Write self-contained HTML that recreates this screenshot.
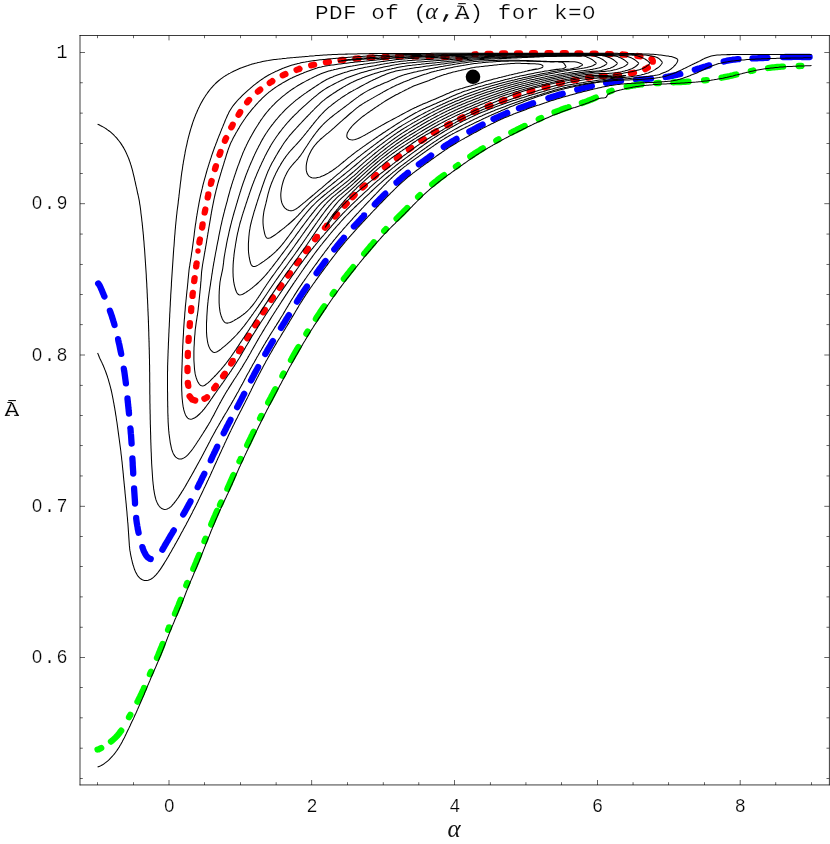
<!DOCTYPE html>
<html><head><meta charset="utf-8"><title>PDF of (alpha, A) for k=0</title>
<style>html,body{margin:0;padding:0;background:#fff;font-family:"Liberation Mono",monospace}svg{display:block}</style>
</head><body>
<svg width="830" height="844" viewBox="0 0 830 844">
<rect width="830" height="844" fill="#fff"/>
<g fill="none" stroke="#0000ff" stroke-width="6.3" stroke-linecap="round" stroke-linejoin="round">
<path d="M98.2,283.5L99.1,284.7L99.9,286.0L100.5,287.3L101.1,288.7L101.7,290.1L102.3,291.5L102.9,292.9L103.5,294.3L104.0,295.7L104.4,296.4"/>
<path d="M109.9,310.7L110.0,311.0L110.5,312.4L111.0,313.8L111.5,315.2L112.0,316.6L112.4,318.1L112.9,319.5L113.3,320.9L113.8,322.4L114.2,323.8L114.5,325.0"/>
<path d="M118.1,339.2L118.2,339.8L118.5,341.3L118.8,342.7L119.2,344.2L119.5,345.7L119.8,347.1L120.1,348.6L120.4,350.1L120.7,351.5L121.0,353.0L121.2,353.9"/>
<path d="M123.8,368.6L123.9,369.2L124.1,370.7L124.4,372.2L124.6,373.7L124.8,375.2L125.0,376.6L125.2,378.1L125.4,379.6L125.6,381.1L125.8,382.6L125.9,383.4"/>
<path d="M127.5,398.5L127.5,399.0L127.7,400.5L127.8,402.0L128.0,403.5L128.1,405.0L128.3,406.5L128.4,407.9L128.6,409.4L128.7,410.9L128.9,412.4L129.0,413.5"/>
<path d="M130.4,428.5L130.5,428.8L130.6,430.3L130.7,431.8L130.8,433.3L131.0,434.8L131.1,436.3L131.2,437.8L131.3,439.3L131.4,440.8L131.5,442.3L131.6,443.5"/>
<path d="M132.4,458.5L132.4,458.8L132.5,460.3L132.6,461.8L132.7,463.3L132.7,464.8L132.8,466.3L132.9,467.8L133.0,469.2L133.1,470.7L133.2,472.2L133.2,473.5"/>
<path d="M134.1,488.5L134.1,488.7L134.2,490.2L134.3,491.7L134.4,493.2L134.5,494.7L134.6,496.2L134.7,497.7L134.8,499.2L134.9,500.7L135.0,502.2L135.0,503.5"/>
<path d="M136.2,518.0L136.2,518.6L136.4,520.1L136.6,521.6L136.8,523.1L137.1,524.6L137.3,526.0L137.6,527.5L137.8,529.0L138.1,530.4L138.4,531.9L138.6,532.8"/>
<path d="M142.4,547.1L142.6,547.8L143.1,549.2L143.6,550.6L144.2,551.9L144.8,553.1L145.5,554.4L146.2,555.5L147.0,556.5L147.9,557.4L148.8,558.1L149.8,558.7L150.7,559.0"/>
<path d="M162.4,549.7L162.6,549.4L163.3,548.1L164.1,546.8L164.8,545.5L165.6,544.2L166.3,542.9L167.1,541.6L167.9,540.3L168.6,539.0L169.4,537.8L170.1,536.5L170.9,535.2L171.7,533.9L172.5,532.6L173.2,531.3L173.8,530.4"/>
<path d="M183.2,514.5L183.9,513.3L184.7,512.0L185.4,510.7L186.2,509.3L186.9,508.0L187.6,506.7L188.3,505.4L189.0,504.1L189.8,502.8L190.5,501.4L190.5,501.4"/>
<path d="M197.7,487.2L197.9,486.7L198.6,485.4L199.2,484.0L199.9,482.7L200.6,481.4L201.2,480.0L201.9,478.7L202.5,477.3L203.2,476.0L203.9,474.6L204.3,473.8"/>
<path d="M210.8,460.3L211.0,459.8L211.7,458.4L212.3,457.0L212.9,455.7L213.6,454.3L214.2,453.0L214.9,451.6L215.5,450.3L216.2,448.9L216.8,447.6L217.2,446.7"/>
<path d="M223.7,433.2L224.0,432.7L224.6,431.4L225.3,430.0L226.0,428.7L226.6,427.3L227.3,426.0L228.0,424.7L228.7,423.3L229.4,422.0L230.1,420.7L230.5,419.9"/>
<path d="M237.2,407.1L237.8,406.1L238.5,404.8L239.2,403.4L239.9,402.1L240.6,400.8L241.3,399.4L242.0,398.1L242.6,396.8L243.3,395.4L244.0,394.1L244.2,393.8"/>
<path d="M251.0,380.4L251.6,379.4L252.2,378.1L252.9,376.8L253.6,375.5L254.3,374.1L255.0,372.8L255.7,371.5L256.4,370.2L257.2,368.8L257.9,367.5L258.1,367.1"/>
<path d="M265.3,354.0L265.8,353.1L266.6,351.8L267.3,350.5L268.1,349.2L268.8,347.9L269.6,346.6L270.4,345.3L271.1,344.0L271.9,342.7L272.7,341.4L272.9,341.1"/>
<path d="M281.0,327.9L281.3,327.4L282.1,326.1L282.9,324.8L283.7,323.6L284.5,322.3L285.3,321.0L286.0,319.7L286.8,318.4L287.6,317.2L288.4,315.9L288.9,315.1"/>
<path d="M297.0,301.6L297.7,300.5L298.5,299.2L299.3,298.0L300.1,296.7L300.9,295.5L301.8,294.2L302.6,292.9L303.4,291.7L304.3,290.5L305.1,289.2L305.9,288.0L306.8,286.7L306.9,286.6"/>
<path d="M316.6,273.1L317.3,272.1L318.2,270.9L319.0,269.7L319.9,268.5L320.8,267.3L321.7,266.1L322.6,264.9L323.5,263.7L324.4,262.4L325.3,261.2L325.5,261.0"/>
<path d="M334.3,249.4L334.4,249.3L335.3,248.2L336.3,247.0L337.2,245.8L338.1,244.7L339.1,243.5L340.1,242.3L341.0,241.2L342.0,240.1L343.0,238.9L343.9,237.8"/>
<path d="M353.9,226.5L354.9,225.5L355.9,224.4L356.9,223.3L358.0,222.2L359.0,221.1L360.0,220.0L361.0,218.9L362.0,217.8L363.1,216.7L364.1,215.6L364.1,215.5"/>
<path d="M374.8,204.4L375.5,203.6L376.5,202.6L377.6,201.5L378.6,200.4L379.7,199.3L380.7,198.3L381.8,197.2L382.8,196.1L383.9,195.1L384.9,194.0L385.3,193.7"/>
<path d="M396.5,182.6L396.7,182.5L397.8,181.4L398.9,180.4L400.0,179.4L401.2,178.4L402.3,177.4L403.4,176.5L404.6,175.5L405.7,174.6L406.9,173.6L407.9,172.8"/>
<path d="M418.9,164.4L420.0,163.6L421.2,162.7L422.4,161.9L423.6,161.0L424.9,160.1L426.1,159.2L427.3,158.4L428.5,157.5L429.7,156.6L431.0,155.7L431.1,155.6"/>
<path d="M443.8,146.9L444.5,146.3L445.8,145.5L447.0,144.7L448.3,143.9L449.6,143.1L450.8,142.3L452.1,141.5L453.4,140.7L454.7,140.0L455.9,139.2L456.5,138.9"/>
<path d="M469.4,131.6L470.3,131.1L471.6,130.4L473.0,129.7L474.3,128.9L475.6,128.2L476.9,127.5L478.2,126.8L479.6,126.1L480.9,125.4L482.2,124.7L482.6,124.5"/>
<path d="M493.5,119.0L494.3,118.7L495.6,118.0L497.0,117.4L498.4,116.8L499.7,116.2L501.1,115.6L502.5,115.0L503.8,114.4L505.2,113.8L506.6,113.2L507.2,112.9"/>
<path d="M519.0,108.3L519.2,108.2L520.6,107.7L522.0,107.2L523.4,106.7L524.8,106.2L526.2,105.7L527.6,105.2L529.0,104.7L530.4,104.1L531.8,103.6L533.1,103.2"/>
<path d="M548.4,98.1L548.9,97.9L550.3,97.5L551.8,97.0L553.2,96.6L554.6,96.1L556.1,95.7L557.5,95.2L558.9,94.8L560.4,94.4L561.8,94.0L562.7,93.7"/>
<path d="M577.2,89.7L577.7,89.6L579.2,89.2L580.6,88.8L582.1,88.4L583.5,88.1L585.0,87.7L586.4,87.3L587.9,87.0L589.3,86.6L590.8,86.3L591.8,86.0"/>
<path d="M606.1,82.9L606.9,82.8L608.4,82.5L609.9,82.2L611.3,82.0L612.8,81.8L614.3,81.6L615.8,81.4L617.3,81.2L618.8,81.0L620.3,80.9L621.0,80.8"/>
<path d="M636.0,79.8L636.7,79.7L638.2,79.6L639.7,79.5L641.2,79.4L642.7,79.3L644.2,79.2L645.7,79.1L647.2,79.0L648.7,78.8L650.2,78.7L651.0,78.6"/>
<path d="M665.6,77.0L666.5,76.8L668.0,76.6L669.5,76.3L671.0,76.1L672.4,75.8L673.9,75.5L675.4,75.2L676.8,74.8L678.3,74.5L679.7,74.1L680.3,74.0"/>
<path d="M694.8,69.7L695.5,69.5L697.0,69.0L698.4,68.6L699.9,68.2L701.3,67.7L702.7,67.3L704.2,66.9L705.6,66.5L707.0,66.0L708.5,65.6L709.2,65.4"/>
<path d="M723.7,61.5L724.4,61.3L725.9,61.0L727.3,60.7L728.8,60.4L730.3,60.2L731.8,60.0L733.2,59.7L734.7,59.6L736.2,59.4L737.7,59.2L738.5,59.2"/>
<path d="M752.5,58.4L752.7,58.4L754.1,58.4L755.6,58.3L757.1,58.3L758.6,58.2L760.1,58.1L761.6,58.1L763.1,58.0L764.6,57.9L766.1,57.8L767.5,57.8"/>
<path d="M783.0,57.1L784.1,57.1L785.6,57.0L787.1,57.0L788.6,57.0L790.1,57.0L791.5,57.0L793.0,56.9L794.5,56.9L796.1,56.9L797.6,56.9L799.1,56.9L800.6,56.9L802.1,57.0L803.6,57.0L805.1,57.0L806.6,57.0L808.1,57.0L809.6,57.0"/>
</g>
<g fill="none" stroke="#ff0000" stroke-width="6.3" stroke-linecap="round">
<path d="M189.6,396.3 L192.2,399.6 L195.2,400.6"/>
<path d="M188.3,385.9L188.2,385.2L188.0,384.2L187.8,383.2L187.8,383.0"/>
<path d="M187.5,371.0L187.5,370.3L187.5,369.3L187.5,368.3L187.5,368.0"/>
<path d="M187.8,356.0L187.8,355.3L187.8,354.3L187.9,353.3L187.9,353.0"/>
<path d="M188.5,340.9L188.6,340.3L188.6,339.3L188.7,338.3L188.7,337.9"/>
<path d="M189.7,326.1L189.7,325.4L189.8,324.4L189.9,323.4L189.9,323.1"/>
<path d="M191.1,311.1L191.1,310.4L191.2,309.4L191.3,308.4L191.3,308.1"/>
<path d="M192.5,295.9L192.5,295.5L192.6,294.5L192.7,293.5L192.8,292.9"/>
<path d="M194.2,281.1L194.3,280.6L194.4,279.6L194.5,278.6L194.6,278.1"/>
<path d="M196.2,266.5L196.3,265.8L196.4,264.8L196.5,263.8L196.6,263.5"/>
<path d="M198.0,251.1L198.0,251.0" stroke-width="5.4"/>
<path d="M199.4,242.5L199.4,242.0L199.6,241.0L199.8,240.0L199.9,239.5"/>
<path d="M202.1,227.5L202.2,227.2L202.3,226.3L202.5,225.3L202.6,224.5"/>
<path d="M204.7,212.5L204.9,211.5L205.1,210.5L205.3,209.5L205.3,209.5"/>
<path d="M207.7,197.5L207.8,196.8L208.1,195.8L208.3,194.8L208.3,194.5"/>
<path d="M210.9,183.9L211.0,183.2L211.3,182.2L211.5,181.2L211.6,181.0"/>
<path d="M215.0,169.0L215.1,168.7L215.4,167.8L215.7,166.8L215.9,166.2"/>
<path d="M219.5,154.8L219.7,154.5L220.0,153.5L220.3,152.6L220.5,152.0"/>
<path d="M224.9,140.8L225.0,140.5L225.4,139.5L225.8,138.6L226.1,138.1"/>
<path d="M231.3,127.3L231.5,127.0L232.0,126.1L232.5,125.2L232.7,124.7"/>
<path d="M238.6,114.7L239.0,114.0L239.6,113.2L240.1,112.3L240.2,112.1"/>
<path d="M247.2,102.2L247.6,101.7L248.2,100.9L248.9,100.2L249.1,100.0"/>
<path d="M257.9,91.6L258.3,91.3L259.1,90.6L259.8,90.0L260.2,89.7"/>
<path d="M269.8,82.9L270.4,82.4L271.2,81.9L272.1,81.4L272.3,81.2"/>
<path d="M282.7,75.3L283.4,75.0L284.3,74.6L285.2,74.2L285.4,74.1"/>
<path d="M296.6,69.9L297.4,69.6L298.3,69.3L299.3,69.0L299.4,68.9"/>
<path d="M311.2,65.4L311.7,65.3L312.7,65.0L313.6,64.8L314.1,64.7"/>
<path d="M325.9,62.3L326.4,62.2L327.4,62.0L328.3,61.9L328.9,61.8"/>
<path d="M340.5,60.2L341.2,60.1L342.2,60.0L343.2,59.9L343.5,59.9"/>
<path d="M355.5,58.7L356.1,58.7L357.1,58.6L358.1,58.5L358.5,58.5"/>
<path d="M369.5,57.7L370.1,57.7L371.1,57.6L372.1,57.6L372.5,57.5"/>
<path d="M383.9,57.1L384.1,57.0L385.1,57.0L386.1,57.0L386.9,56.9"/>
<path d="M398.1,56.5L399.1,56.4L400.1,56.4L401.1,56.4L401.1,56.4"/>
<path d="M413.5,56.4L414.0,56.4L415.0,56.4L416.0,56.4L416.5,56.4"/>
<path d="M428.5,56.5L429.0,56.5L430.0,56.5L431.0,56.5L431.5,56.5"/>
<path d="M443.5,56.8L444.0,56.8L445.0,56.8L446.0,56.9L446.5,56.9"/>
<path d="M458.5,57.5L459.0,57.5L460.0,57.6"/>
<path d="M474.4,54.4L475.4,54.4L475.9,54.3"/>
<path d="M487.5,53.9L488.4,53.8L489.4,53.8L490.4,53.8L490.5,53.8"/>
<path d="M502.1,53.5L502.4,53.5L503.4,53.5L504.4,53.5L505.1,53.5"/>
<path d="M517.0,53.3L517.4,53.3L518.4,53.3L519.4,53.3L520.0,53.3"/>
<path d="M532.0,53.2L532.4,53.2L533.4,53.2L534.4,53.2L535.0,53.2"/>
<path d="M547.5,53.2L548.4,53.2L549.4,53.2L550.4,53.2L550.5,53.2"/>
<path d="M562.8,53.2L563.4,53.2L564.4,53.2L565.4,53.2L565.8,53.2"/>
<path d="M577.4,53.3L578.4,53.3L579.4,53.3L580.4,53.3L580.4,53.3"/>
<path d="M592.6,53.6L593.4,53.6L594.4,53.6L595.4,53.6L595.6,53.6"/>
<path d="M607.8,54.0L608.4,54.1L609.4,54.1L610.4,54.1L610.8,54.1"/>
<path d="M622.5,54.5L623.4,54.6L624.4,54.6L625.3,54.7L625.5,54.7"/>
<path d="M637.4,55.9L638.3,56.0L639.3,56.2L640.3,56.3L640.4,56.3"/>
<path d="M651.6,59.1L652.1,59.6L652.5,60.1L652.8,60.8L652.8,61.5L652.8,61.7"/>
<path d="M647.8,67.6L647.6,67.7L646.8,68.2L645.9,68.7L645.2,69.1"/>
<path d="M633.9,72.7L633.7,72.8L632.7,73.0L631.7,73.2L630.9,73.4"/>
<path d="M619.0,75.1L618.9,75.1L617.9,75.2L616.9,75.3L616.0,75.4"/>
<path d="M604.7,75.8L603.9,75.8L602.9,75.9L601.9,75.9L601.7,75.9"/>
<path d="M591.0,77.1L591.0,77.1L590.0,77.3L589.0,77.4L588.0,77.6"/>
<path d="M576.5,79.8L576.2,79.8L575.2,80.0L574.3,80.2L573.5,80.4"/>
<path d="M561.8,82.7L561.5,82.8L560.5,83.0L559.6,83.2L558.9,83.4"/>
<path d="M547.4,86.5L547.0,86.6L546.0,86.9L545.1,87.1L544.6,87.3"/>
<path d="M532.4,90.6L531.6,90.8L530.6,91.1L529.7,91.4L529.6,91.4"/>
<path d="M518.4,94.6L518.1,94.7L517.2,95.0L516.2,95.3L515.6,95.5"/>
<path d="M504.4,99.9L504.1,100.0L503.2,100.4L502.3,100.8L501.6,101.0"/>
<path d="M490.4,105.4L490.2,105.5L489.2,105.9L488.3,106.3L487.6,106.5"/>
<path d="M476.4,110.9L476.2,111.0L475.3,111.4L474.4,111.8L473.6,112.1"/>
<path d="M462.8,117.3L462.6,117.4L461.8,117.9L460.9,118.3L460.2,118.7"/>
<path d="M449.8,123.8L449.2,124.1L448.3,124.6L447.5,125.1L447.2,125.2"/>
<path d="M436.3,131.3L436.1,131.4L435.2,131.9L434.4,132.4L433.7,132.8"/>
<path d="M423.9,139.2L423.5,139.4L422.6,140.0L421.8,140.5L421.3,140.8"/>
<path d="M411.2,147.7L411.0,147.8L410.2,148.4L409.4,149.0L408.8,149.4"/>
<path d="M399.2,156.4L398.9,156.6L398.1,157.2L397.3,157.8L396.8,158.2"/>
<path d="M387.2,165.4L386.9,165.6L386.1,166.3L385.3,166.9L384.9,167.3"/>
<path d="M376.1,175.2L375.7,175.6L374.9,176.3L374.2,176.9L373.9,177.2"/>
<path d="M364.8,185.5L364.6,185.7L363.8,186.4L363.1,187.0L362.6,187.5"/>
<path d="M354.6,195.1L354.4,195.3L353.7,196.0L353.0,196.7L352.5,197.2"/>
<path d="M346.7,203.5L346.2,204.0L345.5,204.8L344.9,205.5L344.7,205.7"/>
<path d="M337.0,214.3L336.8,214.5L336.2,215.2L335.5,215.9L335.0,216.5"/>
<path d="M327.0,225.5L326.8,225.6L326.2,226.4L325.5,227.1L325.0,227.7"/>
<path d="M317.0,236.9L316.9,236.9L316.3,237.7L315.7,238.5L315.1,239.2"/>
<path d="M307.9,248.8L307.9,248.8L307.3,249.6L306.7,250.4L306.1,251.2"/>
<path d="M298.9,260.8L298.9,260.8L298.3,261.6L297.7,262.4L297.1,263.2"/>
<path d="M289.9,273.2L289.5,273.8L288.9,274.6L288.3,275.4L288.1,275.6"/>
<path d="M281.3,285.4L280.8,286.0L280.2,286.8L279.6,287.7L279.5,287.8"/>
<path d="M272.9,297.4L272.8,297.5L272.2,298.3L271.7,299.1L271.2,299.9"/>
<path d="M264.8,309.7L264.6,310.1L264.1,310.9L263.5,311.8L263.2,312.3"/>
<path d="M256.8,322.7L256.7,322.8L256.2,323.7L255.7,324.5L255.2,325.3"/>
<path d="M248.8,335.7L248.3,336.5L247.8,337.3L247.3,338.2L247.2,338.3"/>
<path d="M240.8,348.7L240.5,349.2L239.9,350.1L239.4,350.9L239.2,351.3"/>
<path d="M232.8,360.9L232.8,361.0L232.3,361.8L231.7,362.6L231.2,363.5"/>
<path d="M224.8,373.7L224.3,374.5L223.7,375.3L223.2,376.1L223.1,376.2"/>
<path d="M215.9,385.8L215.4,386.6L214.8,387.4L214.2,388.2L214.2,388.3"/>
<path d="M207.0,397.3L206.9,397.4L206.0,397.9L205.2,398.4L204.4,398.7"/>
</g>
<g fill="none" stroke="#00ff00" stroke-width="6.3" stroke-linecap="round" stroke-linejoin="round">
<path d="M97.5,749.5L98.6,749.3L99.9,748.7L101.2,748.0L101.2,748.0"/>
<path d="M111.0,741.6L111.2,741.4L112.3,740.5L113.4,739.5L114.5,738.5L115.6,737.5L116.6,736.4L117.6,735.3L118.5,734.2L119.5,733.0L120.3,731.8L121.2,730.7"/>
<path d="M129.0,717.2L129.4,716.4L130.2,715.1L130.3,714.9"/>
<path d="M137.5,701.6L138.1,700.6L138.7,699.3L139.4,697.9L140.1,696.6L140.7,695.2L141.4,693.9L142.0,692.5L142.6,691.2L143.3,689.8L143.9,688.4L144.0,688.1"/>
<path d="M149.9,674.2L150.3,673.3L150.9,671.9L151.0,671.8"/>
<path d="M157.0,657.9L157.5,656.8L158.1,655.4L158.7,654.0L159.2,652.6L159.8,651.2L160.4,649.8L160.9,648.4L161.5,647.1L162.0,645.7L162.6,644.3L162.7,644.0"/>
<path d="M168.1,629.8L168.5,628.9L169.1,627.5L169.1,627.4"/>
<path d="M175.0,613.7L175.6,612.3L176.2,611.0L176.7,609.6L177.3,608.2L177.9,606.8L178.5,605.4L179.0,604.0L179.6,602.6L180.1,601.2L180.7,599.8L180.7,599.8"/>
<path d="M186.3,585.4L186.7,584.5L187.2,583.1L187.3,583.0"/>
<path d="M193.3,568.9L193.7,567.9L194.3,566.6L194.9,565.2L195.5,563.8L196.1,562.4L196.6,561.0L197.2,559.6L197.8,558.3L198.3,556.9L198.9,555.5L199.1,555.0"/>
<path d="M204.5,541.2L205.0,540.1L205.5,538.8"/>
<path d="M211.2,524.5L211.6,523.4L212.2,522.0L212.8,520.7L213.4,519.3L214.0,517.9L214.6,516.5L215.2,515.2L215.8,513.8L216.4,512.4L217.0,511.1L217.2,510.7"/>
<path d="M220.0,504.8L220.2,504.3L220.9,502.9L221.1,502.4"/>
<path d="M227.4,488.8L227.8,488.0L228.4,486.6L229.0,485.2L229.6,483.9L230.2,482.5L230.8,481.1L231.4,479.7L232.0,478.4L232.6,477.0L233.2,475.6L233.5,475.1"/>
<path d="M239.5,461.2L239.9,460.5L240.5,459.2L240.6,458.9"/>
<path d="M247.2,445.2L247.6,444.3L248.3,443.0L248.9,441.6L249.6,440.3L250.2,438.9L250.9,437.6L251.5,436.2L252.2,434.8L252.8,433.5L253.5,432.1L253.7,431.7"/>
<path d="M260.1,418.2L260.6,417.3L261.2,415.9L261.3,415.9"/>
<path d="M268.2,402.6L268.9,401.3L269.6,400.0L270.3,398.7L271.0,397.4L271.7,396.0L272.4,394.7L273.1,393.4L273.8,392.1L274.5,390.7L275.2,389.4L275.3,389.3"/>
<path d="M282.4,375.8L282.9,374.8L283.6,373.5L283.6,373.5"/>
<path d="M291.0,360.0L291.6,359.0L292.3,357.7L293.1,356.4L293.8,355.1L294.5,353.8L295.3,352.5L296.0,351.2L296.8,349.9L297.5,348.6L298.3,347.3L298.5,347.0"/>
<path d="M306.4,333.7L306.7,333.2L307.5,331.9L307.7,331.5"/>
<path d="M315.9,318.8L316.4,318.0L317.2,316.7L318.0,315.5L318.9,314.2L319.7,313.0L320.5,311.7L321.4,310.5L322.2,309.2L323.0,308.0L323.9,306.8L324.2,306.3"/>
<path d="M332.7,294.1L333.3,293.2L334.2,292.0L334.2,292.0"/>
<path d="M343.9,278.9L344.0,278.8L344.9,277.6L345.9,276.4L346.8,275.2L347.7,274.1L348.6,272.9L349.6,271.7L350.5,270.5L351.4,269.4L352.4,268.2L353.2,267.2"/>
<path d="M364.2,253.8L364.7,253.1L365.7,252.0L366.7,250.8L367.6,249.7L368.6,248.5L369.6,247.4L370.5,246.2L371.5,245.1L372.5,244.0L373.5,242.8L373.9,242.3"/>
<path d="M384.2,231.0L384.5,230.6L385.6,229.6L386.0,229.1"/>
<path d="M396.6,218.7L397.3,218.0L398.4,216.9L399.5,215.9L400.5,214.8L401.6,213.8L402.7,212.7L403.7,211.6L404.8,210.6L405.8,209.5L406.9,208.4L407.2,208.1"/>
<path d="M418.1,197.0L418.4,196.7L419.5,195.7L420.0,195.2"/>
<path d="M432.2,184.3L433.0,183.7L434.1,182.8L435.3,181.8L436.5,180.9L437.6,180.0L438.8,179.0L440.0,178.1L441.2,177.2L442.4,176.3L443.6,175.4L444.1,175.1"/>
<path d="M455.9,166.7L457.1,165.9L458.0,165.2"/>
<path d="M470.3,156.5L470.5,156.4L471.7,155.5L473.0,154.7L474.2,153.8L475.5,153.0L476.7,152.2L478.0,151.4L479.3,150.6L480.5,149.8L481.8,149.0L482.9,148.3"/>
<path d="M496.3,140.7L497.4,140.0L498.6,139.4"/>
<path d="M511.3,132.6L512.0,132.3L513.3,131.6L514.6,130.9L516.0,130.3L517.3,129.6L518.7,128.9L520.0,128.2L521.3,127.6L522.7,126.9L524.0,126.2L524.7,125.9"/>
<path d="M538.8,119.2L538.9,119.1L540.3,118.5L541.2,118.1"/>
<path d="M554.5,112.3L555.4,112.0L556.8,111.4L558.2,110.9L559.6,110.4L561.0,109.8L562.4,109.3L563.8,108.8L565.2,108.3L566.7,107.9L568.1,107.4L568.6,107.2"/>
<path d="M581.9,103.0L582.4,102.8L583.8,102.4L585.2,101.9L586.6,101.4L588.0,100.8L589.4,100.3L590.8,99.7L592.2,99.2L593.5,98.6L594.9,98.0L595.8,97.6"/>
<path d="M609.3,91.7L610.0,91.4L611.4,90.9L611.7,90.8"/>
<path d="M626.7,86.7L627.3,86.6L628.8,86.3L630.3,86.0L631.7,85.8L633.2,85.5L634.7,85.3L636.2,85.0L637.6,84.8L639.1,84.6L640.6,84.4L641.5,84.4"/>
<path d="M656.3,83.1L657.0,83.1L658.5,83.0L658.9,83.0"/>
<path d="M673.5,82.3L673.5,82.3L675.0,82.2L676.5,82.2L678.0,82.1L679.5,82.0L681.0,82.0L682.5,81.9L684.0,81.8L685.5,81.8L687.0,81.7L688.5,81.6L688.5,81.6"/>
<path d="M704.1,80.4L704.9,80.3L706.4,80.1L706.7,80.1"/>
<path d="M721.6,77.7L722.7,77.5L724.1,77.2L725.6,76.9L727.1,76.6L728.5,76.3L730.0,76.0L731.5,75.6L732.9,75.3L734.4,74.9L735.8,74.6L736.3,74.5"/>
<path d="M750.8,71.0L751.9,70.8L753.3,70.5"/>
<path d="M768.1,68.0L768.1,68.0L769.6,67.8L771.1,67.6L772.6,67.4L774.1,67.3L775.6,67.1L777.1,67.0L778.6,66.9L780.0,66.8L781.5,66.7L783.0,66.6"/>
<path d="M798.7,66.0L799.5,66.0L801.0,65.9L801.3,65.9"/>
</g>
<g fill="none" stroke="#000" stroke-width="1.05" stroke-linejoin="round" stroke-linecap="butt">
<path d="M97.6,767.0L99.0,766.4L100.4,765.9L101.7,765.2L103.0,764.5L104.3,763.6L105.5,762.7L106.6,761.8L107.8,760.8L108.9,759.8L109.9,758.8L111.0,757.7L112.0,756.6L113.0,755.5L114.0,754.4L114.9,753.2L115.8,752.0L116.7,750.8L117.5,749.6L118.4,748.3L119.2,747.1L119.9,745.8L120.7,744.5L121.4,743.2L122.1,741.9L122.8,740.5L123.5,739.2L124.2,737.9L124.9,736.5L125.5,735.2L126.2,733.8L126.8,732.5L127.5,731.1L128.1,729.8L128.8,728.4L129.4,727.1L130.1,725.7L130.7,724.3L131.3,723.0L132.0,721.6L132.6,720.3L133.3,718.9L133.9,717.6L134.5,716.2L135.1,714.8L135.8,713.5L136.4,712.1L137.0,710.7L137.6,709.4L138.2,708.0L138.8,706.6L139.4,705.2L140.0,703.9L140.6,702.5L141.2,701.1L141.8,699.7L142.4,698.4L143.0,697.0L143.6,695.6L144.2,694.2L144.7,692.8L145.3,691.4L145.9,690.1L146.5,688.7L147.1,687.3L147.6,685.9L148.2,684.5L148.8,683.1L149.4,681.7L150.0,680.4L150.5,679.0L151.1,677.6L151.7,676.2L152.3,674.8L152.9,673.5L153.5,672.1L154.1,670.7L154.7,669.3L155.3,668.0L155.9,666.6L156.5,665.2L157.1,663.8L157.7,662.4L158.3,661.1L158.8,659.7L159.4,658.3L160.0,656.9L160.6,655.5L161.2,654.1L161.7,652.8L162.3,651.4L162.8,650.0L163.4,648.6L163.9,647.2L164.5,645.8L165.0,644.4L165.6,643.0L166.1,641.6L166.6,640.2L167.2,638.8L167.7,637.4L168.3,636.0L168.8,634.6L169.4,633.2L169.9,631.8L170.5,630.4L171.1,629.0L171.6,627.6L172.2,626.2L172.8,624.9L173.4,623.5L174.0,622.1L174.5,620.7L175.1,619.3L175.7,618.0L176.3,616.6L176.9,615.2L177.5,613.8L178.1,612.4L178.6,611.0L179.2,609.7L179.8,608.3L180.4,606.9L181.0,605.5L181.5,604.1L182.1,602.7L182.6,601.3L183.2,599.9L183.7,598.5L184.3,597.1L184.8,595.7L185.4,594.3L185.9,592.9L186.4,591.5L187.0,590.1L187.6,588.8L188.1,587.4L188.7,586.0L189.3,584.6L189.9,583.2L190.4,581.8L191.0,580.4L191.6,579.1L192.2,577.7L192.8,576.3L193.4,574.9L193.9,573.5L194.5,572.1L195.1,570.8L195.7,569.4L196.3,568.0L196.9,566.6L197.4,565.2L198.0,563.8L198.6,562.5L199.2,561.1L199.7,559.7L200.3,558.3L200.9,556.9L201.4,555.5L202.0,554.1L202.5,552.7L203.1,551.3L203.6,549.9L204.2,548.5L204.7,547.1L205.3,545.7L205.8,544.3L206.4,543.0L206.9,541.6L207.5,540.2L208.0,538.8L208.6,537.4L209.2,536.0L209.7,534.6L210.3,533.2L210.8,531.8L211.4,530.4L212.0,529.0L212.5,527.6L213.1,526.3L213.7,524.9L214.3,523.5L214.9,522.1L215.4,520.7L216.0,519.3L216.6,518.0L217.2,516.6L217.8,515.2L218.4,513.8L219.0,512.5L219.6,511.1L220.3,509.7L220.9,508.4L221.5,507.0L222.1,505.6L222.8,504.3L223.4,502.9L224.1,501.6L224.7,500.2L225.3,498.8L226.0,497.5L226.6,496.1L227.2,494.8L227.9,493.4L228.5,492.0L229.1,490.7L229.7,489.3L230.3,487.9L230.9,486.6L231.6,485.2L232.2,483.8L232.8,482.4L233.4,481.1L234.0,479.7L234.6,478.3L235.2,476.9L235.8,475.6L236.4,474.2L237.0,472.8L237.6,471.5L238.2,470.1L238.8,468.7L239.4,467.3L240.1,466.0L240.7,464.6L241.3,463.3L241.9,461.9L242.6,460.5L243.2,459.2L243.8,457.8L244.5,456.4L245.1,455.1L245.7,453.7L246.4,452.4L247.0,451.0L247.7,449.7L248.3,448.3L248.9,446.9L249.6,445.6L250.2,444.2L250.9,442.9L251.5,441.5L252.1,440.2L252.8,438.8L253.4,437.4L254.1,436.1L254.7,434.7L255.4,433.4L256.0,432.0L256.7,430.7L257.4,429.3L258.0,428.0L258.7,426.6L259.3,425.3L260.0,423.9L260.7,422.6L261.3,421.3L262.0,419.9L262.7,418.6L263.3,417.2L264.0,415.9L264.7,414.5L265.3,413.2L266.0,411.9L266.7,410.5L267.4,409.2L268.1,407.9L268.8,406.5L269.5,405.2L270.2,403.9L270.9,402.5L271.6,401.2L272.3,399.9L273.0,398.6L273.7,397.2L274.4,395.9L275.1,394.6L275.8,393.3L276.5,391.9L277.2,390.6L277.9,389.3L278.6,388.0L279.3,386.6L280.0,385.3L280.7,384.0L281.4,382.7L282.1,381.3L282.8,380.0L283.5,378.7L284.2,377.4L285.0,376.0L285.7,374.7L286.4,373.4L287.1,372.1L287.8,370.7L288.5,369.4L289.2,368.1L289.9,366.8L290.7,365.5L291.4,364.2L292.1,362.9L292.9,361.6L293.6,360.3L294.3,358.9L295.1,357.6L295.8,356.3L296.6,355.0L297.3,353.7L298.1,352.4L298.8,351.1L299.6,349.8L300.3,348.5L301.1,347.2L301.8,345.9L302.6,344.6L303.3,343.3L304.1,342.0L304.9,340.8L305.6,339.5L306.4,338.2L307.2,336.9L308.0,335.6L308.8,334.3L309.5,333.1L310.3,331.8L311.1,330.5L311.9,329.2L312.7,328.0L313.5,326.7L314.3,325.4L315.1,324.2L316.0,322.9L316.8,321.7L317.6,320.4L318.4,319.1L319.2,317.9L320.1,316.6L320.9,315.4L321.7,314.1L322.6,312.9L323.4,311.6L324.2,310.4L325.1,309.2L325.9,307.9L326.8,306.7L327.6,305.4L328.5,304.2L329.3,303.0L330.2,301.7L331.0,300.5L331.9,299.3L332.7,298.0L333.6,296.8L334.5,295.6L335.3,294.4L336.2,293.2L337.1,291.9L338.0,290.7L338.9,289.5L339.8,288.3L340.7,287.1L341.6,285.9L342.5,284.7L343.4,283.5L344.3,282.3L345.2,281.1L346.1,279.9L347.0,278.7L347.9,277.6L348.9,276.4L349.8,275.2L350.7,274.0L351.6,272.8L352.6,271.7L353.5,270.5L354.4,269.3L355.4,268.1L356.3,267.0L357.3,265.8L358.2,264.6L359.2,263.5L360.1,262.3L361.1,261.2L362.0,260.0L363.0,258.8L363.9,257.7L364.9,256.5L365.8,255.4L366.8,254.2L367.8,253.1L368.7,251.9L369.7,250.8L370.7,249.6L371.7,248.5L372.6,247.4L373.6,246.2L374.6,245.1L375.6,243.9L376.6,242.8L377.6,241.7L378.6,240.6L379.6,239.5L380.6,238.3L381.6,237.2L382.6,236.1L383.6,235.0L384.6,233.9L385.7,232.8L386.7,231.8L387.7,230.7L388.8,229.6L389.9,228.5L390.9,227.5L392.0,226.4L393.0,225.4L394.1,224.3L395.2,223.3L396.2,222.2L397.3,221.2L398.4,220.1L399.5,219.0L400.5,218.0L401.6,216.9L402.6,215.9L403.7,214.8L404.8,213.8L405.8,212.7L406.9,211.6L407.9,210.6L409.0,209.5L410.1,208.4L411.1,207.4L412.2,206.3L413.2,205.2L414.3,204.2L415.3,203.1L416.4,202.0L417.4,201.0L418.5,199.9L419.6,198.8L420.7,197.8L421.7,196.8L422.8,195.7L423.9,194.7L425.0,193.7L426.1,192.7L427.2,191.7L428.4,190.7L429.5,189.7L430.6,188.7L431.8,187.7L432.9,186.8L434.1,185.8L435.2,184.9L436.4,183.9L437.6,183.0L438.7,182.0L439.9,181.1L441.1,180.2L442.3,179.3L443.5,178.4L444.7,177.5L445.9,176.6L447.1,175.7L448.3,174.8L449.6,174.0L450.8,173.1L452.0,172.2L453.2,171.3L454.4,170.5L455.7,169.6L456.9,168.7L458.1,167.9L459.3,167.0L460.6,166.1L461.8,165.3L463.0,164.4L464.2,163.5L465.5,162.7L466.7,161.8L467.9,160.9L469.1,160.1L470.4,159.2L471.6,158.4L472.9,157.5L474.1,156.7L475.3,155.9L476.6,155.0L477.9,154.2L479.1,153.4L480.4,152.6L481.7,151.8L482.9,151.0L484.2,150.2L485.5,149.5L486.8,148.7L488.1,147.9L489.4,147.2L490.7,146.4L492.0,145.7L493.3,144.9L494.6,144.2L495.9,143.5L497.2,142.7L498.5,142.0L499.8,141.3L501.2,140.6L502.5,139.8L503.8,139.1L505.1,138.4L506.4,137.7L507.8,137.0L509.1,136.3L510.4,135.6L511.8,134.9L513.1,134.2L514.4,133.6L515.8,132.9L517.1,132.2L518.4,131.5L519.8,130.8L521.1,130.2L522.5,129.5L523.8,128.8L525.2,128.2L526.5,127.5L527.8,126.8L529.2,126.2L530.6,125.5L531.9,124.9L533.3,124.2L534.6,123.6L536.0,123.0L537.3,122.3L538.7,121.7L540.1,121.1L541.4,120.4L542.8,119.8L544.2,119.2L545.5,118.6L546.9,118.0L548.3,117.4L549.7,116.8L551.0,116.2L552.4,115.6L553.8,115.1L555.2,114.5L556.6,113.9L558.0,113.4L559.4,112.9L560.8,112.3L562.2,111.8L563.6,111.3L565.0,110.8L566.4,110.3L567.8,109.8L569.3,109.3L570.7,108.8L572.1,108.3L573.5,107.8L574.9,107.4L576.4,106.9L577.8,106.4L579.2,105.9L580.6,105.5L582.1,105.0L583.5,104.5L584.9,104.0L586.3,103.4L587.7,102.9L589.1,102.4L590.5,101.8L591.9,101.3L593.3,100.7L594.7,100.2L596.1,99.6L597.5,99.1L598.9,98.6L600.3,98.2L601.8,97.9L603.3,97.9L604.8,97.8L606.1,97.3L606.9,96.1L607.5,94.8L608.6,93.9L610.0,93.3L611.4,92.8L612.8,92.3L614.2,91.8L615.6,91.3L617.1,90.8L618.5,90.4L620.0,90.0L621.4,89.7L622.9,89.3L624.3,89.0L625.8,88.6L627.3,88.3L628.7,88.0L630.2,87.7L631.7,87.4L633.2,87.1L634.6,86.9L636.1,86.6L637.6,86.4L639.1,86.2L640.6,86.0L642.1,85.8L643.5,85.6L645.0,85.5L646.5,85.3L648.0,85.2L649.5,85.0L651.0,84.9L652.5,84.8L654.0,84.6L655.5,84.5L657.0,84.4L658.5,84.3L660.0,84.2L661.5,84.1L663.0,84.0L664.5,84.0L666.0,83.9L667.5,83.8L669.0,83.7L670.5,83.6L672.0,83.6L673.5,83.5L675.0,83.4L676.5,83.3L678.0,83.2L679.5,83.2L681.0,83.1L682.5,83.0L684.0,82.9L685.5,82.8L687.0,82.7L688.5,82.6L690.0,82.5L691.5,82.4L692.9,82.3L694.4,82.2L695.9,82.1L697.4,81.9L698.9,81.8L700.4,81.7L701.9,81.5L703.4,81.3L704.9,81.1L706.4,80.9L707.9,80.7L709.3,80.5L710.8,80.3L712.3,80.0L713.8,79.8L715.3,79.5L716.7,79.3L718.2,79.0L719.7,78.7L721.2,78.4L722.7,78.2L724.1,77.9L725.6,77.6L727.1,77.3L728.5,76.9L730.0,76.6L731.4,76.2L732.9,75.9L734.4,75.5L735.8,75.1L737.3,74.8L738.7,74.4L740.2,74.0L741.6,73.7L743.1,73.3L744.5,72.9L746.0,72.6L747.5,72.2L748.9,71.9L750.4,71.5L751.8,71.2L753.3,70.9L754.8,70.6L756.2,70.3L757.7,70.0L759.2,69.7L760.7,69.4L762.1,69.2L763.6,69.0L765.1,68.8L766.6,68.6L768.1,68.4L769.6,68.2L771.1,68.0L772.6,67.9L774.1,67.7L775.5,67.5L777.0,67.4L778.5,67.3L780.0,67.1L781.5,67.0L783.0,66.9L784.5,66.8L786.0,66.7L787.5,66.6L789.0,66.5L790.5,66.4L792.0,66.4L793.5,66.3L795.0,66.2L796.5,66.2L798.0,66.1L799.5,66.0L801.0,66.0L802.5,65.9L804.0,65.9L805.5,65.8L807.0,65.8L808.5,65.7L810.0,65.7L811.5,65.6"/>
<path d="M97.6,353.0L98.2,354.4L98.8,355.8L99.3,357.2L99.9,358.5L100.6,359.9L101.2,361.3L101.9,362.6L102.5,364.0L103.1,365.3L103.7,366.7L104.3,368.1L104.8,369.5L105.4,370.9L105.9,372.3L106.4,373.7L106.9,375.1L107.4,376.5L107.8,377.9L108.3,379.4L108.7,380.8L109.1,382.3L109.5,383.7L109.9,385.1L110.3,386.6L110.7,388.1L111.0,389.5L111.4,391.0L111.7,392.4L112.0,393.9L112.3,395.4L112.6,396.8L112.9,398.3L113.2,399.8L113.4,401.3L113.7,402.7L114.0,404.2L114.2,405.7L114.5,407.2L114.8,408.7L115.0,410.1L115.3,411.6L115.5,413.1L115.7,414.6L116.0,416.1L116.2,417.5L116.4,419.0L116.6,420.5L116.9,422.0L117.1,423.5L117.3,425.0L117.5,426.5L117.7,427.9L117.9,429.4L118.1,430.9L118.3,432.4L118.5,433.9L118.7,435.4L118.9,436.9L119.1,438.3L119.3,439.8L119.5,441.3L119.7,442.8L119.9,444.3L120.1,445.8L120.3,447.3L120.5,448.8L120.7,450.3L120.9,451.7L121.0,453.2L121.2,454.7L121.4,456.2L121.6,457.7L121.7,459.2L121.9,460.7L122.1,462.2L122.2,463.7L122.4,465.2L122.5,466.7L122.7,468.2L122.8,469.6L123.0,471.1L123.1,472.6L123.3,474.1L123.4,475.6L123.5,477.1L123.7,478.6L123.8,480.1L124.0,481.6L124.1,483.1L124.3,484.6L124.4,486.1L124.6,487.6L124.7,489.1L124.9,490.6L125.0,492.1L125.1,493.5L125.3,495.0L125.4,496.5L125.6,498.0L125.7,499.5L125.9,501.0L126.0,502.5L126.2,504.0L126.3,505.5L126.4,507.0L126.6,508.5L126.7,510.0L126.9,511.5L127.0,513.0L127.1,514.5L127.2,516.0L127.4,517.5L127.5,519.0L127.6,520.4L127.7,521.9L127.9,523.4L128.0,524.9L128.1,526.4L128.2,527.9L128.3,529.4L128.4,530.9L128.5,532.4L128.6,533.9L128.7,535.4L128.8,536.9L128.9,538.4L129.0,539.9L129.1,541.4L129.2,542.9L129.3,544.4L129.4,545.9L129.6,547.4L129.7,548.9L129.9,550.4L130.2,551.8L130.4,553.3L130.7,554.8L131.0,556.3L131.3,557.7L131.6,559.2L132.0,560.6L132.3,562.1L132.7,563.5L133.1,565.0L133.6,566.4L134.0,567.8L134.5,569.3L135.0,570.6L135.6,572.0L136.3,573.3L137.0,574.6L137.8,575.8L138.7,576.9L139.6,577.9L140.7,578.8L141.8,579.5L143.1,580.1L144.3,580.4L145.6,580.6L146.9,580.5L148.2,580.3L149.5,579.8L150.7,579.2L151.9,578.5L153.1,577.6L154.2,576.7L155.2,575.6L156.2,574.6L157.2,573.4L158.1,572.3L159.0,571.1L159.9,569.9L160.8,568.6L161.6,567.4L162.4,566.1L163.2,564.9L164.0,563.6L164.8,562.3L165.6,561.0L166.4,559.7L167.1,558.4L167.9,557.2L168.6,555.9L169.4,554.6L170.1,553.3L170.9,552.0L171.6,550.7L172.4,549.3L173.1,548.0L173.9,546.7L174.6,545.4L175.3,544.1L176.1,542.8L176.8,541.5L177.5,540.2L178.2,538.9L179.0,537.6L179.7,536.2L180.4,534.9L181.1,533.6L181.8,532.3L182.6,531.0L183.3,529.6L184.0,528.3L184.7,527.0L185.4,525.7L186.1,524.4L186.8,523.0L187.5,521.7L188.2,520.4L188.9,519.0L189.6,517.7L190.3,516.4L191.0,515.1L191.7,513.7L192.4,512.4L193.0,511.1L193.7,509.7L194.4,508.4L195.1,507.0L195.8,505.7L196.4,504.4L197.1,503.0L197.8,501.7L198.4,500.3L199.1,499.0L199.7,497.6L200.4,496.3L201.0,494.9L201.7,493.6L202.3,492.2L203.0,490.8L203.6,489.5L204.2,488.1L204.9,486.8L205.5,485.4L206.2,484.1L206.8,482.7L207.4,481.3L208.1,480.0L208.7,478.6L209.3,477.3L210.0,475.9L210.6,474.5L211.2,473.2L211.8,471.8L212.5,470.4L213.1,469.1L213.7,467.7L214.3,466.3L214.9,465.0L215.6,463.6L216.2,462.2L216.8,460.9L217.4,459.5L218.0,458.1L218.7,456.8L219.3,455.4L219.9,454.0L220.5,452.7L221.2,451.3L221.8,449.9L222.4,448.6L223.0,447.2L223.7,445.9L224.3,444.5L224.9,443.1L225.6,441.8L226.2,440.4L226.8,439.0L227.5,437.7L228.1,436.3L228.7,435.0L229.4,433.6L230.0,432.3L230.7,430.9L231.3,429.6L232.0,428.2L232.6,426.9L233.3,425.5L234.0,424.2L234.6,422.8L235.3,421.5L236.0,420.1L236.7,418.8L237.4,417.5L238.0,416.1L238.7,414.8L239.4,413.5L240.1,412.1L240.8,410.8L241.5,409.5L242.2,408.1L242.8,406.8L243.5,405.4L244.2,404.1L244.9,402.8L245.5,401.4L246.2,400.1L246.9,398.7L247.6,397.4L248.2,396.1L248.9,394.7L249.5,393.4L250.2,392.0L250.9,390.7L251.5,389.3L252.2,388.0L252.9,386.6L253.5,385.3L254.2,383.9L254.9,382.6L255.6,381.3L256.2,379.9L256.9,378.6L257.6,377.3L258.3,375.9L259.0,374.6L259.7,373.3L260.4,371.9L261.1,370.6L261.8,369.3L262.5,368.0L263.2,366.6L263.9,365.3L264.6,364.0L265.3,362.7L266.0,361.3L266.8,360.0L267.5,358.7L268.2,357.4L269.0,356.1L269.7,354.8L270.4,353.5L271.2,352.2L271.9,350.9L272.7,349.6L273.4,348.3L274.2,347.0L274.9,345.7L275.7,344.4L276.5,343.1L277.2,341.8L278.0,340.5L278.8,339.2L279.6,338.0L280.4,336.7L281.1,335.4L281.9,334.1L282.7,332.8L283.5,331.6L284.3,330.3L285.1,329.0L285.8,327.7L286.6,326.5L287.4,325.2L288.2,323.9L289.0,322.6L289.7,321.3L290.5,320.0L291.3,318.7L292.0,317.4L292.8,316.1L293.6,314.9L294.3,313.6L295.1,312.3L295.8,311.0L296.6,309.7L297.4,308.4L298.2,307.1L298.9,305.8L299.7,304.5L300.5,303.3L301.3,302.0L302.1,300.7L302.9,299.4L303.7,298.2L304.5,296.9L305.3,295.7L306.1,294.4L307.0,293.2L307.8,291.9L308.6,290.7L309.5,289.4L310.3,288.2L311.2,287.0L312.1,285.7L312.9,284.5L313.8,283.3L314.7,282.1L315.5,280.8L316.4,279.6L317.3,278.4L318.2,277.2L319.1,276.0L319.9,274.8L320.8,273.6L321.7,272.3L322.6,271.1L323.5,269.9L324.4,268.7L325.3,267.5L326.2,266.3L327.1,265.1L327.9,263.9L328.8,262.7L329.7,261.5L330.6,260.3L331.5,259.1L332.4,257.9L333.3,256.7L334.3,255.5L335.2,254.3L336.1,253.1L337.0,251.9L337.9,250.7L338.9,249.6L339.8,248.4L340.8,247.2L341.7,246.1L342.7,244.9L343.6,243.8L344.6,242.6L345.6,241.5L346.5,240.3L347.5,239.2L348.5,238.1L349.5,236.9L350.5,235.8L351.5,234.7L352.5,233.6L353.5,232.4L354.5,231.3L355.5,230.2L356.5,229.1L357.5,228.0L358.5,226.9L359.5,225.8L360.6,224.7L361.6,223.6L362.6,222.5L363.6,221.4L364.6,220.3L365.6,219.2L366.7,218.1L367.7,217.0L368.7,215.9L369.8,214.8L370.8,213.7L371.8,212.6L372.8,211.5L373.9,210.4L374.9,209.4L376.0,208.3L377.0,207.2L378.1,206.1L379.1,205.0L380.1,204.0L381.2,202.9L382.2,201.8L383.3,200.7L384.3,199.7L385.4,198.6L386.4,197.5L387.5,196.4L388.5,195.4L389.6,194.3L390.6,193.2L391.7,192.2L392.8,191.1L393.8,190.1L394.9,189.0L396.0,187.9L397.0,186.9L398.1,185.9L399.2,184.8L400.3,183.8L401.4,182.8L402.5,181.8L403.7,180.8L404.8,179.8L405.9,178.8L407.1,177.9L408.2,176.9L409.4,176.0L410.6,175.0L411.8,174.1L412.9,173.2L414.1,172.3L415.3,171.4L416.5,170.5L417.7,169.6L419.0,168.7L420.2,167.8L421.4,166.9L422.6,166.1L423.8,165.2L425.0,164.3L426.2,163.4L427.5,162.5L428.7,161.7L429.9,160.8L431.1,159.9L432.3,159.0L433.6,158.2L434.8,157.3L436.0,156.4L437.2,155.5L438.4,154.7L439.7,153.8L440.9,153.0L442.1,152.1L443.4,151.3L444.6,150.4L445.9,149.6L447.1,148.8L448.4,147.9L449.6,147.1L450.9,146.3L452.2,145.5L453.5,144.7L454.7,144.0L456.0,143.2L457.3,142.4L458.6,141.6L459.9,140.9L461.2,140.1L462.5,139.4L463.8,138.7L465.1,137.9L466.4,137.2L467.7,136.5L469.1,135.7L470.4,135.0L471.7,134.3L473.0,133.6L474.3,132.9L475.7,132.2L477.0,131.5L478.3,130.8L479.6,130.0L480.9,129.3L482.3,128.6L483.6,127.9L484.9,127.2L486.3,126.6L487.6,125.9L488.9,125.2L490.3,124.5L491.6,123.8L493.0,123.2L494.3,122.5L495.7,121.9L497.0,121.2L498.4,120.6L499.7,120.0L501.1,119.3L502.5,118.7L503.9,118.1L505.2,117.5L506.6,116.9L508.0,116.4L509.4,115.8L510.8,115.2L512.2,114.7L513.6,114.1L515.0,113.6L516.4,113.0L517.8,112.5L519.2,112.0L520.6,111.4L522.0,110.9L523.4,110.4L524.8,109.9L526.2,109.4L527.6,108.8L529.0,108.3L530.4,107.8L531.8,107.3L533.3,106.8L534.7,106.3L536.1,105.8L537.5,105.3L538.9,104.9L540.4,104.4L541.8,103.9L543.2,103.4L544.6,102.9L546.1,102.5L547.5,102.0L548.9,101.5L550.3,101.1L551.8,100.6L553.2,100.2L554.6,99.7L556.1,99.3L557.5,98.8L558.9,98.4L560.4,98.0L561.8,97.5L563.2,97.1L564.7,96.7L566.1,96.3L567.6,95.9L569.0,95.5L570.5,95.1L571.9,94.7L573.4,94.3L574.8,93.9L576.3,93.5L577.7,93.1L579.2,92.7L580.6,92.4L582.1,92.0L583.5,91.6L585.0,91.2L586.4,90.9L587.9,90.5L589.3,90.2L590.8,89.8L592.3,89.4L593.7,89.1L595.2,88.7L596.6,88.4L598.1,88.0L599.6,87.7L601.0,87.4L602.5,87.1L604.0,86.8L605.4,86.5L606.9,86.2L608.4,85.9L609.9,85.6L611.3,85.4L612.8,85.2L614.3,84.9L615.8,84.7L617.3,84.6L618.8,84.4L620.3,84.2L621.8,84.1L623.2,84.0L624.7,83.8L626.2,83.7L627.7,83.6L629.2,83.5L630.7,83.4L632.2,83.3L633.7,83.2L635.2,83.2L636.7,83.1L638.2,83.0L639.7,82.9L641.2,82.8L642.7,82.8L644.2,82.7L645.7,82.6L647.2,82.6L648.7,82.5L650.2,82.5L651.7,82.4L653.2,82.4L654.7,82.3L656.2,82.2L657.7,82.1L659.2,82.0L660.7,81.9L662.2,81.8L663.7,81.7L665.2,81.6L666.7,81.5L668.2,81.3L669.7,81.2L671.2,81.0L672.6,80.8L674.1,80.5L675.6,80.2L677.0,79.9L678.5,79.5L679.9,79.2L681.4,78.7L682.8,78.3L684.2,77.8L685.6,77.3L687.0,76.8L688.4,76.2L689.8,75.7L691.2,75.1L692.6,74.6L694.0,74.0L695.4,73.5L696.8,72.9L698.2,72.3L699.5,71.6L700.9,71.0L702.2,70.3L703.6,69.7L704.9,69.0L706.2,68.3L707.6,67.7L709.0,67.1L710.3,66.5L711.7,65.9L713.1,65.4L714.5,64.9L715.9,64.5L717.4,64.0L718.8,63.6L720.3,63.3L721.7,62.9L723.2,62.6L724.7,62.3L726.1,62.0L727.6,61.8L729.1,61.5L730.6,61.3L732.1,61.1L733.6,60.9L735.0,60.7L736.5,60.5L738.0,60.4L739.5,60.2L741.0,60.1L742.5,60.0L744.0,59.9L745.5,59.7L747.0,59.6L748.5,59.5L750.0,59.4L751.5,59.3L753.0,59.3L754.5,59.2L756.0,59.1L757.5,59.0L759.0,59.0L760.5,58.9L762.0,58.8L763.5,58.8L765.0,58.7L766.5,58.7L768.0,58.6L769.5,58.6L771.0,58.5L772.5,58.5L774.0,58.4L775.5,58.4L777.0,58.3L778.5,58.3L780.0,58.3L781.5,58.2L783.0,58.2L784.5,58.2L786.0,58.1L787.5,58.1L789.0,58.1L790.5,58.1L792.0,58.0L793.5,58.0L795.0,58.0L796.5,58.0L798.0,57.9L799.4,57.9L801.0,57.9L802.5,57.9L804.0,57.8L805.5,57.8L807.0,57.8L808.5,57.8L810.0,57.7L811.5,57.7"/>
<path d="M97.6,124.2L99.0,124.8L100.3,125.5L101.7,126.2L103.0,126.9L104.3,127.6L105.5,128.4L106.8,129.3L108.0,130.2L109.2,131.0L110.4,131.9L111.5,132.9L112.6,133.9L113.7,134.9L114.7,136.0L115.8,137.1L116.8,138.2L117.7,139.3L118.7,140.5L119.6,141.7L120.5,142.9L121.3,144.1L122.1,145.4L122.9,146.6L123.7,147.9L124.4,149.2L125.1,150.5L125.8,151.9L126.4,153.2L127.0,154.6L127.6,156.0L128.2,157.4L128.8,158.8L129.3,160.2L129.8,161.6L130.3,163.0L130.7,164.4L131.2,165.8L131.6,167.3L132.0,168.7L132.4,170.2L132.8,171.6L133.1,173.1L133.5,174.5L133.8,176.0L134.2,177.4L134.5,178.9L134.8,180.4L135.2,181.8L135.5,183.3L135.8,184.8L136.1,186.2L136.5,187.7L136.8,189.2L137.1,190.6L137.4,192.1L137.7,193.5L138.1,195.0L138.4,196.5L138.7,197.9L139.0,199.4L139.3,200.9L139.5,202.3L139.7,203.8L140.0,205.3L140.2,206.8L140.4,208.3L140.6,209.7L140.8,211.2L140.9,212.7L141.1,214.2L141.3,215.7L141.5,217.2L141.7,218.7L141.8,220.2L142.0,221.7L142.2,223.1L142.3,224.6L142.5,226.1L142.6,227.6L142.8,229.1L142.9,230.6L143.1,232.1L143.2,233.6L143.4,235.1L143.5,236.6L143.6,238.1L143.7,239.6L143.9,241.1L144.0,242.5L144.1,244.0L144.2,245.5L144.3,247.0L144.5,248.5L144.6,250.0L144.7,251.5L144.8,253.0L144.9,254.5L145.0,256.0L145.1,257.5L145.2,259.0L145.3,260.5L145.4,262.0L145.5,263.5L145.6,265.0L145.7,266.5L145.8,268.0L145.9,269.5L146.0,271.0L146.1,272.5L146.2,274.0L146.3,275.5L146.3,277.0L146.4,278.4L146.5,279.9L146.6,281.4L146.7,282.9L146.8,284.4L146.8,285.9L146.9,287.4L147.0,288.9L147.1,290.4L147.1,291.9L147.2,293.4L147.3,294.9L147.3,296.4L147.4,297.9L147.5,299.4L147.6,300.9L147.6,302.4L147.7,303.9L147.8,305.4L147.8,306.9L147.9,308.4L147.9,309.9L148.0,311.4L148.1,312.9L148.1,314.4L148.2,315.9L148.3,317.4L148.3,318.9L148.4,320.4L148.4,321.9L148.5,323.4L148.5,324.9L148.6,326.4L148.6,327.9L148.7,329.4L148.7,330.9L148.8,332.4L148.8,333.9L148.8,335.4L148.9,336.9L148.9,338.4L149.0,339.9L149.0,341.4L149.1,342.9L149.1,344.4L149.1,345.9L149.2,347.4L149.2,348.9L149.3,350.4L149.3,351.9L149.3,353.4L149.4,354.9L149.4,356.4L149.4,357.8L149.5,359.3L149.5,360.8L149.5,362.3L149.5,363.8L149.6,365.3L149.6,366.8L149.6,368.3L149.6,369.8L149.6,371.3L149.7,372.8L149.7,374.3L149.7,375.8L149.7,377.3L149.7,378.8L149.7,380.3L149.7,381.8L149.8,383.3L149.8,384.8L149.8,386.3L149.8,387.8L149.8,389.3L149.8,390.8L149.8,392.3L149.8,393.8L149.9,395.3L149.9,396.8L149.9,398.3L149.9,399.8L149.9,401.3L149.9,402.8L150.0,404.3L150.0,405.8L150.0,407.3L150.0,408.8L150.1,410.3L150.1,411.8L150.1,413.3L150.2,414.8L150.2,416.3L150.2,417.8L150.2,419.3L150.3,420.8L150.3,422.3L150.3,423.8L150.4,425.3L150.4,426.8L150.5,428.3L150.5,429.8L150.5,431.3L150.6,432.8L150.6,434.3L150.7,435.8L150.7,437.3L150.7,438.8L150.8,440.3L150.8,441.8L150.9,443.3L150.9,444.8L151.0,446.3L151.0,447.8L151.1,449.3L151.1,450.8L151.2,452.3L151.3,453.8L151.3,455.3L151.4,456.8L151.4,458.3L151.5,459.8L151.6,461.3L151.6,462.8L151.7,464.3L151.8,465.8L151.9,467.3L152.0,468.8L152.1,470.3L152.2,471.8L152.3,473.2L152.4,474.7L152.5,476.2L152.6,477.7L152.7,479.2L152.8,480.7L153.0,482.2L153.1,483.7L153.3,485.2L153.5,486.7L153.6,488.2L153.8,489.7L154.1,491.1L154.3,492.6L154.6,494.1L154.9,495.6L155.2,497.0L155.6,498.4L156.0,499.9L156.5,501.3L157.1,502.6L157.7,503.9L158.5,505.2L159.3,506.3L160.3,507.3L161.3,508.2L162.4,508.8L163.6,509.3L164.8,509.4L166.0,509.3L167.2,509.0L168.4,508.4L169.6,507.7L170.7,506.8L171.7,505.8L172.7,504.7L173.7,503.6L174.6,502.4L175.5,501.3L176.4,500.1L177.3,498.8L178.2,497.6L179.0,496.4L179.8,495.1L180.6,493.9L181.4,492.6L182.2,491.3L183.0,490.1L183.8,488.8L184.6,487.5L185.3,486.2L186.1,484.9L186.8,483.6L187.6,482.3L188.3,481.0L189.0,479.7L189.8,478.4L190.5,477.1L191.3,475.8L192.0,474.5L192.7,473.2L193.5,471.9L194.2,470.5L194.9,469.2L195.7,467.9L196.4,466.6L197.1,465.3L197.8,464.0L198.5,462.7L199.3,461.3L200.0,460.0L200.7,458.7L201.4,457.4L202.1,456.1L202.8,454.7L203.5,453.4L204.2,452.1L204.9,450.8L205.6,449.4L206.3,448.1L207.0,446.8L207.7,445.4L208.4,444.1L209.1,442.8L209.8,441.5L210.5,440.1L211.1,438.8L211.8,437.5L212.5,436.2L213.3,434.8L214.0,433.5L214.7,432.2L215.4,430.9L216.1,429.6L216.9,428.3L217.6,427.0L218.4,425.7L219.1,424.4L219.9,423.1L220.6,421.8L221.4,420.5L222.2,419.2L222.9,417.9L223.7,416.6L224.5,415.3L225.2,414.0L226.0,412.8L226.8,411.5L227.5,410.2L228.3,408.9L229.0,407.6L229.8,406.3L230.6,405.0L231.3,403.7L232.1,402.4L232.8,401.1L233.6,399.8L234.3,398.5L235.0,397.2L235.8,395.9L236.5,394.6L237.2,393.3L238.0,392.0L238.7,390.7L239.4,389.3L240.1,388.0L240.8,386.7L241.5,385.4L242.3,384.1L243.0,382.7L243.7,381.4L244.4,380.1L245.1,378.8L245.8,377.5L246.5,376.1L247.2,374.8L247.9,373.5L248.7,372.2L249.4,370.9L250.1,369.6L250.8,368.3L251.6,366.9L252.3,365.6L253.0,364.3L253.8,363.0L254.5,361.7L255.2,360.4L256.0,359.1L256.7,357.8L257.4,356.5L258.2,355.2L258.9,353.9L259.7,352.6L260.4,351.3L261.2,350.0L261.9,348.7L262.7,347.4L263.4,346.1L264.2,344.8L265.0,343.5L265.7,342.2L266.5,340.9L267.3,339.7L268.1,338.4L268.9,337.1L269.6,335.8L270.4,334.6L271.2,333.3L272.0,332.0L272.8,330.8L273.6,329.5L274.4,328.2L275.2,326.9L276.0,325.7L276.8,324.4L277.6,323.1L278.4,321.9L279.2,320.6L280.0,319.3L280.7,318.0L281.5,316.7L282.3,315.5L283.1,314.2L283.8,312.9L284.6,311.6L285.4,310.3L286.1,309.0L286.9,307.7L287.7,306.4L288.4,305.2L289.2,303.9L290.0,302.6L290.7,301.3L291.5,300.0L292.3,298.7L293.1,297.5L293.9,296.2L294.7,294.9L295.5,293.6L296.3,292.4L297.1,291.1L297.9,289.9L298.7,288.6L299.6,287.4L300.4,286.1L301.3,284.9L302.1,283.6L302.9,282.4L303.8,281.2L304.7,279.9L305.5,278.7L306.4,277.5L307.2,276.3L308.1,275.0L309.0,273.8L309.8,272.6L310.7,271.4L311.6,270.2L312.5,268.9L313.3,267.7L314.2,266.5L315.1,265.3L316.0,264.1L316.9,262.9L317.7,261.7L318.6,260.4L319.5,259.2L320.4,258.0L321.3,256.8L322.2,255.6L323.1,254.4L324.0,253.2L324.8,252.0L325.7,250.8L326.7,249.6L327.6,248.4L328.5,247.2L329.4,246.0L330.3,244.8L331.2,243.7L332.2,242.5L333.1,241.3L334.0,240.2L335.0,239.0L335.9,237.8L336.9,236.7L337.9,235.5L338.8,234.4L339.8,233.2L340.8,232.1L341.8,231.0L342.7,229.8L343.7,228.7L344.7,227.6L345.7,226.5L346.7,225.3L347.7,224.2L348.7,223.1L349.7,222.0L350.7,220.9L351.7,219.8L352.7,218.6L353.7,217.5L354.7,216.4L355.7,215.3L356.7,214.2L357.8,213.1L358.8,212.0L359.8,210.9L360.8,209.8L361.8,208.7L362.9,207.6L363.9,206.5L364.9,205.4L365.9,204.3L367.0,203.2L368.0,202.1L369.0,201.1L370.1,200.0L371.1,198.9L372.1,197.8L373.2,196.7L374.2,195.6L375.2,194.6L376.3,193.5L377.3,192.4L378.4,191.3L379.4,190.2L380.5,189.2L381.5,188.1L382.5,187.0L383.6,185.9L384.6,184.9L385.7,183.8L386.7,182.7L387.8,181.7L388.8,180.6L389.9,179.6L391.0,178.5L392.1,177.5L393.2,176.4L394.3,175.4L395.4,174.4L396.5,173.4L397.6,172.4L398.7,171.4L399.9,170.5L401.0,169.5L402.2,168.6L403.4,167.6L404.6,166.7L405.8,165.8L406.9,164.9L408.1,164.0L409.4,163.1L410.6,162.2L411.8,161.3L413.0,160.5L414.2,159.6L415.4,158.7L416.6,157.9L417.9,157.0L419.1,156.1L420.3,155.2L421.5,154.4L422.7,153.5L424.0,152.6L425.2,151.8L426.4,150.9L427.6,150.0L428.9,149.1L430.1,148.3L431.3,147.4L432.5,146.6L433.8,145.7L435.0,144.8L436.2,144.0L437.5,143.2L438.7,142.3L440.0,141.5L441.2,140.7L442.5,139.9L443.8,139.1L445.0,138.3L446.3,137.5L447.6,136.8L448.9,136.0L450.2,135.3L451.5,134.6L452.8,133.8L454.2,133.1L455.5,132.4L456.8,131.7L458.2,131.0L459.5,130.4L460.8,129.7L462.2,129.0L463.5,128.4L464.9,127.7L466.2,127.0L467.6,126.4L468.9,125.7L470.3,125.1L471.6,124.4L473.0,123.8L474.3,123.1L475.6,122.5L477.0,121.8L478.3,121.2L479.7,120.5L481.1,119.9L482.4,119.2L483.8,118.6L485.1,117.9L486.5,117.3L487.8,116.7L489.2,116.0L490.6,115.4L491.9,114.8L493.3,114.2L494.7,113.6L496.0,113.0L497.4,112.4L498.8,111.8L500.2,111.2L501.5,110.6L502.9,110.0L504.3,109.4L505.7,108.8L507.1,108.2L508.4,107.7L509.8,107.1L511.2,106.5L512.6,106.0L514.0,105.4L515.4,104.8L516.8,104.3L518.2,103.8L519.6,103.2L521.0,102.7L522.4,102.2L523.8,101.6L525.2,101.1L526.6,100.6L528.0,100.1L529.4,99.6L530.8,99.1L532.3,98.6L533.7,98.1L535.1,97.6L536.5,97.1L537.9,96.6L539.3,96.1L540.8,95.7L542.2,95.2L543.6,94.7L545.0,94.3L546.5,93.8L547.9,93.4L549.3,92.9L550.8,92.5L552.2,92.1L553.6,91.7L555.1,91.3L556.5,90.9L558.0,90.5L559.4,90.1L560.9,89.7L562.3,89.3L563.8,89.0L565.2,88.6L566.7,88.3L568.2,87.9L569.6,87.6L571.1,87.2L572.5,86.9L574.0,86.6L575.5,86.3L576.9,86.0L578.4,85.7L579.9,85.4L581.4,85.1L582.8,84.8L584.3,84.5L585.8,84.3L587.3,84.0L588.7,83.8L590.2,83.5L591.7,83.3L593.2,83.1L594.7,82.9L596.1,82.6L597.6,82.4L599.1,82.2L600.6,82.0L602.1,81.9L603.6,81.7L605.1,81.5L606.6,81.3L608.0,81.2L609.5,81.0L611.0,80.9L612.5,80.7L614.0,80.6L615.5,80.5L617.0,80.4L618.5,80.3L620.0,80.2L621.5,80.2L623.0,80.1L624.5,80.0L626.0,80.0L627.5,79.9L629.0,79.9L630.5,79.8L632.0,79.8L633.5,79.7L635.0,79.7L636.5,79.6L638.0,79.6L639.5,79.5L641.0,79.4L642.5,79.3L644.0,79.2L645.5,79.1L646.9,79.0L648.4,78.8L649.9,78.7L651.4,78.5L652.9,78.4L654.4,78.2L655.9,78.0L657.4,77.8L658.9,77.6L660.3,77.3L661.8,77.1L663.3,76.7L664.7,76.4L666.2,76.0L667.6,75.6L669.0,75.1L670.4,74.6L671.8,74.1L673.2,73.5L674.6,73.0L676.0,72.4L677.3,71.8L678.7,71.1L680.1,70.5L681.4,69.9L682.8,69.2L684.1,68.6L685.5,67.9L686.8,67.3L688.1,66.6L689.5,65.9L690.8,65.3L692.2,64.6L693.5,64.0L694.9,63.3L696.2,62.7L697.6,62.0L698.9,61.4L700.3,60.7L701.6,60.0L702.9,59.3L704.3,58.6L705.6,58.0L707.0,57.4L708.4,56.9L709.8,56.5L711.2,56.1L712.6,55.8L714.1,55.5L715.6,55.3L717.1,55.1L718.6,55.0L720.1,54.9L721.6,54.8L723.0,54.8L724.5,54.7L726.0,54.7L727.5,54.6L729.0,54.6L730.5,54.6L732.0,54.5L733.5,54.5L735.0,54.5L736.5,54.5L738.0,54.5L739.5,54.5L741.0,54.4L742.5,54.4L744.0,54.4L745.5,54.4L747.0,54.4L748.5,54.4L750.0,54.4L751.5,54.4L753.0,54.4L754.5,54.4L756.0,54.4L757.5,54.4L759.0,54.4L760.5,54.4L762.0,54.4L763.5,54.4L765.0,54.4L766.5,54.4L768.0,54.4L769.5,54.4L771.0,54.4L772.5,54.4L774.0,54.4L775.5,54.4L777.0,54.4L778.5,54.4L780.0,54.4L781.5,54.4L783.0,54.4L784.5,54.4L786.0,54.4L787.5,54.4L789.0,54.4L790.5,54.4L792.0,54.4L793.5,54.4L795.0,54.4L796.5,54.4L798.0,54.4L799.5,54.4L801.0,54.4L802.5,54.4L804.0,54.4L805.5,54.4L807.0,54.4L808.5,54.4L810.0,54.4L811.5,54.4"/>
<path d="M677.9,59.7L676.8,58.7L675.5,58.0L674.1,57.4L672.7,57.0L671.2,56.6L669.7,56.4L668.3,56.1L666.8,55.9L665.3,55.7L663.8,55.5L662.3,55.3L660.8,55.1L659.3,54.9L657.9,54.7L656.4,54.6L654.9,54.4L653.4,54.3L651.9,54.3L650.4,54.2L648.9,54.1L647.4,54.0L645.9,54.0L644.4,53.9L642.9,53.9L641.4,53.8L639.9,53.8L638.4,53.8L636.9,53.7L635.4,53.7L633.9,53.6L632.4,53.6L630.9,53.6L629.4,53.5L627.9,53.5L626.4,53.5L624.9,53.5L623.4,53.4L621.9,53.4L620.4,53.4L618.9,53.4L617.4,53.3L615.9,53.3L614.4,53.3L612.9,53.3L611.4,53.3L609.9,53.3L608.4,53.2L606.9,53.2L605.4,53.2L603.9,53.2L602.4,53.2L600.9,53.2L599.4,53.2L597.9,53.2L596.4,53.2L594.9,53.2L593.4,53.2L591.9,53.2L590.4,53.2L588.9,53.2L587.4,53.2L585.9,53.2L584.4,53.2L582.9,53.2L581.4,53.2L579.9,53.2L578.4,53.2L576.9,53.2L575.4,53.2L573.9,53.2L572.4,53.2L570.9,53.2L569.4,53.2L567.9,53.2L566.4,53.2L564.9,53.2L563.4,53.2L561.9,53.2L560.4,53.2L558.9,53.2L557.4,53.2L555.9,53.2L554.4,53.2L552.9,53.2L551.4,53.2L549.9,53.2L548.4,53.2L546.9,53.2L545.4,53.2L543.9,53.2L542.4,53.2L540.9,53.2L539.4,53.2L537.9,53.2L536.4,53.2L534.9,53.2L533.4,53.2L531.9,53.2L530.4,53.2L528.9,53.2L527.4,53.2L525.9,53.2L524.4,53.2L522.9,53.2L521.4,53.2L519.9,53.2L518.4,53.2L516.9,53.2L515.4,53.2L513.9,53.2L512.4,53.2L510.9,53.2L509.4,53.2L507.9,53.2L506.4,53.2L504.9,53.2L503.4,53.2L501.9,53.2L500.4,53.2L498.9,53.2L497.4,53.2L495.9,53.2L494.4,53.2L492.9,53.2L491.4,53.2L489.9,53.2L488.4,53.2L486.9,53.2L485.4,53.2L483.9,53.2L482.4,53.2L480.9,53.2L479.4,53.2L477.9,53.2L476.4,53.2L474.9,53.2L473.4,53.2L471.9,53.2L470.4,53.2L468.9,53.2L467.4,53.2L465.9,53.2L464.4,53.2L462.9,53.2L461.4,53.2L459.9,53.2L458.4,53.2L456.9,53.2L455.4,53.2L453.9,53.2L452.4,53.3L450.9,53.3L449.4,53.3L447.9,53.3L446.4,53.3L444.9,53.3L443.4,53.3L441.9,53.3L440.4,53.3L438.9,53.3L437.4,53.3L435.9,53.3L434.4,53.3L433.0,53.3L431.5,53.3L430.0,53.4L428.5,53.4L427.0,53.4L425.5,53.4L424.0,53.4L422.5,53.4L421.0,53.4L419.5,53.4L418.0,53.4L416.5,53.4L415.0,53.4L413.5,53.5L412.0,53.5L410.5,53.5L409.0,53.5L407.5,53.5L406.0,53.5L404.5,53.5L403.0,53.5L401.5,53.5L400.0,53.5L398.5,53.5L397.0,53.5L395.5,53.5L394.0,53.5L392.5,53.5L391.0,53.5L389.5,53.5L388.0,53.5L386.5,53.5L385.0,53.5L383.5,53.5L382.0,53.5L380.5,53.5L379.0,53.5L377.5,53.6L376.0,53.6L374.5,53.6L373.0,53.6L371.5,53.6L370.0,53.6L368.5,53.7L367.0,53.7L365.5,53.7L364.0,53.7L362.5,53.8L361.0,53.8L359.5,53.8L358.0,53.8L356.5,53.9L355.0,53.9L353.5,53.9L352.0,54.0L350.5,54.0L349.0,54.0L347.5,54.1L346.0,54.1L344.5,54.2L343.0,54.2L341.5,54.2L340.0,54.3L338.5,54.3L337.0,54.4L335.5,54.5L334.0,54.5L332.5,54.6L331.0,54.7L329.5,54.7L328.0,54.8L326.5,54.9L325.0,55.0L323.5,55.1L322.0,55.2L320.5,55.3L319.0,55.4L317.5,55.5L316.0,55.6L314.5,55.8L313.0,55.9L311.6,56.0L310.1,56.1L308.6,56.3L307.1,56.4L305.6,56.5L304.1,56.7L302.6,56.8L301.1,56.9L299.6,57.0L298.1,57.2L296.6,57.3L295.1,57.4L293.6,57.6L292.1,57.7L290.6,57.8L289.1,58.0L287.7,58.1L286.2,58.3L284.7,58.4L283.2,58.6L281.7,58.8L280.2,58.9L278.7,59.1L277.2,59.2L275.7,59.4L274.2,59.6L272.8,59.8L271.3,60.0L269.8,60.2L268.3,60.5L266.8,60.7L265.4,61.0L263.9,61.3L262.4,61.6L261.0,61.9L259.5,62.3L258.0,62.6L256.6,63.0L255.1,63.3L253.7,63.7L252.2,64.1L250.8,64.6L249.4,65.0L247.9,65.5L246.5,65.9L245.1,66.4L243.7,66.9L242.3,67.5L240.9,68.0L239.5,68.6L238.1,69.2L236.8,69.8L235.4,70.4L234.1,71.0L232.7,71.7L231.4,72.4L230.1,73.1L228.7,73.8L227.4,74.6L226.2,75.3L224.9,76.1L223.6,76.9L222.4,77.8L221.2,78.7L220.0,79.6L218.9,80.5L217.7,81.5L216.6,82.5L215.5,83.5L214.5,84.6L213.4,85.7L212.4,86.8L211.4,87.9L210.5,89.0L209.5,90.2L208.6,91.4L207.7,92.6L206.9,93.8L206.0,95.0L205.2,96.3L204.4,97.5L203.6,98.8L202.8,100.1L202.1,101.4L201.3,102.7L200.6,104.0L199.9,105.4L199.3,106.7L198.6,108.1L198.0,109.4L197.4,110.8L196.8,112.2L196.2,113.5L195.6,114.9L195.1,116.3L194.5,117.7L194.0,119.1L193.5,120.5L193.0,121.9L192.5,123.4L192.1,124.8L191.6,126.2L191.2,127.6L190.7,129.1L190.3,130.5L189.9,132.0L189.5,133.4L189.1,134.9L188.7,136.3L188.3,137.8L188.0,139.2L187.6,140.7L187.3,142.1L187.0,143.6L186.7,145.1L186.3,146.5L186.0,148.0L185.7,149.5L185.4,150.9L185.1,152.4L184.9,153.9L184.6,155.4L184.3,156.8L184.1,158.3L183.8,159.8L183.5,161.3L183.3,162.7L183.1,164.2L182.8,165.7L182.6,167.2L182.4,168.7L182.2,170.1L181.9,171.6L181.7,173.1L181.5,174.6L181.3,176.1L181.1,177.6L181.0,179.1L180.8,180.6L180.6,182.0L180.4,183.5L180.2,185.0L180.1,186.5L179.9,188.0L179.7,189.5L179.5,191.0L179.4,192.5L179.2,194.0L179.0,195.4L178.9,196.9L178.7,198.4L178.5,199.9L178.3,201.4L178.2,202.9L178.0,204.4L177.8,205.9L177.6,207.4L177.4,208.8L177.2,210.3L177.0,211.8L176.9,213.3L176.7,214.8L176.5,216.3L176.4,217.8L176.2,219.3L176.1,220.8L175.9,222.3L175.8,223.7L175.6,225.2L175.5,226.7L175.4,228.2L175.2,229.7L175.1,231.2L175.0,232.7L174.9,234.2L174.7,235.7L174.6,237.2L174.5,238.7L174.4,240.2L174.3,241.7L174.2,243.2L174.1,244.7L174.0,246.2L173.8,247.7L173.7,249.2L173.6,250.7L173.5,252.1L173.4,253.6L173.3,255.1L173.2,256.6L173.1,258.1L173.0,259.6L172.9,261.1L172.8,262.6L172.7,264.1L172.6,265.6L172.5,267.1L172.4,268.6L172.3,270.1L172.2,271.6L172.1,273.1L172.0,274.6L171.9,276.1L171.8,277.6L171.7,279.1L171.6,280.6L171.5,282.1L171.4,283.6L171.4,285.1L171.3,286.6L171.2,288.1L171.1,289.6L171.0,291.1L170.9,292.6L170.8,294.1L170.7,295.5L170.7,297.0L170.6,298.5L170.5,300.0L170.4,301.5L170.3,303.0L170.3,304.5L170.2,306.0L170.1,307.5L170.0,309.0L170.0,310.5L169.9,312.0L169.8,313.5L169.7,315.0L169.7,316.5L169.6,318.0L169.5,319.5L169.5,321.0L169.4,322.5L169.3,324.0L169.3,325.5L169.2,327.0L169.1,328.5L169.0,330.0L169.0,331.5L168.9,333.0L168.8,334.5L168.8,336.0L168.7,337.5L168.6,339.0L168.6,340.5L168.5,342.0L168.4,343.5L168.4,345.0L168.3,346.5L168.3,348.0L168.2,349.5L168.1,351.0L168.1,352.5L168.0,354.0L168.0,355.5L167.9,357.0L167.9,358.5L167.8,360.0L167.8,361.5L167.7,363.0L167.7,364.5L167.6,366.0L167.6,367.5L167.6,369.0L167.6,370.5L167.5,372.0L167.5,373.5L167.5,375.0L167.5,376.5L167.5,378.0L167.5,379.5L167.5,381.0L167.5,382.5L167.5,384.0L167.5,385.4L167.5,386.9L167.5,388.4L167.5,389.9L167.5,391.4L167.6,392.9L167.6,394.4L167.6,395.9L167.6,397.4L167.6,398.9L167.6,400.4L167.7,401.9L167.7,403.4L167.7,404.9L167.7,406.4L167.8,407.9L167.8,409.4L167.8,410.9L167.8,412.4L167.9,413.9L167.9,415.4L168.0,416.9L168.0,418.4L168.1,419.9L168.1,421.4L168.2,422.9L168.3,424.4L168.4,425.9L168.5,427.4L168.6,428.9L168.7,430.4L168.9,431.9L169.0,433.4L169.2,434.9L169.4,436.4L169.6,437.9L169.8,439.3L170.0,440.8L170.2,442.3L170.5,443.8L170.8,445.2L171.1,446.7L171.4,448.2L171.8,449.6L172.3,451.0L172.8,452.4L173.4,453.7L174.1,454.9L174.9,456.1L175.8,457.1L176.8,457.9L177.9,458.5L179.0,458.9L180.3,459.0L181.5,458.9L182.7,458.5L183.9,457.9L185.1,457.2L186.2,456.3L187.3,455.3L188.3,454.3L189.3,453.2L190.3,452.0L191.2,450.9L192.1,449.7L193.0,448.5L193.9,447.2L194.7,446.0L195.6,444.8L196.4,443.5L197.2,442.3L198.0,441.0L198.9,439.8L199.7,438.5L200.5,437.3L201.3,436.0L202.1,434.7L202.9,433.5L203.7,432.2L204.5,430.9L205.3,429.7L206.1,428.4L206.9,427.1L207.7,425.8L208.5,424.6L209.2,423.3L210.0,422.0L210.7,420.7L211.4,419.3L212.1,418.0L212.8,416.7L213.6,415.4L214.3,414.1L214.9,412.7L215.6,411.4L216.3,410.1L217.0,408.7L217.7,407.4L218.4,406.1L219.1,404.8L219.8,403.4L220.6,402.1L221.3,400.8L222.0,399.5L222.7,398.2L223.5,396.9L224.2,395.6L225.0,394.3L225.7,393.0L226.5,391.7L227.3,390.4L228.1,389.2L228.9,387.9L229.7,386.6L230.5,385.4L231.3,384.1L232.1,382.8L232.9,381.6L233.7,380.3L234.5,379.0L235.4,377.8L236.2,376.5L237.0,375.3L237.8,374.0L238.6,372.7L239.4,371.5L240.2,370.2L241.0,368.9L241.8,367.7L242.6,366.4L243.3,365.1L244.1,363.8L244.9,362.5L245.7,361.2L246.4,359.9L247.2,358.7L247.9,357.4L248.7,356.1L249.4,354.8L250.2,353.5L250.9,352.2L251.6,350.8L252.4,349.5L253.1,348.2L253.9,346.9L254.6,345.6L255.4,344.3L256.1,343.0L256.8,341.7L257.6,340.4L258.3,339.1L259.1,337.8L259.8,336.5L260.6,335.2L261.4,334.0L262.1,332.7L262.9,331.4L263.7,330.1L264.5,328.8L265.2,327.5L266.0,326.2L266.8,325.0L267.6,323.7L268.4,322.4L269.1,321.1L269.9,319.9L270.7,318.6L271.5,317.3L272.3,316.0L273.1,314.8L273.9,313.5L274.7,312.2L275.5,311.0L276.3,309.7L277.1,308.4L278.0,307.2L278.8,305.9L279.6,304.7L280.4,303.4L281.2,302.2L282.0,300.9L282.9,299.6L283.7,298.4L284.5,297.1L285.3,295.9L286.1,294.6L287.0,293.4L287.8,292.1L288.6,290.9L289.5,289.6L290.3,288.4L291.1,287.1L292.0,285.9L292.8,284.6L293.6,283.4L294.5,282.2L295.3,280.9L296.2,279.7L297.0,278.4L297.9,277.2L298.7,276.0L299.6,274.7L300.4,273.5L301.3,272.3L302.1,271.0L303.0,269.8L303.8,268.6L304.7,267.3L305.5,266.1L306.4,264.9L307.3,263.7L308.1,262.4L309.0,261.2L309.9,260.0L310.8,258.8L311.7,257.6L312.5,256.4L313.4,255.2L314.3,254.0L315.2,252.8L316.1,251.6L317.0,250.4L318.0,249.2L318.9,248.0L319.8,246.8L320.7,245.6L321.7,244.5L322.6,243.3L323.5,242.1L324.5,240.9L325.4,239.8L326.4,238.6L327.3,237.5L328.3,236.3L329.2,235.1L330.2,234.0L331.1,232.8L332.1,231.7L333.1,230.5L334.0,229.4L335.0,228.3L336.0,227.1L337.0,226.0L338.0,224.9L339.0,223.8L340.0,222.6L341.0,221.5L342.0,220.4L343.0,219.3L344.0,218.2L345.0,217.1L346.1,216.0L347.1,215.0L348.2,213.9L349.2,212.8L350.3,211.7L351.3,210.7L352.4,209.6L353.5,208.6L354.5,207.5L355.6,206.5L356.7,205.5L357.8,204.4L358.9,203.4L360.0,202.4L361.0,201.3L362.1,200.3L363.2,199.3L364.3,198.2L365.4,197.2L366.5,196.2L367.6,195.1L368.7,194.1L369.7,193.1L370.8,192.0L371.9,191.0L373.0,190.0L374.1,188.9L375.2,187.9L376.3,186.9L377.4,185.9L378.5,184.9L379.6,183.9L380.8,182.9L381.9,181.9L383.0,180.9L384.1,179.9L385.3,178.9L386.4,178.0L387.6,177.0L388.7,176.0L389.9,175.1L391.0,174.1L392.2,173.2L393.3,172.2L394.5,171.3L395.7,170.3L396.8,169.4L398.0,168.5L399.2,167.5L400.4,166.6L401.6,165.7L402.8,164.8L404.0,163.9L405.2,163.0L406.4,162.1L407.6,161.2L408.8,160.3L410.0,159.4L411.2,158.5L412.4,157.6L413.6,156.7L414.8,155.8L416.0,154.9L417.2,154.0L418.4,153.1L419.6,152.3L420.8,151.4L422.0,150.5L423.2,149.6L424.5,148.7L425.7,147.9L426.9,147.0L428.1,146.1L429.4,145.3L430.6,144.4L431.8,143.6L433.1,142.7L434.3,141.9L435.6,141.1L436.8,140.3L438.1,139.4L439.3,138.6L440.6,137.8L441.9,137.0L443.1,136.2L444.4,135.5L445.7,134.7L447.0,133.9L448.3,133.1L449.6,132.4L450.9,131.6L452.2,130.9L453.5,130.1L454.8,129.4L456.1,128.7L457.4,128.0L458.7,127.2L460.0,126.5L461.4,125.8L462.7,125.1L464.0,124.4L465.4,123.7L466.7,123.0L468.0,122.4L469.4,121.7L470.7,121.0L472.0,120.4L473.4,119.7L474.7,119.1L476.1,118.4L477.5,117.8L478.8,117.1L480.2,116.5L481.6,115.9L482.9,115.3L484.3,114.7L485.7,114.1L487.1,113.5L488.4,112.9L489.8,112.4L491.2,111.8L492.6,111.2L494.0,110.7L495.4,110.1L496.8,109.6L498.2,109.0L499.6,108.5L501.0,107.9L502.4,107.4L503.8,106.9L505.2,106.4L506.6,105.8L508.0,105.3L509.4,104.8L510.8,104.3L512.2,103.8L513.6,103.3L515.0,102.8L516.5,102.3L517.9,101.8L519.3,101.3L520.7,100.8L522.1,100.3L523.6,99.9L525.0,99.4L526.4,98.9L527.8,98.5L529.3,98.0L530.7,97.6L532.1,97.1L533.6,96.7L535.0,96.2L536.4,95.8L537.9,95.3L539.3,94.9L540.7,94.4L542.2,94.0L543.6,93.6L545.0,93.1L546.5,92.7L547.9,92.2L549.3,91.8L550.8,91.4L552.2,91.0L553.6,90.5L555.1,90.1L556.5,89.7L558.0,89.3L559.4,88.9L560.9,88.5L562.3,88.2L563.8,87.8L565.2,87.5L566.7,87.2L568.2,86.8L569.6,86.5L571.1,86.2L572.6,86.0L574.0,85.7L575.5,85.4L577.0,85.1L578.5,84.9L579.9,84.6L581.4,84.3L582.9,84.1L584.4,83.8L585.9,83.6L587.3,83.4L588.8,83.1L590.3,82.9L591.8,82.6L593.3,82.4L594.7,82.2L596.2,82.0L597.7,81.7L599.2,81.5L600.7,81.3L602.2,81.1L603.6,80.8L605.1,80.6L606.6,80.4L608.1,80.2L609.6,80.0L611.1,79.9L612.6,79.7L614.1,79.6L615.5,79.5L617.0,79.4L618.5,79.3L620.0,79.2L621.5,79.1L623.0,79.0L624.5,78.9L626.0,78.8L627.5,78.7L629.0,78.5L630.5,78.4L632.0,78.2L633.5,78.1L635.0,78.0L636.4,77.8L637.9,77.7L639.4,77.5L640.9,77.4L642.4,77.2L643.9,77.0L645.4,76.8L646.9,76.6L648.4,76.4L649.8,76.2L651.3,76.0L652.8,75.8L654.3,75.6L655.8,75.3L657.2,75.1L658.7,74.7L660.1,74.2L661.5,73.6L662.8,73.0L664.2,72.4L665.6,71.9L667.0,71.3L668.4,70.7L669.6,69.9L670.9,69.0L672.0,68.1L673.2,67.1L674.2,66.0L675.3,65.0L676.2,63.8L677.0,62.5L677.6,61.2L677.9,59.7"/>
<path d="M662.5,62.5L661.6,61.3L660.6,60.2L659.6,59.1L658.4,58.2L657.1,57.5L655.7,57.0L654.2,56.5L652.8,56.2L651.3,55.9L649.8,55.7L648.3,55.5L646.8,55.3L645.3,55.1L643.9,55.0L642.4,54.9L640.9,54.8L639.4,54.7L637.9,54.6L636.4,54.5L634.9,54.5L633.4,54.4L631.9,54.4L630.4,54.3L628.9,54.2L627.4,54.2L625.9,54.2L624.4,54.1L622.9,54.1L621.4,54.0L619.9,54.0L618.4,54.0L616.9,53.9L615.4,53.9L613.9,53.9L612.4,53.9L610.9,53.9L609.4,53.8L607.9,53.8L606.4,53.8L604.9,53.8L603.4,53.8L601.9,53.8L600.4,53.8L598.9,53.8L597.4,53.8L595.9,53.7L594.4,53.7L592.9,53.7L591.4,53.7L589.9,53.7L588.4,53.7L586.9,53.7L585.4,53.7L583.9,53.7L582.4,53.7L580.9,53.7L579.4,53.7L577.9,53.7L576.4,53.7L574.9,53.7L573.4,53.7L571.9,53.7L570.4,53.7L568.9,53.7L567.4,53.7L565.9,53.7L564.4,53.7L562.9,53.7L561.4,53.7L559.9,53.7L558.4,53.7L556.9,53.7L555.4,53.7L553.9,53.7L552.4,53.7L550.9,53.7L549.4,53.7L547.9,53.7L546.4,53.7L544.9,53.7L543.4,53.7L541.9,53.7L540.4,53.7L538.9,53.7L537.4,53.7L535.9,53.7L534.4,53.7L532.9,53.7L531.4,53.7L529.9,53.7L528.4,53.7L526.9,53.7L525.4,53.7L523.9,53.7L522.4,53.7L520.9,53.7L519.4,53.7L517.9,53.7L516.4,53.7L514.9,53.7L513.4,53.7L511.9,53.7L510.4,53.7L508.9,53.7L507.4,53.7L505.9,53.7L504.4,53.7L502.9,53.7L501.4,53.7L499.9,53.7L498.4,53.7L496.9,53.7L495.4,53.7L493.9,53.7L492.4,53.7L490.9,53.7L489.4,53.7L487.9,53.7L486.4,53.8L484.9,53.8L483.4,53.8L481.9,53.8L480.4,53.8L478.9,53.8L477.4,53.8L475.9,53.8L474.4,53.8L472.9,53.8L471.4,53.8L469.9,53.8L468.4,53.8L466.9,53.9L465.4,53.9L463.9,53.9L462.4,53.9L460.9,53.9L459.4,53.9L457.9,53.9L456.4,53.9L454.9,53.9L453.4,54.0L451.9,54.0L450.4,54.0L448.9,54.0L447.4,54.0L445.9,54.0L444.4,54.1L442.9,54.1L441.4,54.1L439.9,54.1L438.4,54.1L436.9,54.1L435.4,54.2L433.9,54.2L432.4,54.2L430.9,54.2L429.4,54.2L427.9,54.3L426.4,54.3L424.9,54.3L423.4,54.3L421.9,54.3L420.4,54.4L418.9,54.4L417.4,54.4L415.9,54.4L414.4,54.4L412.9,54.5L411.4,54.5L409.9,54.5L408.4,54.5L406.9,54.6L405.4,54.6L403.9,54.6L402.4,54.7L400.9,54.7L399.4,54.7L397.9,54.8L396.4,54.8L394.9,54.9L393.4,54.9L391.9,55.0L390.4,55.0L388.9,55.1L387.4,55.1L385.9,55.2L384.4,55.2L382.9,55.3L381.4,55.4L379.9,55.4L378.4,55.5L376.9,55.6L375.4,55.6L373.9,55.7L372.4,55.8L370.9,55.9L369.4,55.9L367.9,56.0L366.4,56.1L365.0,56.2L363.5,56.3L362.0,56.4L360.5,56.5L359.0,56.6L357.5,56.7L356.0,56.8L354.5,56.9L353.0,57.0L351.5,57.1L350.0,57.2L348.5,57.3L347.0,57.4L345.5,57.6L344.0,57.7L342.5,57.8L341.0,57.9L339.5,58.1L338.0,58.2L336.5,58.3L335.0,58.5L333.5,58.6L332.1,58.7L330.6,58.8L329.1,59.0L327.6,59.1L326.1,59.2L324.6,59.4L323.1,59.5L321.6,59.7L320.1,59.8L318.6,60.0L317.1,60.2L315.6,60.4L314.2,60.6L312.7,60.8L311.2,61.0L309.7,61.2L308.2,61.5L306.7,61.7L305.3,62.0L303.8,62.2L302.3,62.5L300.9,62.8L299.4,63.2L297.9,63.5L296.5,63.9L295.0,64.3L293.6,64.7L292.2,65.1L290.7,65.5L289.3,66.0L287.9,66.5L286.5,67.0L285.1,67.5L283.7,68.1L282.3,68.6L280.9,69.2L279.5,69.8L278.1,70.4L276.8,71.0L275.4,71.6L274.1,72.3L272.7,72.9L271.4,73.6L270.1,74.3L268.7,75.0L267.4,75.8L266.2,76.5L264.9,77.3L263.6,78.1L262.4,79.0L261.1,79.8L259.9,80.7L258.7,81.6L257.5,82.5L256.3,83.4L255.1,84.3L254.0,85.2L252.8,86.2L251.7,87.1L250.5,88.1L249.4,89.1L248.2,90.1L247.1,91.1L246.0,92.1L244.9,93.1L243.8,94.1L242.7,95.2L241.7,96.2L240.6,97.3L239.6,98.4L238.5,99.4L237.5,100.5L236.5,101.7L235.5,102.8L234.6,103.9L233.6,105.1L232.7,106.3L231.9,107.5L231.1,108.7L230.3,110.0L229.5,111.3L228.8,112.6L228.2,114.0L227.5,115.3L226.9,116.7L226.3,118.1L225.7,119.4L225.1,120.8L224.6,122.2L224.0,123.6L223.4,125.0L222.9,126.4L222.3,127.8L221.7,129.1L221.2,130.5L220.6,131.9L220.1,133.3L219.5,134.7L218.9,136.1L218.4,137.5L217.8,138.9L217.3,140.3L216.8,141.7L216.2,143.1L215.7,144.5L215.2,145.9L214.6,147.3L214.1,148.7L213.6,150.1L213.1,151.5L212.6,153.0L212.1,154.4L211.6,155.8L211.2,157.2L210.7,158.6L210.2,160.1L209.8,161.5L209.3,162.9L208.9,164.3L208.4,165.8L208.0,167.2L207.5,168.6L207.1,170.1L206.7,171.5L206.3,173.0L205.9,174.4L205.5,175.9L205.1,177.3L204.7,178.7L204.3,180.2L203.9,181.6L203.5,183.1L203.1,184.5L202.8,186.0L202.4,187.5L202.1,188.9L201.7,190.4L201.4,191.8L201.0,193.3L200.7,194.8L200.4,196.2L200.1,197.7L199.8,199.2L199.5,200.6L199.2,202.1L198.9,203.6L198.7,205.1L198.4,206.5L198.1,208.0L197.9,209.5L197.6,211.0L197.4,212.4L197.1,213.9L196.9,215.4L196.6,216.9L196.4,218.4L196.2,219.8L196.0,221.3L195.8,222.8L195.5,224.3L195.3,225.8L195.1,227.3L194.9,228.8L194.7,230.2L194.5,231.7L194.3,233.2L194.2,234.7L194.0,236.2L193.8,237.7L193.6,239.2L193.4,240.7L193.2,242.1L193.0,243.6L192.8,245.1L192.6,246.6L192.4,248.1L192.2,249.6L192.0,251.1L191.7,252.5L191.5,254.0L191.3,255.5L191.1,257.0L190.8,258.5L190.6,259.9L190.4,261.4L190.1,262.9L189.9,264.4L189.7,265.9L189.4,267.4L189.2,268.8L189.0,270.3L188.9,271.8L188.7,273.3L188.6,274.8L188.4,276.3L188.3,277.8L188.1,279.3L188.0,280.8L187.9,282.3L187.7,283.8L187.6,285.2L187.4,286.7L187.3,288.2L187.1,289.7L186.9,291.2L186.8,292.7L186.6,294.2L186.5,295.7L186.3,297.2L186.2,298.7L186.0,300.2L185.9,301.7L185.7,303.2L185.6,304.6L185.4,306.1L185.3,307.6L185.2,309.1L185.1,310.6L184.9,312.1L184.8,313.6L184.7,315.1L184.6,316.6L184.5,318.1L184.3,319.6L184.2,321.1L184.1,322.6L184.0,324.1L183.9,325.6L183.8,327.1L183.7,328.6L183.6,330.1L183.5,331.6L183.5,333.1L183.4,334.6L183.3,336.1L183.2,337.6L183.1,339.1L183.0,340.6L183.0,342.0L182.9,343.5L182.8,345.0L182.7,346.5L182.7,348.0L182.6,349.5L182.5,351.0L182.5,352.5L182.4,354.0L182.4,355.5L182.3,357.0L182.3,358.5L182.2,360.0L182.2,361.5L182.1,363.0L182.1,364.5L182.0,366.0L182.0,367.5L181.9,369.0L181.9,370.5L181.8,372.0L181.8,373.5L181.7,375.0L181.7,376.5L181.7,378.0L181.6,379.5L181.6,381.0L181.6,382.5L181.6,384.0L181.6,385.5L181.7,387.0L181.7,388.5L181.7,390.0L181.8,391.5L181.9,393.0L181.9,394.5L182.0,396.0L182.1,397.5L182.2,399.0L182.4,400.5L182.5,402.0L182.7,403.5L182.9,405.0L183.1,406.4L183.4,407.9L183.7,409.4L184.1,410.8L184.5,412.2L185.0,413.6L185.5,414.9L186.2,416.1L186.9,417.2L187.8,418.1L188.7,418.7L189.7,419.1L190.9,419.2L192.0,419.0L193.2,418.6L194.4,418.1L195.6,417.3L196.8,416.5L197.9,415.5L199.0,414.5L200.1,413.5L201.1,412.4L202.2,411.3L203.1,410.2L204.1,409.1L205.0,407.9L205.9,406.7L206.8,405.5L207.7,404.3L208.6,403.1L209.4,401.8L210.3,400.6L211.1,399.3L212.0,398.1L212.8,396.9L213.7,395.6L214.5,394.4L215.4,393.2L216.3,392.0L217.1,390.7L218.0,389.5L218.9,388.3L219.7,387.1L220.6,385.8L221.5,384.6L222.3,383.4L223.2,382.2L224.1,380.9L224.9,379.7L225.8,378.5L226.6,377.3L227.5,376.0L228.3,374.8L229.2,373.6L230.0,372.3L230.9,371.1L231.7,369.8L232.5,368.6L233.4,367.3L234.2,366.1L235.0,364.8L235.8,363.6L236.6,362.3L237.4,361.0L238.2,359.7L239.0,358.5L239.8,357.2L240.5,355.9L241.3,354.6L242.1,353.3L242.8,352.0L243.6,350.7L244.3,349.4L245.1,348.1L245.8,346.8L246.6,345.5L247.4,344.3L248.1,343.0L248.9,341.7L249.6,340.4L250.4,339.1L251.2,337.8L251.9,336.5L252.7,335.2L253.5,333.9L254.3,332.7L255.1,331.4L255.9,330.1L256.7,328.9L257.5,327.6L258.3,326.3L259.1,325.1L259.9,323.8L260.7,322.5L261.5,321.3L262.4,320.0L263.2,318.8L264.0,317.5L264.8,316.3L265.6,315.0L266.5,313.8L267.3,312.5L268.1,311.3L268.9,310.0L269.8,308.8L270.6,307.5L271.4,306.3L272.3,305.0L273.1,303.8L273.9,302.5L274.8,301.3L275.6,300.0L276.4,298.8L277.3,297.5L278.1,296.3L279.0,295.0L279.8,293.8L280.6,292.6L281.5,291.3L282.3,290.1L283.2,288.8L284.0,287.6L284.9,286.4L285.7,285.1L286.6,283.9L287.4,282.7L288.3,281.4L289.2,280.2L290.0,279.0L290.9,277.8L291.7,276.5L292.6,275.3L293.5,274.1L294.3,272.9L295.2,271.6L296.1,270.4L296.9,269.2L297.8,268.0L298.7,266.7L299.6,265.5L300.4,264.3L301.3,263.1L302.2,261.9L303.1,260.7L304.0,259.5L304.9,258.3L305.8,257.1L306.7,255.9L307.6,254.7L308.5,253.5L309.4,252.3L310.4,251.1L311.3,250.0L312.2,248.8L313.2,247.6L314.1,246.4L315.1,245.3L316.0,244.1L317.0,243.0L317.9,241.8L318.9,240.7L319.9,239.5L320.8,238.4L321.8,237.2L322.8,236.1L323.8,235.0L324.7,233.8L325.7,232.7L326.7,231.6L327.7,230.4L328.7,229.3L329.7,228.2L330.7,227.1L331.6,225.9L332.6,224.8L333.6,223.7L334.6,222.6L335.6,221.4L336.6,220.3L337.6,219.2L338.6,218.1L339.7,217.0L340.7,215.9L341.7,214.8L342.7,213.7L343.8,212.6L344.8,211.6L345.9,210.5L346.9,209.4L348.0,208.4L349.1,207.3L350.1,206.3L351.2,205.2L352.3,204.2L353.4,203.1L354.4,202.1L355.5,201.1L356.6,200.0L357.7,199.0L358.8,197.9L359.9,196.9L361.0,195.9L362.1,194.9L363.1,193.8L364.2,192.8L365.3,191.8L366.5,190.8L367.6,189.8L368.7,188.8L369.8,187.7L370.9,186.7L372.0,185.7L373.1,184.7L374.2,183.7L375.3,182.7L376.5,181.7L377.6,180.7L378.7,179.8L379.8,178.8L381.0,177.8L382.1,176.8L383.3,175.8L384.4,174.9L385.6,173.9L386.7,173.0L387.9,172.0L389.0,171.0L390.2,170.1L391.4,169.2L392.5,168.2L393.7,167.3L394.9,166.3L396.0,165.4L397.2,164.5L398.4,163.6L399.6,162.7L400.8,161.8L402.0,160.9L403.2,160.0L404.4,159.1L405.6,158.2L406.8,157.3L408.0,156.4L409.2,155.5L410.4,154.6L411.6,153.7L412.8,152.8L414.1,151.9L415.3,151.0L416.5,150.2L417.7,149.3L418.9,148.4L420.1,147.5L421.3,146.7L422.6,145.8L423.8,144.9L425.0,144.0L426.2,143.2L427.5,142.3L428.7,141.5L429.9,140.6L431.2,139.8L432.4,138.9L433.7,138.1L434.9,137.3L436.2,136.5L437.4,135.7L438.7,134.9L440.0,134.1L441.3,133.3L442.5,132.5L443.8,131.7L445.1,130.9L446.4,130.2L447.7,129.4L449.0,128.7L450.3,127.9L451.6,127.2L452.9,126.5L454.2,125.8L455.6,125.0L456.9,124.3L458.2,123.6L459.5,122.9L460.9,122.2L462.2,121.6L463.5,120.9L464.9,120.2L466.2,119.5L467.6,118.9L468.9,118.2L470.3,117.6L471.6,116.9L473.0,116.3L474.3,115.7L475.7,115.0L477.1,114.4L478.4,113.8L479.8,113.2L481.2,112.6L482.6,112.1L484.0,111.5L485.3,110.9L486.7,110.4L488.1,109.8L489.5,109.3L490.9,108.7L492.3,108.2L493.7,107.7L495.1,107.1L496.5,106.6L498.0,106.1L499.4,105.6L500.8,105.1L502.2,104.6L503.6,104.1L505.0,103.6L506.4,103.1L507.8,102.6L509.3,102.1L510.7,101.6L512.1,101.1L513.5,100.6L514.9,100.2L516.4,99.7L517.8,99.2L519.2,98.8L520.6,98.3L522.1,97.8L523.5,97.4L524.9,96.9L526.4,96.5L527.8,96.1L529.2,95.6L530.7,95.2L532.1,94.7L533.5,94.3L535.0,93.9L536.4,93.5L537.9,93.0L539.3,92.6L540.7,92.2L542.2,91.8L543.6,91.4L545.1,90.9L546.5,90.5L547.9,90.1L549.4,89.7L550.8,89.3L552.3,88.9L553.7,88.5L555.2,88.1L556.6,87.7L558.1,87.3L559.5,86.9L561.0,86.6L562.4,86.2L563.9,85.9L565.4,85.6L566.8,85.3L568.3,85.0L569.8,84.7L571.2,84.4L572.7,84.2L574.2,83.9L575.7,83.7L577.1,83.4L578.6,83.2L580.1,82.9L581.6,82.7L583.1,82.5L584.6,82.2L586.0,82.0L587.5,81.8L589.0,81.6L590.5,81.4L592.0,81.2L593.5,80.9L594.9,80.7L596.4,80.5L597.9,80.3L599.4,80.1L600.9,79.9L602.4,79.7L603.9,79.5L605.3,79.3L606.8,79.1L608.3,78.9L609.8,78.8L611.3,78.6L612.8,78.4L614.3,78.2L615.8,78.1L617.3,78.0L618.8,77.8L620.3,77.7L621.8,77.6L623.2,77.5L624.7,77.4L626.2,77.2L627.7,77.1L629.2,76.9L630.7,76.7L632.2,76.4L633.7,76.2L635.1,75.9L636.6,75.7L638.1,75.4L639.6,75.2L641.0,74.9L642.5,74.5L644.0,74.2L645.4,73.8L646.8,73.3L648.3,72.9L649.7,72.3L651.0,71.8L652.4,71.1L653.7,70.4L655.0,69.6L656.2,68.8L657.5,68.0L658.7,67.1L659.8,66.1L660.8,65.0L661.7,63.8L662.5,62.5"/>
<path d="M650.0,63.2L649.0,62.1L647.9,61.1L646.7,60.2L645.4,59.3L644.1,58.6L642.8,57.9L641.4,57.3L640.0,56.8L638.6,56.3L637.2,55.8L635.7,55.5L634.2,55.3L632.7,55.2L631.3,55.1L629.8,55.0L628.3,54.9L626.8,54.9L625.3,54.9L623.8,54.8L622.3,54.8L620.8,54.8L619.3,54.8L617.7,54.7L616.2,54.7L614.7,54.7L613.2,54.7L611.7,54.6L610.2,54.6L608.7,54.6L607.2,54.6L605.7,54.6L604.2,54.5L602.7,54.5L601.2,54.5L599.7,54.5L598.2,54.5L596.7,54.5L595.2,54.4L593.7,54.4L592.2,54.4L590.7,54.4L589.2,54.4L587.7,54.4L586.2,54.3L584.7,54.3L583.2,54.3L581.7,54.3L580.2,54.3L578.7,54.3L577.2,54.3L575.7,54.3L574.2,54.3L572.7,54.3L571.2,54.3L569.7,54.3L568.2,54.3L566.7,54.3L565.2,54.3L563.7,54.3L562.2,54.3L560.7,54.3L559.2,54.3L557.7,54.3L556.2,54.3L554.7,54.3L553.2,54.3L551.7,54.3L550.2,54.3L548.7,54.3L547.2,54.3L545.7,54.3L544.2,54.3L542.7,54.3L541.2,54.3L539.7,54.3L538.2,54.3L536.7,54.3L535.2,54.3L533.7,54.3L532.2,54.3L530.7,54.4L529.2,54.4L527.7,54.4L526.2,54.4L524.7,54.4L523.2,54.4L521.7,54.4L520.2,54.4L518.7,54.4L517.2,54.4L515.7,54.5L514.2,54.5L512.7,54.5L511.2,54.5L509.7,54.5L508.2,54.5L506.7,54.5L505.2,54.6L503.7,54.6L502.2,54.6L500.7,54.6L499.2,54.6L497.7,54.6L496.2,54.7L494.7,54.7L493.2,54.7L491.7,54.7L490.2,54.7L488.7,54.8L487.2,54.8L485.7,54.8L484.2,54.8L482.7,54.9L481.2,54.9L479.7,54.9L478.2,54.9L476.7,55.0L475.2,55.0L473.7,55.0L472.2,55.1L470.7,55.1L469.2,55.1L467.7,55.1L466.2,55.2L464.7,55.2L463.2,55.2L461.7,55.3L460.2,55.3L458.7,55.3L457.2,55.4L455.7,55.4L454.2,55.4L452.7,55.5L451.2,55.5L449.7,55.5L448.2,55.6L446.7,55.6L445.2,55.7L443.7,55.7L442.2,55.7L440.7,55.8L439.2,55.8L437.7,55.9L436.2,55.9L434.7,56.0L433.2,56.0L431.7,56.0L430.2,56.1L428.7,56.1L427.2,56.2L425.7,56.2L424.2,56.3L422.7,56.3L421.2,56.4L419.7,56.4L418.2,56.5L416.7,56.5L415.2,56.6L413.7,56.6L412.2,56.7L410.7,56.7L409.2,56.8L407.7,56.9L406.2,57.0L404.7,57.1L403.2,57.2L401.7,57.3L400.2,57.4L398.7,57.5L397.2,57.7L395.7,57.8L394.2,58.0L392.8,58.1L391.3,58.3L389.8,58.5L388.3,58.7L386.8,58.8L385.3,59.0L383.8,59.2L382.3,59.3L380.8,59.5L379.3,59.7L377.8,59.8L376.4,60.0L374.9,60.2L373.4,60.3L371.9,60.5L370.4,60.6L368.9,60.8L367.4,60.9L365.9,61.1L364.4,61.2L362.9,61.4L361.4,61.5L359.9,61.7L358.4,61.8L356.9,62.0L355.5,62.1L354.0,62.3L352.5,62.5L351.0,62.6L349.5,62.8L348.0,63.0L346.5,63.2L345.0,63.3L343.5,63.5L342.0,63.7L340.6,63.9L339.1,64.1L337.6,64.3L336.1,64.5L334.6,64.7L333.1,64.9L331.6,65.1L330.1,65.3L328.7,65.6L327.2,65.8L325.7,66.0L324.2,66.3L322.8,66.5L321.3,66.9L319.9,67.2L318.4,67.6L317.0,68.1L315.5,68.5L314.1,69.0L312.7,69.5L311.3,70.0L309.9,70.5L308.5,71.0L307.1,71.5L305.7,72.1L304.3,72.6L302.9,73.2L301.5,73.7L300.1,74.3L298.7,74.9L297.3,75.5L296.0,76.1L294.6,76.7L293.2,77.3L291.9,78.0L290.5,78.6L289.2,79.3L287.9,80.0L286.6,80.7L285.2,81.5L283.9,82.2L282.6,82.9L281.4,83.7L280.1,84.5L278.8,85.3L277.5,86.1L276.3,86.9L275.0,87.8L273.8,88.6L272.6,89.5L271.4,90.4L270.2,91.3L269.0,92.2L267.9,93.2L266.7,94.1L265.6,95.1L264.5,96.1L263.4,97.2L262.3,98.2L261.2,99.3L260.2,100.3L259.1,101.4L258.1,102.5L257.1,103.6L256.1,104.7L255.1,105.8L254.1,107.0L253.1,108.1L252.2,109.2L251.2,110.4L250.3,111.6L249.3,112.7L248.4,113.9L247.5,115.1L246.6,116.3L245.7,117.5L244.9,118.8L244.0,120.0L243.2,121.2L242.3,122.5L241.5,123.7L240.7,125.0L239.9,126.3L239.2,127.6L238.4,128.9L237.6,130.2L236.9,131.5L236.1,132.8L235.4,134.1L234.7,135.4L233.9,136.7L233.2,138.0L232.6,139.3L231.9,140.7L231.2,142.0L230.6,143.4L230.0,144.8L229.5,146.2L228.9,147.6L228.4,149.0L227.9,150.4L227.5,151.8L227.0,153.2L226.5,154.7L226.1,156.1L225.7,157.5L225.2,159.0L224.8,160.4L224.3,161.8L223.9,163.3L223.5,164.7L223.0,166.1L222.6,167.6L222.1,169.0L221.7,170.4L221.3,171.9L220.8,173.3L220.4,174.8L220.0,176.2L219.6,177.6L219.1,179.1L218.7,180.5L218.3,182.0L217.9,183.4L217.5,184.9L217.1,186.3L216.8,187.8L216.4,189.2L216.0,190.7L215.7,192.1L215.3,193.6L215.0,195.0L214.6,196.5L214.3,198.0L214.0,199.4L213.7,200.9L213.4,202.4L213.1,203.8L212.8,205.3L212.5,206.8L212.2,208.3L212.0,209.7L211.7,211.2L211.4,212.7L211.2,214.2L210.9,215.7L210.7,217.1L210.4,218.6L210.2,220.1L209.9,221.6L209.7,223.1L209.4,224.5L209.2,226.0L208.9,227.5L208.7,229.0L208.4,230.5L208.2,231.9L207.9,233.4L207.7,234.9L207.4,236.4L207.2,237.9L206.9,239.3L206.7,240.8L206.5,242.3L206.2,243.8L206.0,245.3L205.7,246.7L205.5,248.2L205.2,249.7L205.0,251.2L204.7,252.7L204.4,254.1L204.2,255.6L203.9,257.1L203.7,258.6L203.4,260.0L203.1,261.5L202.9,263.0L202.6,264.5L202.4,266.0L202.2,267.4L202.0,268.9L201.8,270.4L201.6,271.9L201.5,273.4L201.4,274.9L201.3,276.4L201.2,277.9L201.1,279.4L201.0,280.9L200.8,282.4L200.7,283.9L200.6,285.4L200.5,286.9L200.3,288.3L200.2,289.8L200.0,291.3L199.9,292.8L199.7,294.3L199.6,295.8L199.4,297.3L199.3,298.8L199.1,300.3L199.0,301.8L198.8,303.3L198.7,304.8L198.5,306.3L198.3,307.8L198.2,309.2L198.0,310.7L197.8,312.2L197.6,313.7L197.4,315.2L197.1,316.7L196.9,318.2L196.7,319.6L196.4,321.1L196.2,322.6L196.0,324.1L195.8,325.6L195.6,327.1L195.4,328.5L195.2,330.0L195.1,331.5L195.0,333.0L194.9,334.5L194.7,336.0L194.6,337.5L194.5,339.0L194.4,340.5L194.3,342.0L194.3,343.5L194.2,345.0L194.1,346.5L194.0,348.0L194.0,349.5L193.9,351.0L193.9,352.5L193.9,354.0L193.9,355.5L193.9,357.0L193.9,358.5L193.9,360.0L194.0,361.5L194.1,363.0L194.2,364.5L194.3,366.0L194.4,367.5L194.5,369.0L194.7,370.5L194.9,371.9L195.1,373.4L195.4,374.9L195.8,376.3L196.2,377.7L196.7,379.1L197.2,380.5L197.8,381.7L198.5,382.9L199.2,384.0L200.0,384.8L200.9,385.5L201.8,385.8L202.7,385.9L203.7,385.7L204.8,385.2L205.8,384.5L206.9,383.7L208.0,382.8L209.1,381.8L210.2,380.8L211.3,379.7L212.3,378.7L213.4,377.6L214.4,376.5L215.5,375.5L216.5,374.4L217.5,373.3L218.5,372.2L219.5,371.1L220.5,370.0L221.5,368.8L222.5,367.7L223.5,366.5L224.4,365.4L225.4,364.2L226.3,363.0L227.2,361.8L228.1,360.7L229.0,359.4L229.9,358.2L230.8,357.0L231.6,355.8L232.5,354.6L233.3,353.3L234.2,352.1L235.0,350.8L235.9,349.6L236.7,348.4L237.5,347.1L238.4,345.9L239.2,344.6L240.0,343.3L240.8,342.1L241.7,340.8L242.5,339.6L243.3,338.3L244.2,337.1L245.0,335.8L245.8,334.6L246.6,333.3L247.5,332.1L248.3,330.8L249.1,329.6L249.9,328.3L250.7,327.0L251.6,325.8L252.4,324.5L253.2,323.3L254.0,322.0L254.8,320.7L255.6,319.5L256.4,318.2L257.2,317.0L258.1,315.7L258.9,314.4L259.7,313.2L260.5,311.9L261.3,310.7L262.1,309.4L263.0,308.1L263.8,306.9L264.6,305.6L265.4,304.4L266.3,303.1L267.1,301.9L267.9,300.6L268.7,299.4L269.6,298.1L270.4,296.9L271.2,295.6L272.1,294.4L272.9,293.1L273.7,291.9L274.6,290.6L275.4,289.4L276.2,288.1L277.1,286.9L277.9,285.6L278.8,284.4L279.6,283.2L280.4,281.9L281.3,280.7L282.2,279.5L283.0,278.2L283.9,277.0L284.7,275.8L285.6,274.5L286.5,273.3L287.3,272.1L288.2,270.9L289.1,269.7L290.0,268.4L290.8,267.2L291.7,266.0L292.6,264.8L293.5,263.6L294.3,262.4L295.2,261.1L296.1,259.9L297.0,258.7L297.9,257.5L298.7,256.3L299.6,255.0L300.5,253.8L301.3,252.6L302.2,251.4L303.1,250.1L303.9,248.9L304.8,247.7L305.7,246.5L306.5,245.2L307.4,244.0L308.2,242.8L309.1,241.5L309.9,240.3L310.8,239.0L311.6,237.8L312.4,236.6L313.3,235.3L314.1,234.1L315.0,232.8L315.8,231.6L316.7,230.4L317.5,229.1L318.4,227.9L319.2,226.7L320.1,225.4L320.9,224.2L321.8,223.0L322.7,221.7L323.5,220.5L324.4,219.3L325.3,218.1L326.2,216.9L327.1,215.7L327.9,214.4L328.8,213.2L329.7,212.0L330.6,210.8L331.5,209.6L332.5,208.5L333.4,207.3L334.3,206.1L335.3,204.9L336.2,203.8L337.2,202.7L338.2,201.5L339.2,200.4L340.3,199.4L341.3,198.3L342.4,197.3L343.5,196.3L344.7,195.3L345.8,194.3L346.9,193.3L348.1,192.3L349.2,191.3L350.3,190.3L351.4,189.3L352.5,188.3L353.6,187.3L354.7,186.3L355.8,185.3L356.9,184.2L358.0,183.2L359.1,182.2L360.2,181.1L361.3,180.1L362.4,179.1L363.5,178.1L364.6,177.1L365.7,176.1L366.8,175.0L367.9,174.0L369.0,173.0L370.1,172.0L371.3,171.0L372.4,170.0L373.5,169.0L374.6,168.0L375.8,167.0L376.9,166.1L378.0,165.1L379.2,164.1L380.3,163.2L381.5,162.2L382.6,161.2L383.8,160.3L385.0,159.4L386.2,158.4L387.4,157.5L388.5,156.6L389.7,155.7L390.9,154.8L392.1,153.9L393.4,153.0L394.6,152.2L395.8,151.3L397.0,150.4L398.3,149.6L399.5,148.7L400.7,147.9L402.0,147.0L403.2,146.2L404.5,145.4L405.7,144.6L407.0,143.8L408.3,142.9L409.5,142.1L410.8,141.3L412.1,140.5L413.3,139.7L414.6,138.9L415.9,138.1L417.1,137.3L418.4,136.5L419.7,135.7L421.0,134.9L422.2,134.2L423.5,133.4L424.8,132.6L426.1,131.8L427.4,131.0L428.7,130.3L430.0,129.5L431.3,128.8L432.5,128.0L433.8,127.3L435.2,126.5L436.5,125.8L437.8,125.0L439.1,124.3L440.4,123.6L441.7,122.9L443.0,122.2L444.4,121.5L445.7,120.8L447.0,120.1L448.4,119.4L449.7,118.8L451.1,118.1L452.4,117.4L453.8,116.8L455.1,116.1L456.5,115.5L457.8,114.8L459.2,114.2L460.5,113.6L461.9,112.9L463.3,112.3L464.6,111.7L466.0,111.1L467.4,110.5L468.7,109.8L470.1,109.2L471.5,108.6L472.9,108.0L474.2,107.4L475.6,106.8L477.0,106.3L478.4,105.7L479.8,105.1L481.1,104.5L482.5,103.9L483.9,103.4L485.3,102.8L486.7,102.2L488.1,101.7L489.5,101.1L490.9,100.5L492.3,100.0L493.7,99.5L495.1,98.9L496.5,98.4L497.9,97.9L499.3,97.3L500.7,96.8L502.1,96.3L503.5,95.8L504.9,95.3L506.4,94.8L507.8,94.3L509.2,93.9L510.6,93.4L512.1,92.9L513.5,92.5L514.9,92.0L516.4,91.6L517.8,91.2L519.2,90.7L520.7,90.3L522.1,89.9L523.6,89.5L525.0,89.1L526.4,88.7L527.9,88.3L529.3,87.9L530.8,87.6L532.3,87.2L533.7,86.8L535.2,86.4L536.6,86.1L538.1,85.7L539.5,85.3L541.0,85.0L542.4,84.6L543.9,84.2L545.4,83.9L546.8,83.5L548.3,83.2L549.7,82.9L551.2,82.5L552.7,82.2L554.1,81.9L555.6,81.6L557.1,81.3L558.5,81.0L560.0,80.7L561.5,80.4L563.0,80.1L564.4,79.8L565.9,79.5L567.4,79.3L568.8,79.0L570.3,78.7L571.8,78.4L573.3,78.2L574.8,77.9L576.2,77.6L577.7,77.4L579.2,77.1L580.7,76.9L582.2,76.7L583.6,76.5L585.1,76.3L586.6,76.1L588.1,75.9L589.6,75.8L591.1,75.7L592.6,75.6L594.1,75.6L595.6,75.5L597.1,75.5L598.6,75.5L600.1,75.5L601.6,75.5L603.1,75.5L604.6,75.5L606.1,75.5L607.6,75.4L609.1,75.3L610.6,75.2L612.1,75.1L613.6,74.9L615.0,74.7L616.5,74.5L618.0,74.2L619.5,74.0L621.0,73.7L622.4,73.4L623.9,73.1L625.4,72.8L626.8,72.5L628.3,72.2L629.8,72.0L631.3,71.7L632.7,71.4L634.2,71.1L635.7,70.7L637.1,70.3L638.6,69.9L640.0,69.5L641.4,69.0L642.8,68.4L644.2,67.8L645.5,67.1L646.7,66.2L647.9,65.3L649.0,64.3L650.0,63.2"/>
<path d="M638.9,63.4L637.9,62.3L636.8,61.3L635.6,60.4L634.3,59.5L633.0,58.8L631.7,58.1L630.3,57.5L628.9,57.0L627.5,56.5L626.1,56.1L624.6,55.8L623.1,55.5L621.6,55.5L620.2,55.6L618.7,55.8L617.2,55.9L615.7,55.9L614.2,55.9L612.7,55.9L611.2,55.8L609.7,55.8L608.2,55.7L606.7,55.7L605.2,55.7L603.7,55.6L602.2,55.6L600.7,55.5L599.2,55.5L597.7,55.4L596.2,55.4L594.7,55.3L593.2,55.3L591.7,55.3L590.2,55.2L588.7,55.2L587.2,55.1L585.7,55.1L584.2,55.1L582.7,55.1L581.2,55.0L579.7,55.0L578.2,55.0L576.7,55.0L575.2,55.0L573.7,55.0L572.2,54.9L570.7,54.9L569.2,54.9L567.7,54.9L566.2,54.9L564.7,54.9L563.2,54.9L561.7,54.9L560.2,54.9L558.7,54.9L557.2,55.0L555.7,55.0L554.2,55.0L552.7,55.0L551.2,55.0L549.7,55.0L548.2,55.0L546.7,55.0L545.2,55.0L543.7,55.0L542.2,55.0L540.7,55.0L539.2,55.0L537.7,55.0L536.2,55.0L534.7,55.0L533.2,55.0L531.7,55.0L530.2,55.0L528.7,55.0L527.2,55.1L525.7,55.1L524.2,55.1L522.7,55.1L521.2,55.1L519.7,55.1L518.1,55.1L516.6,55.1L515.1,55.1L513.6,55.2L512.1,55.2L510.6,55.2L509.1,55.2L507.6,55.2L506.1,55.3L504.6,55.3L503.1,55.3L501.6,55.3L500.1,55.4L498.6,55.4L497.1,55.4L495.6,55.5L494.1,55.5L492.6,55.5L491.1,55.6L489.6,55.6L488.1,55.6L486.6,55.7L485.1,55.7L483.6,55.8L482.1,55.8L480.6,55.8L479.1,55.9L477.6,55.9L476.1,56.0L474.6,56.0L473.1,56.1L471.6,56.1L470.1,56.2L468.6,56.2L467.1,56.3L465.6,56.3L464.1,56.4L462.6,56.4L461.1,56.5L459.6,56.5L458.1,56.6L456.6,56.6L455.1,56.7L453.6,56.8L452.2,56.8L450.7,56.9L449.2,56.9L447.7,57.0L446.2,57.1L444.7,57.1L443.2,57.2L441.7,57.2L440.2,57.3L438.7,57.3L437.2,57.4L435.7,57.5L434.2,57.5L432.7,57.6L431.2,57.6L429.7,57.7L428.2,57.7L426.7,57.8L425.2,57.9L423.7,57.9L422.2,58.0L420.7,58.0L419.2,58.1L417.7,58.2L416.2,58.2L414.7,58.3L413.2,58.4L411.7,58.4L410.2,58.5L408.7,58.6L407.2,58.7L405.7,58.8L404.2,58.9L402.7,59.0L401.2,59.2L399.7,59.3L398.2,59.5L396.7,59.6L395.2,59.8L393.7,60.0L392.3,60.2L390.8,60.4L389.3,60.6L387.8,60.8L386.3,61.0L384.8,61.2L383.3,61.4L381.8,61.6L380.4,61.8L378.9,62.0L377.4,62.2L375.9,62.5L374.4,62.7L372.9,62.9L371.4,63.1L370.0,63.3L368.5,63.5L367.0,63.7L365.5,63.9L364.0,64.1L362.5,64.4L361.0,64.6L359.6,64.8L358.1,65.0L356.6,65.2L355.1,65.5L353.6,65.7L352.2,66.0L350.7,66.2L349.2,66.5L347.7,66.8L346.3,67.1L344.8,67.4L343.3,67.7L341.8,68.0L340.4,68.3L338.9,68.6L337.4,68.9L336.0,69.3L334.5,69.6L333.1,70.0L331.6,70.3L330.2,70.7L328.7,71.1L327.3,71.5L325.9,72.0L324.4,72.5L323.0,73.0L321.6,73.5L320.3,74.1L318.9,74.7L317.5,75.3L316.2,76.0L314.8,76.6L313.5,77.3L312.1,77.9L310.8,78.6L309.4,79.3L308.1,80.0L306.8,80.6L305.4,81.4L304.1,82.1L302.8,82.8L301.5,83.5L300.2,84.3L298.9,85.0L297.6,85.8L296.3,86.6L295.1,87.4L293.8,88.2L292.6,89.0L291.3,89.9L290.1,90.7L288.9,91.6L287.7,92.5L286.5,93.4L285.3,94.4L284.1,95.3L283.0,96.2L281.8,97.2L280.7,98.2L279.6,99.2L278.4,100.2L277.3,101.2L276.2,102.2L275.2,103.2L274.1,104.3L273.0,105.3L272.0,106.4L271.0,107.5L269.9,108.6L269.0,109.7L268.0,110.9L267.0,112.0L266.1,113.2L265.1,114.4L264.2,115.6L263.3,116.8L262.5,118.0L261.6,119.2L260.7,120.4L259.9,121.7L259.1,122.9L258.3,124.2L257.5,125.5L256.7,126.7L255.9,128.0L255.1,129.3L254.3,130.6L253.6,131.9L252.8,133.2L252.1,134.5L251.4,135.8L250.6,137.1L249.9,138.4L249.2,139.8L248.5,141.1L247.8,142.4L247.2,143.8L246.5,145.1L245.9,146.5L245.2,147.8L244.6,149.2L244.0,150.6L243.4,151.9L242.8,153.3L242.3,154.7L241.7,156.1L241.2,157.5L240.6,158.9L240.1,160.3L239.6,161.7L239.1,163.1L238.6,164.5L238.0,165.9L237.5,167.4L237.0,168.8L236.5,170.2L236.0,171.6L235.6,173.0L235.1,174.4L234.6,175.9L234.1,177.3L233.7,178.7L233.2,180.1L232.7,181.6L232.3,183.0L231.8,184.4L231.4,185.9L231.0,187.3L230.5,188.7L230.1,190.2L229.7,191.6L229.3,193.1L228.9,194.5L228.5,196.0L228.1,197.4L227.7,198.9L227.4,200.3L227.0,201.8L226.6,203.2L226.2,204.7L225.8,206.1L225.4,207.6L225.0,209.0L224.6,210.5L224.3,211.9L223.9,213.4L223.5,214.8L223.2,216.3L222.8,217.7L222.5,219.2L222.1,220.7L221.8,222.1L221.5,223.6L221.1,225.1L220.8,226.5L220.5,228.0L220.2,229.5L219.9,230.9L219.6,232.4L219.3,233.9L219.0,235.3L218.7,236.8L218.5,238.3L218.2,239.8L217.9,241.2L217.6,242.7L217.3,244.2L217.0,245.7L216.7,247.1L216.5,248.6L216.2,250.1L215.9,251.5L215.6,253.0L215.3,254.5L215.1,256.0L214.8,257.4L214.5,258.9L214.3,260.4L214.0,261.9L213.7,263.4L213.5,264.8L213.2,266.3L213.0,267.8L212.7,269.3L212.5,270.8L212.3,272.2L212.1,273.7L211.8,275.2L211.6,276.7L211.4,278.2L211.2,279.7L210.9,281.1L210.7,282.6L210.5,284.1L210.3,285.6L210.0,287.1L209.8,288.6L209.6,290.0L209.3,291.5L209.1,293.0L208.9,294.5L208.7,296.0L208.5,297.5L208.3,298.9L208.1,300.4L208.0,301.9L207.8,303.4L207.7,304.9L207.5,306.4L207.4,307.9L207.3,309.4L207.2,310.9L207.1,312.4L207.0,313.9L206.9,315.4L206.8,316.9L206.8,318.4L206.7,319.9L206.6,321.4L206.5,322.9L206.5,324.4L206.5,325.9L206.5,327.4L206.5,328.9L206.5,330.4L206.5,331.9L206.6,333.4L206.7,334.9L206.8,336.4L207.0,337.9L207.2,339.3L207.4,340.8L207.7,342.3L208.0,343.7L208.4,345.1L208.9,346.5L209.5,347.8L210.1,349.0L210.9,350.1L211.7,351.0L212.5,351.7L213.4,352.2L214.4,352.4L215.4,352.3L216.5,352.0L217.5,351.5L218.7,350.8L219.8,350.0L221.0,349.1L222.1,348.2L223.3,347.2L224.4,346.3L225.5,345.3L226.7,344.3L227.8,343.3L228.9,342.3L230.0,341.3L231.1,340.3L232.2,339.2L233.3,338.2L234.3,337.1L235.4,336.0L236.4,335.0L237.4,333.9L238.4,332.7L239.4,331.6L240.4,330.5L241.3,329.3L242.3,328.1L243.2,327.0L244.2,325.8L245.1,324.6L246.0,323.4L246.9,322.2L247.8,321.0L248.7,319.8L249.6,318.6L250.4,317.4L251.3,316.2L252.2,314.9L253.1,313.7L253.9,312.5L254.8,311.3L255.7,310.1L256.5,308.8L257.4,307.6L258.3,306.4L259.1,305.1L260.0,303.9L260.8,302.7L261.7,301.4L262.5,300.2L263.4,298.9L264.2,297.7L265.0,296.5L265.9,295.2L266.7,294.0L267.5,292.7L268.4,291.5L269.2,290.2L270.0,289.0L270.9,287.7L271.7,286.5L272.6,285.2L273.4,284.0L274.3,282.8L275.1,281.5L276.0,280.3L276.8,279.1L277.7,277.9L278.6,276.6L279.4,275.4L280.3,274.2L281.2,273.0L282.1,271.7L282.9,270.5L283.8,269.3L284.7,268.1L285.6,266.9L286.5,265.7L287.3,264.5L288.2,263.3L289.1,262.0L290.0,260.8L290.9,259.6L291.8,258.4L292.6,257.2L293.5,256.0L294.4,254.7L295.3,253.5L296.1,252.3L297.0,251.1L297.9,249.9L298.7,248.6L299.6,247.4L300.5,246.2L301.3,244.9L302.2,243.7L303.0,242.5L303.9,241.2L304.7,240.0L305.6,238.8L306.4,237.5L307.3,236.3L308.1,235.1L309.0,233.8L309.8,232.6L310.7,231.3L311.5,230.1L312.4,228.9L313.2,227.6L314.1,226.4L314.9,225.2L315.8,223.9L316.7,222.7L317.5,221.5L318.4,220.3L319.3,219.1L320.2,217.8L321.0,216.6L321.9,215.4L322.8,214.2L323.7,213.0L324.6,211.8L325.5,210.6L326.4,209.4L327.4,208.2L328.3,207.1L329.2,205.9L330.2,204.8L331.2,203.6L332.2,202.5L333.2,201.4L334.3,200.3L335.3,199.3L336.4,198.2L337.5,197.2L338.6,196.2L339.7,195.2L340.9,194.3L342.0,193.3L343.2,192.3L344.3,191.4L345.5,190.4L346.7,189.5L347.8,188.5L348.9,187.5L350.1,186.6L351.2,185.6L352.3,184.6L353.4,183.6L354.5,182.5L355.6,181.5L356.8,180.5L357.9,179.5L359.0,178.5L360.1,177.5L361.2,176.4L362.3,175.4L363.4,174.4L364.5,173.4L365.6,172.4L366.7,171.4L367.8,170.4L369.0,169.4L370.1,168.4L371.2,167.4L372.3,166.4L373.5,165.4L374.6,164.5L375.7,163.5L376.9,162.5L378.0,161.5L379.2,160.6L380.3,159.6L381.5,158.7L382.7,157.7L383.8,156.8L385.0,155.9L386.2,155.0L387.4,154.0L388.6,153.1L389.8,152.2L391.0,151.3L392.2,150.4L393.4,149.6L394.6,148.7L395.9,147.8L397.1,147.0L398.3,146.1L399.6,145.3L400.8,144.4L402.0,143.6L403.3,142.8L404.6,141.9L405.8,141.1L407.1,140.3L408.3,139.5L409.6,138.7L410.9,137.9L412.2,137.1L413.4,136.3L414.7,135.5L416.0,134.7L417.2,133.9L418.5,133.1L419.8,132.4L421.1,131.6L422.4,130.8L423.7,130.0L424.9,129.3L426.2,128.5L427.5,127.7L428.8,127.0L430.1,126.2L431.4,125.5L432.7,124.7L434.0,124.0L435.3,123.3L436.7,122.6L438.0,121.8L439.3,121.1L440.6,120.4L442.0,119.7L443.3,119.0L444.6,118.3L446.0,117.7L447.3,117.0L448.6,116.3L450.0,115.7L451.3,115.0L452.7,114.4L454.0,113.7L455.4,113.1L456.8,112.4L458.1,111.8L459.5,111.2L460.9,110.6L462.2,110.0L463.6,109.4L465.0,108.7L466.3,108.1L467.7,107.5L469.1,107.0L470.5,106.4L471.9,105.8L473.2,105.2L474.6,104.6L476.0,104.0L477.4,103.5L478.8,102.9L480.2,102.3L481.6,101.8L483.0,101.2L484.4,100.7L485.8,100.1L487.2,99.6L488.6,99.0L490.0,98.5L491.4,98.0L492.8,97.4L494.2,96.9L495.6,96.4L497.0,95.9L498.4,95.4L499.8,94.9L501.2,94.4L502.7,93.9L504.1,93.4L505.5,92.9L506.9,92.5L508.4,92.0L509.8,91.6L511.2,91.1L512.6,90.7L514.1,90.2L515.5,89.8L517.0,89.4L518.4,89.0L519.8,88.6L521.3,88.2L522.7,87.8L524.2,87.4L525.6,87.0L527.1,86.6L528.5,86.2L530.0,85.8L531.4,85.5L532.9,85.1L534.4,84.7L535.8,84.4L537.3,84.0L538.7,83.7L540.2,83.3L541.6,83.0L543.1,82.6L544.6,82.3L546.0,81.9L547.5,81.6L549.0,81.2L550.4,80.9L551.9,80.6L553.3,80.3L554.8,80.0L556.3,79.7L557.8,79.4L559.2,79.1L560.7,78.8L562.2,78.5L563.6,78.2L565.1,78.0L566.6,77.7L568.1,77.4L569.6,77.2L571.0,76.9L572.5,76.6L574.0,76.4L575.5,76.1L576.9,75.9L578.4,75.6L579.9,75.4L581.4,75.2L582.9,75.0L584.4,74.8L585.8,74.6L587.3,74.4L588.8,74.2L590.3,74.1L591.8,74.0L593.3,73.9L594.8,73.8L596.3,73.7L597.8,73.7L599.3,73.6L600.8,73.6L602.3,73.6L603.8,73.5L605.3,73.5L606.8,73.5L608.3,73.4L609.8,73.3L611.3,73.2L612.8,73.1L614.3,73.0L615.8,72.7L617.3,72.5L618.7,72.2L620.2,72.0L621.7,71.7L623.1,71.3L624.6,71.0L626.0,70.6L627.5,70.2L628.9,69.7L630.3,69.2L631.7,68.7L633.1,68.0L634.4,67.3L635.6,66.5L636.8,65.5L637.9,64.5L638.9,63.4"/>
<path d="M628.2,63.4L627.2,62.3L626.1,61.3L624.9,60.4L623.6,59.5L622.3,58.8L621.0,58.1L619.6,57.5L618.3,56.9L616.9,56.2L615.5,55.8L614.0,55.6L612.5,55.5L611.0,55.4L609.5,55.4L608.0,55.3L606.5,55.3L605.0,55.3L603.5,55.4L602.0,55.4L600.5,55.4L599.0,55.4L597.5,55.4L596.0,55.5L594.5,55.5L593.0,55.5L591.5,55.6L590.0,55.6L588.5,55.6L587.0,55.6L585.5,55.6L584.0,55.7L582.5,55.7L581.0,55.7L579.5,55.7L578.0,55.7L576.5,55.7L575.0,55.7L573.5,55.7L572.0,55.7L570.5,55.7L569.0,55.7L567.5,55.7L566.0,55.7L564.5,55.7L563.0,55.6L561.5,55.6L560.0,55.6L558.5,55.6L557.0,55.6L555.5,55.6L554.0,55.6L552.5,55.6L551.0,55.6L549.5,55.6L548.0,55.6L546.5,55.6L545.0,55.6L543.5,55.6L542.0,55.6L540.5,55.6L539.0,55.6L537.5,55.6L536.0,55.7L534.5,55.7L533.0,55.7L531.5,55.7L530.0,55.7L528.5,55.7L527.0,55.7L525.5,55.8L524.0,55.8L522.5,55.8L521.0,55.8L519.5,55.8L518.0,55.9L516.5,55.9L515.0,55.9L513.5,55.9L512.0,56.0L510.5,56.0L509.0,56.0L507.5,56.1L506.0,56.1L504.5,56.1L503.0,56.2L501.5,56.2L500.0,56.2L498.5,56.3L497.0,56.3L495.5,56.3L494.0,56.4L492.5,56.4L491.0,56.5L489.5,56.5L488.0,56.6L486.5,56.6L485.0,56.6L483.5,56.7L482.0,56.7L480.5,56.8L479.0,56.9L477.5,56.9L476.0,57.0L474.5,57.0L473.0,57.1L471.5,57.2L470.0,57.2L468.5,57.3L467.0,57.4L465.5,57.4L464.0,57.5L462.5,57.6L461.0,57.7L459.5,57.7L458.0,57.8L456.5,57.9L455.0,58.0L453.5,58.0L452.0,58.1L450.5,58.2L449.1,58.3L447.6,58.4L446.1,58.5L444.6,58.5L443.1,58.6L441.6,58.7L440.1,58.8L438.6,58.9L437.1,59.0L435.6,59.0L434.1,59.1L432.6,59.2L431.1,59.3L429.6,59.4L428.1,59.4L426.6,59.5L425.1,59.6L423.6,59.7L422.1,59.8L420.6,59.9L419.1,60.0L417.6,60.0L416.1,60.1L414.6,60.2L413.1,60.3L411.6,60.4L410.1,60.5L408.6,60.6L407.1,60.8L405.6,60.9L404.1,61.0L402.6,61.2L401.1,61.3L399.7,61.5L398.2,61.7L396.7,61.9L395.2,62.1L393.7,62.4L392.2,62.6L390.7,62.8L389.3,63.1L387.8,63.3L386.3,63.6L384.8,63.8L383.3,64.1L381.9,64.3L380.4,64.6L378.9,64.9L377.4,65.1L376.0,65.4L374.5,65.7L373.0,65.9L371.5,66.2L370.1,66.5L368.6,66.8L367.1,67.1L365.6,67.3L364.2,67.6L362.7,67.9L361.2,68.2L359.8,68.5L358.3,68.8L356.8,69.2L355.4,69.5L353.9,69.9L352.5,70.2L351.0,70.6L349.6,71.0L348.1,71.4L346.7,71.9L345.3,72.3L343.8,72.8L342.4,73.2L341.0,73.7L339.6,74.2L338.1,74.7L336.7,75.2L335.3,75.8L333.9,76.3L332.6,76.9L331.2,77.4L329.8,78.0L328.4,78.7L327.1,79.3L325.8,80.0L324.5,80.8L323.2,81.5L321.9,82.3L320.6,83.1L319.4,83.9L318.1,84.7L316.9,85.5L315.6,86.4L314.3,87.2L313.1,88.0L311.8,88.9L310.6,89.7L309.4,90.5L308.1,91.4L306.9,92.2L305.7,93.1L304.4,93.9L303.2,94.8L302.0,95.7L300.8,96.6L299.6,97.5L298.4,98.4L297.2,99.3L296.0,100.2L294.9,101.2L293.7,102.1L292.6,103.1L291.4,104.1L290.3,105.1L289.2,106.1L288.1,107.1L287.0,108.1L285.9,109.2L284.9,110.2L283.8,111.3L282.8,112.4L281.8,113.5L280.7,114.6L279.7,115.7L278.7,116.8L277.7,118.0L276.8,119.1L275.8,120.2L274.9,121.4L273.9,122.6L273.0,123.8L272.1,124.9L271.2,126.1L270.3,127.3L269.4,128.6L268.5,129.8L267.7,131.0L266.9,132.3L266.0,133.5L265.2,134.8L264.4,136.1L263.7,137.3L262.9,138.6L262.1,139.9L261.4,141.2L260.7,142.5L260.0,143.9L259.3,145.2L258.6,146.5L257.9,147.9L257.2,149.2L256.6,150.5L255.9,151.9L255.3,153.3L254.6,154.6L254.0,156.0L253.4,157.3L252.8,158.7L252.2,160.1L251.6,161.5L251.0,162.8L250.4,164.2L249.8,165.6L249.2,167.0L248.7,168.4L248.1,169.8L247.5,171.2L247.0,172.6L246.4,174.0L245.9,175.4L245.4,176.8L244.9,178.2L244.4,179.6L243.9,181.0L243.4,182.4L242.9,183.8L242.4,185.3L241.9,186.7L241.5,188.1L241.0,189.5L240.6,191.0L240.1,192.4L239.7,193.8L239.2,195.3L238.8,196.7L238.4,198.1L237.9,199.6L237.5,201.0L237.1,202.5L236.6,203.9L236.2,205.3L235.8,206.8L235.4,208.2L235.0,209.6L234.5,211.1L234.1,212.5L233.7,214.0L233.3,215.4L232.9,216.9L232.5,218.3L232.1,219.8L231.7,221.2L231.4,222.7L231.0,224.1L230.6,225.6L230.3,227.0L229.9,228.5L229.6,230.0L229.2,231.4L228.9,232.9L228.6,234.3L228.3,235.8L227.9,237.3L227.6,238.7L227.3,240.2L227.0,241.7L226.7,243.2L226.4,244.6L226.2,246.1L225.9,247.6L225.6,249.0L225.3,250.5L225.1,252.0L224.8,253.5L224.6,255.0L224.3,256.4L224.1,257.9L223.9,259.4L223.7,260.9L223.6,262.4L223.4,263.9L223.2,265.4L223.0,266.8L222.8,268.3L222.5,269.8L222.2,271.3L221.9,272.7L221.6,274.2L221.3,275.6L220.9,277.1L220.6,278.6L220.4,280.0L220.1,281.5L219.9,283.0L219.8,284.5L219.6,286.0L219.5,287.5L219.4,289.0L219.3,290.5L219.2,292.0L219.2,293.5L219.1,295.0L219.1,296.5L219.1,298.0L219.1,299.5L219.1,301.0L219.1,302.5L219.2,304.0L219.3,305.5L219.4,306.9L219.6,308.4L219.8,309.9L220.0,311.4L220.3,312.8L220.7,314.3L221.1,315.7L221.6,317.0L222.1,318.4L222.7,319.6L223.4,320.7L224.1,321.6L224.8,322.4L225.7,322.9L226.7,323.1L227.7,323.1L228.9,322.8L230.1,322.4L231.4,321.9L232.7,321.3L234.0,320.6L235.2,319.8L236.5,319.1L237.8,318.3L239.1,317.5L240.3,316.7L241.5,315.8L242.8,314.9L243.9,314.0L245.1,313.1L246.2,312.1L247.3,311.1L248.4,310.0L249.4,309.0L250.4,307.9L251.4,306.7L252.4,305.6L253.3,304.4L254.2,303.2L255.1,302.0L256.0,300.8L256.8,299.5L257.7,298.3L258.5,297.1L259.3,295.8L260.2,294.6L261.0,293.3L261.8,292.0L262.6,290.8L263.4,289.5L264.2,288.3L265.1,287.0L265.9,285.8L266.7,284.5L267.6,283.3L268.4,282.0L269.3,280.8L270.1,279.6L271.0,278.3L271.8,277.1L272.7,275.9L273.6,274.7L274.5,273.5L275.4,272.2L276.2,271.0L277.1,269.8L278.0,268.6L278.9,267.4L279.8,266.2L280.7,265.0L281.6,263.8L282.4,262.6L283.3,261.3L284.2,260.1L285.1,258.9L286.0,257.7L286.9,256.5L287.8,255.3L288.6,254.1L289.5,252.9L290.4,251.6L291.3,250.4L292.2,249.2L293.0,248.0L293.9,246.8L294.8,245.5L295.6,244.3L296.5,243.1L297.4,241.9L298.2,240.6L299.1,239.4L300.0,238.2L300.8,237.0L301.7,235.7L302.6,234.5L303.4,233.3L304.3,232.1L305.2,230.8L306.0,229.6L306.9,228.4L307.8,227.2L308.7,226.0L309.5,224.7L310.4,223.5L311.3,222.3L312.2,221.1L313.1,219.9L314.0,218.7L314.9,217.5L315.8,216.3L316.7,215.1L317.6,213.9L318.5,212.7L319.4,211.5L320.3,210.3L321.3,209.2L322.2,208.0L323.2,206.9L324.2,205.7L325.1,204.6L326.2,203.5L327.2,202.4L328.2,201.3L329.3,200.3L330.4,199.3L331.5,198.2L332.6,197.2L333.7,196.2L334.9,195.3L336.0,194.3L337.2,193.4L338.3,192.4L339.5,191.5L340.7,190.5L341.9,189.6L343.0,188.6L344.2,187.7L345.4,186.8L346.5,185.8L347.7,184.9L348.8,183.9L350.0,182.9L351.1,181.9L352.2,181.0L353.4,180.0L354.5,179.0L355.6,178.0L356.7,176.9L357.8,175.9L358.9,174.9L360.0,173.9L361.1,172.9L362.2,171.9L363.3,170.9L364.5,169.9L365.6,168.9L366.7,167.9L367.8,166.9L369.0,165.9L370.1,164.9L371.2,163.9L372.4,162.9L373.5,162.0L374.6,161.0L375.8,160.0L376.9,159.1L378.1,158.1L379.2,157.1L380.4,156.2L381.6,155.3L382.8,154.3L383.9,153.4L385.1,152.5L386.3,151.6L387.5,150.6L388.7,149.7L389.9,148.8L391.1,147.9L392.3,147.0L393.5,146.2L394.7,145.3L395.9,144.4L397.2,143.5L398.4,142.7L399.6,141.9L400.9,141.0L402.1,140.2L403.4,139.4L404.7,138.5L405.9,137.7L407.2,136.9L408.5,136.1L409.7,135.3L411.0,134.5L412.3,133.7L413.5,133.0L414.8,132.2L416.1,131.4L417.4,130.6L418.7,129.8L419.9,129.0L421.2,128.3L422.5,127.5L423.8,126.7L425.1,126.0L426.4,125.2L427.7,124.5L429.0,123.7L430.3,123.0L431.6,122.2L432.9,121.5L434.2,120.8L435.5,120.1L436.9,119.3L438.2,118.6L439.5,117.9L440.8,117.2L442.2,116.5L443.5,115.9L444.9,115.2L446.2,114.5L447.5,113.9L448.9,113.2L450.2,112.6L451.6,111.9L453.0,111.3L454.3,110.7L455.7,110.0L457.1,109.4L458.4,108.8L459.8,108.2L461.2,107.6L462.5,107.0L463.9,106.4L465.3,105.8L466.7,105.2L468.1,104.6L469.5,104.1L470.8,103.5L472.2,102.9L473.6,102.4L475.0,101.8L476.4,101.2L477.8,100.7L479.2,100.1L480.6,99.6L482.0,99.0L483.4,98.5L484.8,98.0L486.2,97.5L487.6,96.9L489.0,96.4L490.4,95.9L491.8,95.4L493.3,94.9L494.7,94.4L496.1,93.9L497.5,93.4L498.9,92.9L500.3,92.5L501.8,92.0L503.2,91.5L504.6,91.1L506.1,90.6L507.5,90.2L508.9,89.7L510.4,89.3L511.8,88.8L513.2,88.4L514.7,88.0L516.1,87.6L517.6,87.2L519.0,86.8L520.5,86.4L521.9,86.0L523.4,85.6L524.8,85.3L526.3,84.9L527.7,84.5L529.2,84.2L530.6,83.8L532.1,83.4L533.5,83.1L535.0,82.7L536.5,82.4L537.9,82.0L539.4,81.7L540.8,81.4L542.3,81.0L543.8,80.7L545.2,80.4L546.7,80.0L548.2,79.7L549.6,79.4L551.1,79.1L552.6,78.8L554.0,78.5L555.5,78.2L557.0,77.9L558.4,77.6L559.9,77.3L561.4,77.0L562.9,76.8L564.4,76.5L565.8,76.2L567.3,76.0L568.8,75.7L570.3,75.5L571.7,75.2L573.2,75.0L574.7,74.8L576.2,74.5L577.7,74.3L579.2,74.1L580.6,73.9L582.1,73.7L583.6,73.5L585.1,73.3L586.6,73.1L588.1,72.9L589.6,72.7L591.1,72.5L592.6,72.4L594.0,72.2L595.5,72.1L597.0,72.0L598.5,71.9L600.0,71.7L601.5,71.6L603.0,71.5L604.5,71.4L606.0,71.2L607.5,71.1L609.0,70.9L610.5,70.7L612.0,70.4L613.4,70.1L614.9,69.7L616.3,69.4L617.8,69.0L619.2,68.6L620.6,68.1L622.0,67.6L623.4,66.9L624.7,66.2L626.0,65.4L627.1,64.5L628.2,63.4"/>
<path d="M617.6,63.4L616.6,62.3L615.5,61.3L614.3,60.4L613.1,59.5L611.8,58.8L610.4,58.1L609.0,57.5L607.6,57.0L606.3,56.4L604.8,55.9L603.4,55.7L601.9,55.5L600.4,55.4L598.9,55.3L597.4,55.3L595.9,55.3L594.4,55.3L592.9,55.4L591.4,55.4L589.9,55.4L588.4,55.4L586.9,55.5L585.4,55.5L583.9,55.5L582.4,55.6L580.9,55.6L579.4,55.6L577.9,55.6L576.4,55.6L574.9,55.7L573.4,55.7L571.9,55.7L570.4,55.7L568.9,55.7L567.4,55.7L565.9,55.7L564.4,55.8L562.9,55.8L561.4,55.8L559.9,55.8L558.4,55.8L556.9,55.8L555.4,55.9L553.9,55.9L552.4,55.9L550.9,55.9L549.4,55.9L547.9,56.0L546.4,56.0L544.9,56.0L543.4,56.0L541.9,56.1L540.4,56.1L538.9,56.1L537.4,56.1L535.9,56.2L534.4,56.2L532.9,56.2L531.4,56.3L529.9,56.3L528.4,56.3L526.9,56.4L525.4,56.4L523.9,56.4L522.4,56.5L520.9,56.5L519.5,56.6L518.0,56.6L516.5,56.6L515.0,56.7L513.5,56.7L512.0,56.7L510.5,56.8L509.0,56.8L507.5,56.9L506.0,56.9L504.5,56.9L503.0,57.0L501.5,57.0L500.0,57.1L498.5,57.1L497.0,57.1L495.5,57.2L494.0,57.2L492.5,57.3L491.0,57.3L489.5,57.3L488.0,57.4L486.5,57.4L485.0,57.5L483.5,57.5L482.0,57.6L480.5,57.7L479.0,57.7L477.5,57.8L476.0,57.9L474.5,57.9L473.0,58.0L471.5,58.1L470.0,58.2L468.5,58.3L467.0,58.4L465.5,58.5L464.0,58.6L462.5,58.7L461.0,58.8L459.5,58.9L458.0,59.0L456.5,59.1L455.1,59.2L453.6,59.3L452.1,59.5L450.6,59.6L449.1,59.7L447.6,59.8L446.1,59.9L444.6,60.0L443.1,60.2L441.6,60.3L440.1,60.4L438.6,60.5L437.1,60.6L435.6,60.7L434.1,60.8L432.6,61.0L431.1,61.1L429.6,61.2L428.2,61.3L426.7,61.4L425.2,61.5L423.7,61.7L422.2,61.8L420.7,61.9L419.2,62.0L417.7,62.1L416.2,62.3L414.7,62.4L413.2,62.5L411.7,62.7L410.2,62.8L408.7,62.9L407.2,63.1L405.8,63.3L404.3,63.4L402.8,63.6L401.3,63.8L399.8,64.0L398.3,64.3L396.8,64.5L395.4,64.8L393.9,65.0L392.4,65.3L391.0,65.6L389.5,65.9L388.0,66.2L386.5,66.5L385.1,66.8L383.6,67.1L382.1,67.4L380.7,67.7L379.2,68.1L377.8,68.4L376.3,68.8L374.8,69.1L373.4,69.5L371.9,69.8L370.5,70.2L369.0,70.6L367.6,71.0L366.1,71.4L364.7,71.8L363.3,72.2L361.8,72.6L360.4,73.0L358.9,73.5L357.5,73.9L356.1,74.4L354.7,74.9L353.3,75.4L351.9,75.9L350.5,76.4L349.1,77.0L347.7,77.6L346.3,78.1L344.9,78.7L343.6,79.4L342.2,80.0L340.9,80.6L339.5,81.3L338.2,81.9L336.8,82.6L335.5,83.3L334.1,84.0L332.8,84.7L331.5,85.4L330.2,86.1L328.9,86.8L327.6,87.5L326.3,88.3L325.0,89.1L323.8,89.9L322.5,90.8L321.3,91.6L320.1,92.5L318.9,93.4L317.8,94.4L316.6,95.3L315.4,96.3L314.3,97.2L313.2,98.2L312.0,99.2L310.9,100.2L309.7,101.1L308.6,102.1L307.5,103.1L306.4,104.1L305.3,105.1L304.1,106.1L303.0,107.1L301.9,108.1L300.8,109.2L299.7,110.2L298.6,111.2L297.6,112.3L296.5,113.3L295.4,114.3L294.3,115.4L293.3,116.5L292.2,117.5L291.2,118.6L290.2,119.7L289.2,120.8L288.2,121.9L287.2,123.0L286.2,124.2L285.2,125.3L284.3,126.5L283.3,127.6L282.4,128.8L281.5,130.0L280.6,131.2L279.6,132.4L278.7,133.6L277.9,134.8L277.0,136.0L276.1,137.2L275.3,138.5L274.4,139.7L273.6,141.0L272.8,142.2L272.0,143.5L271.2,144.8L270.5,146.1L269.7,147.4L269.0,148.7L268.3,150.0L267.6,151.3L266.9,152.6L266.2,153.9L265.5,155.3L264.8,156.6L264.2,158.0L263.5,159.3L262.9,160.7L262.2,162.0L261.6,163.4L261.0,164.8L260.4,166.1L259.7,167.5L259.1,168.9L258.5,170.2L257.9,171.6L257.3,173.0L256.7,174.4L256.2,175.7L255.6,177.1L255.0,178.5L254.5,179.9L253.9,181.3L253.4,182.7L252.8,184.1L252.3,185.5L251.8,186.9L251.3,188.3L250.8,189.7L250.3,191.1L249.8,192.6L249.3,194.0L248.9,195.4L248.4,196.8L247.9,198.2L247.4,199.7L247.0,201.1L246.5,202.5L246.0,203.9L245.6,205.4L245.1,206.8L244.6,208.2L244.2,209.6L243.7,211.1L243.2,212.5L242.8,213.9L242.3,215.4L241.9,216.8L241.5,218.2L241.1,219.7L240.6,221.1L240.2,222.5L239.8,224.0L239.5,225.4L239.1,226.9L238.7,228.3L238.4,229.8L238.1,231.3L237.7,232.7L237.4,234.2L237.1,235.7L236.8,237.1L236.5,238.6L236.3,240.1L236.0,241.6L235.8,243.0L235.5,244.5L235.3,246.0L235.1,247.5L234.8,249.0L234.6,250.4L234.4,251.9L234.2,253.4L234.0,254.9L233.9,256.4L233.7,257.9L233.6,259.4L233.4,260.9L233.3,262.4L233.2,263.9L233.1,265.3L233.1,266.8L233.0,268.3L233.0,269.8L233.0,271.3L233.0,272.8L233.1,274.3L233.1,275.8L233.2,277.3L233.4,278.8L233.5,280.3L233.7,281.8L234.0,283.2L234.2,284.7L234.6,286.1L235.0,287.6L235.4,289.0L235.8,290.3L236.3,291.5L236.9,292.7L237.5,293.6L238.2,294.3L239.0,294.8L239.9,294.9L240.9,294.8L242.0,294.5L243.2,294.0L244.4,293.3L245.6,292.6L246.8,291.8L248.1,290.9L249.3,290.1L250.5,289.2L251.7,288.3L252.8,287.3L254.0,286.4L255.2,285.4L256.3,284.5L257.4,283.5L258.5,282.5L259.6,281.4L260.7,280.4L261.7,279.3L262.8,278.2L263.8,277.1L264.8,276.0L265.8,274.9L266.7,273.8L267.7,272.6L268.7,271.5L269.6,270.3L270.5,269.1L271.5,268.0L272.4,266.8L273.3,265.6L274.2,264.4L275.1,263.2L276.0,262.0L277.0,260.8L277.9,259.6L278.8,258.4L279.7,257.2L280.6,256.0L281.5,254.8L282.4,253.6L283.3,252.4L284.2,251.2L285.1,250.0L286.0,248.8L286.9,247.6L287.8,246.4L288.7,245.2L289.5,244.0L290.4,242.8L291.3,241.6L292.2,240.4L293.1,239.2L294.0,238.0L294.9,236.8L295.7,235.6L296.6,234.3L297.5,233.1L298.4,231.9L299.3,230.7L300.1,229.5L301.0,228.3L301.9,227.1L302.8,225.9L303.7,224.7L304.6,223.5L305.5,222.3L306.4,221.1L307.3,219.9L308.2,218.7L309.1,217.5L310.0,216.3L311.0,215.1L311.9,213.9L312.8,212.8L313.8,211.6L314.7,210.4L315.7,209.3L316.6,208.1L317.6,207.0L318.6,205.9L319.6,204.8L320.7,203.7L321.7,202.7L322.8,201.6L323.9,200.6L325.0,199.6L326.1,198.6L327.2,197.6L328.4,196.6L329.5,195.6L330.7,194.7L331.8,193.7L333.0,192.8L334.1,191.8L335.3,190.9L336.5,190.0L337.7,189.0L338.8,188.1L340.0,187.2L341.2,186.2L342.4,185.3L343.5,184.4L344.7,183.4L345.9,182.5L347.0,181.6L348.2,180.6L349.4,179.7L350.5,178.7L351.6,177.7L352.8,176.7L353.9,175.8L355.0,174.8L356.1,173.8L357.3,172.8L358.4,171.7L359.5,170.7L360.6,169.7L361.7,168.7L362.8,167.7L363.9,166.7L365.1,165.7L366.2,164.8L367.3,163.8L368.4,162.8L369.6,161.8L370.7,160.8L371.9,159.9L373.0,158.9L374.2,157.9L375.3,157.0L376.5,156.0L377.6,155.1L378.8,154.1L379.9,153.2L381.1,152.2L382.3,151.3L383.5,150.4L384.7,149.5L385.8,148.5L387.0,147.6L388.2,146.7L389.4,145.8L390.6,144.9L391.8,144.0L393.0,143.1L394.2,142.3L395.5,141.4L396.7,140.5L397.9,139.7L399.2,138.8L400.4,138.0L401.6,137.2L402.9,136.3L404.2,135.5L405.4,134.7L406.7,133.9L408.0,133.1L409.2,132.3L410.5,131.5L411.8,130.7L413.1,130.0L414.3,129.2L415.6,128.4L416.9,127.6L418.2,126.8L419.5,126.1L420.8,125.3L422.0,124.5L423.3,123.8L424.6,123.0L425.9,122.3L427.2,121.5L428.5,120.8L429.8,120.1L431.2,119.3L432.5,118.6L433.8,117.9L435.1,117.2L436.4,116.5L437.7,115.8L439.1,115.1L440.4,114.4L441.7,113.7L443.1,113.0L444.4,112.4L445.8,111.7L447.1,111.1L448.5,110.4L449.8,109.8L451.2,109.2L452.6,108.5L453.9,107.9L455.3,107.3L456.7,106.7L458.0,106.1L459.4,105.5L460.8,104.9L462.2,104.3L463.6,103.7L464.9,103.2L466.3,102.6L467.7,102.0L469.1,101.5L470.5,100.9L471.9,100.4L473.3,99.8L474.7,99.3L476.1,98.7L477.5,98.2L478.9,97.7L480.3,97.1L481.7,96.6L483.1,96.1L484.5,95.6L485.9,95.1L487.3,94.6L488.7,94.1L490.2,93.6L491.6,93.1L493.0,92.6L494.4,92.1L495.8,91.7L497.3,91.2L498.7,90.7L500.1,90.3L501.5,89.8L503.0,89.4L504.4,88.9L505.8,88.5L507.3,88.1L508.7,87.6L510.2,87.2L511.6,86.8L513.0,86.4L514.5,86.0L515.9,85.6L517.4,85.2L518.8,84.8L520.3,84.5L521.7,84.1L523.2,83.7L524.6,83.4L526.1,83.0L527.6,82.7L529.0,82.3L530.5,82.0L531.9,81.6L533.4,81.3L534.9,81.0L536.3,80.6L537.8,80.3L539.2,80.0L540.7,79.6L542.2,79.3L543.6,79.0L545.1,78.7L546.6,78.4L548.0,78.1L549.5,77.8L551.0,77.5L552.4,77.2L553.9,76.9L555.4,76.6L556.9,76.3L558.3,76.1L559.8,75.8L561.3,75.6L562.8,75.3L564.2,75.0L565.7,74.8L567.2,74.6L568.7,74.3L570.2,74.1L571.6,73.9L573.1,73.6L574.6,73.4L576.1,73.2L577.6,73.0L579.1,72.8L580.5,72.6L582.0,72.4L583.5,72.2L585.0,72.0L586.5,71.8L588.0,71.7L589.5,71.5L591.0,71.4L592.5,71.3L594.0,71.2L595.5,71.2L597.0,71.1L598.4,71.0L599.9,70.7L601.4,70.5L602.9,70.1L604.3,69.8L605.8,69.4L607.2,69.0L608.7,68.6L610.1,68.2L611.5,67.6L612.8,67.0L614.1,66.2L615.4,65.4L616.5,64.5L617.6,63.4"/>
<path d="M607.2,63.4L606.2,62.3L605.1,61.3L603.9,60.4L602.7,59.5L601.3,58.8L600.0,58.1L598.6,57.5L597.2,57.0L595.8,56.5L594.4,56.1L592.9,55.7L591.4,55.5L589.9,55.4L588.4,55.4L587.0,55.5L585.5,55.7L584.0,55.7L582.5,55.8L581.0,55.9L579.5,55.9L578.0,55.9L576.5,55.9L575.0,56.0L573.5,56.0L572.0,56.0L570.5,56.0L569.0,56.0L567.5,56.0L566.0,56.0L564.5,56.0L563.0,56.0L561.5,56.0L560.0,56.0L558.5,56.0L557.0,56.1L555.5,56.1L554.0,56.1L552.5,56.1L551.0,56.1L549.5,56.1L548.0,56.2L546.5,56.2L545.0,56.2L543.5,56.2L542.0,56.3L540.5,56.3L539.0,56.4L537.5,56.4L536.0,56.4L534.5,56.5L533.0,56.5L531.5,56.6L530.0,56.6L528.5,56.7L527.0,56.7L525.5,56.8L524.0,56.9L522.5,56.9L521.0,57.0L519.5,57.0L518.0,57.1L516.5,57.1L515.0,57.2L513.5,57.3L512.0,57.3L510.5,57.4L509.0,57.4L507.5,57.5L506.0,57.5L504.5,57.6L503.0,57.6L501.5,57.7L500.0,57.8L498.5,57.8L497.0,57.9L495.5,57.9L494.0,58.0L492.5,58.0L491.0,58.1L489.5,58.1L488.0,58.2L486.5,58.3L485.0,58.3L483.5,58.4L482.0,58.5L480.5,58.6L479.0,58.7L477.5,58.8L476.0,58.9L474.5,59.0L473.0,59.1L471.5,59.2L470.0,59.3L468.5,59.4L467.0,59.6L465.5,59.7L464.1,59.8L462.6,60.0L461.1,60.1L459.6,60.3L458.1,60.4L456.6,60.6L455.1,60.7L453.6,60.9L452.1,61.0L450.6,61.2L449.1,61.3L447.6,61.5L446.1,61.7L444.7,61.8L443.2,62.0L441.7,62.1L440.2,62.3L438.7,62.4L437.2,62.6L435.7,62.7L434.2,62.9L432.7,63.0L431.2,63.2L429.7,63.3L428.2,63.5L426.7,63.6L425.3,63.8L423.8,63.9L422.3,64.1L420.8,64.3L419.3,64.4L417.8,64.6L416.3,64.7L414.8,64.9L413.3,65.1L411.8,65.3L410.3,65.4L408.9,65.6L407.4,65.8L405.9,66.0L404.4,66.3L402.9,66.5L401.4,66.7L400.0,67.0L398.5,67.3L397.0,67.6L395.6,67.9L394.1,68.3L392.6,68.6L391.2,69.0L389.7,69.3L388.3,69.7L386.8,70.1L385.4,70.5L383.9,70.9L382.5,71.3L381.0,71.6L379.6,72.1L378.2,72.5L376.7,72.9L375.3,73.3L373.9,73.8L372.4,74.2L371.0,74.7L369.6,75.2L368.2,75.7L366.8,76.2L365.4,76.7L364.0,77.3L362.6,77.8L361.2,78.4L359.8,78.9L358.4,79.5L357.0,80.1L355.6,80.7L354.3,81.3L352.9,82.0L351.6,82.6L350.2,83.3L348.9,84.0L347.6,84.7L346.3,85.4L345.0,86.2L343.7,86.9L342.4,87.7L341.1,88.5L339.8,89.2L338.6,90.0L337.3,90.8L336.0,91.7L334.8,92.5L333.5,93.3L332.3,94.1L331.0,95.0L329.8,95.8L328.5,96.7L327.3,97.5L326.1,98.4L324.9,99.3L323.8,100.3L322.6,101.2L321.5,102.2L320.4,103.2L319.3,104.3L318.2,105.3L317.1,106.3L316.1,107.4L315.0,108.4L314.0,109.5L312.9,110.6L311.9,111.7L310.8,112.7L309.8,113.8L308.7,114.9L307.7,116.0L306.6,117.0L305.6,118.1L304.6,119.2L303.5,120.3L302.5,121.4L301.5,122.5L300.5,123.6L299.4,124.7L298.4,125.8L297.4,126.9L296.4,128.0L295.4,129.1L294.4,130.2L293.3,131.3L292.4,132.4L291.4,133.6L290.4,134.7L289.4,135.9L288.5,137.0L287.6,138.2L286.7,139.4L285.8,140.6L284.9,141.8L284.0,143.0L283.2,144.3L282.4,145.5L281.6,146.8L280.8,148.1L280.0,149.3L279.2,150.6L278.4,151.9L277.6,153.2L276.9,154.5L276.1,155.8L275.4,157.1L274.6,158.4L273.9,159.7L273.2,161.0L272.4,162.3L271.7,163.6L271.0,165.0L270.4,166.3L269.7,167.6L269.1,169.0L268.4,170.4L267.8,171.7L267.3,173.1L266.7,174.5L266.2,175.9L265.7,177.3L265.1,178.7L264.6,180.1L264.1,181.5L263.6,183.0L263.1,184.4L262.6,185.8L262.1,187.2L261.6,188.6L261.2,190.0L260.7,191.5L260.2,192.9L259.7,194.3L259.2,195.7L258.8,197.1L258.3,198.6L257.8,200.0L257.4,201.4L256.9,202.9L256.5,204.3L256.0,205.7L255.6,207.1L255.1,208.6L254.7,210.0L254.2,211.4L253.8,212.9L253.4,214.3L253.0,215.8L252.6,217.2L252.2,218.6L251.8,220.1L251.4,221.6L251.1,223.0L250.7,224.5L250.4,225.9L250.1,227.4L249.9,228.9L249.6,230.4L249.4,231.8L249.2,233.3L249.1,234.8L248.9,236.3L248.8,237.8L248.7,239.3L248.6,240.8L248.5,242.3L248.4,243.8L248.4,245.3L248.4,246.8L248.4,248.3L248.4,249.8L248.5,251.3L248.6,252.8L248.8,254.2L249.0,255.7L249.2,257.2L249.5,258.7L249.8,260.1L250.1,261.5L250.5,262.8L250.9,264.0L251.4,265.0L252.0,265.8L252.7,266.3L253.5,266.5L254.5,266.5L255.6,266.2L256.7,265.7L257.9,265.1L259.2,264.4L260.4,263.6L261.6,262.8L262.9,261.9L264.1,261.1L265.3,260.2L266.5,259.3L267.7,258.4L268.9,257.5L270.0,256.5L271.2,255.6L272.3,254.6L273.5,253.6L274.6,252.6L275.7,251.6L276.7,250.5L277.8,249.5L278.8,248.4L279.8,247.3L280.8,246.2L281.8,245.0L282.7,243.9L283.7,242.7L284.6,241.5L285.5,240.3L286.4,239.1L287.3,237.9L288.2,236.7L289.1,235.5L290.0,234.3L290.9,233.1L291.8,231.9L292.6,230.7L293.5,229.5L294.4,228.2L295.3,227.0L296.2,225.8L297.1,224.6L298.0,223.4L298.9,222.2L299.8,221.1L300.7,219.9L301.7,218.7L302.6,217.5L303.5,216.3L304.5,215.2L305.4,214.0L306.4,212.9L307.3,211.7L308.3,210.6L309.3,209.4L310.3,208.3L311.3,207.2L312.3,206.1L313.4,205.1L314.5,204.0L315.5,203.0L316.6,201.9L317.7,200.9L318.8,199.9L320.0,198.9L321.1,197.9L322.2,197.0L323.4,196.0L324.5,195.0L325.7,194.1L326.9,193.1L328.0,192.2L329.2,191.3L330.4,190.3L331.5,189.4L332.7,188.5L333.9,187.5L335.1,186.6L336.3,185.7L337.4,184.8L338.6,183.8L339.8,182.9L341.0,182.0L342.2,181.0L343.3,180.1L344.5,179.2L345.7,178.3L346.9,177.3L348.0,176.4L349.2,175.4L350.3,174.5L351.5,173.5L352.6,172.5L353.8,171.6L354.9,170.6L356.0,169.6L357.2,168.6L358.3,167.6L359.4,166.6L360.5,165.6L361.7,164.6L362.8,163.7L363.9,162.7L365.1,161.7L366.2,160.7L367.3,159.7L368.5,158.8L369.6,157.8L370.8,156.9L372.0,155.9L373.1,154.9L374.3,154.0L375.4,153.0L376.6,152.1L377.8,151.2L378.9,150.2L380.1,149.3L381.3,148.4L382.5,147.5L383.7,146.5L384.9,145.6L386.1,144.7L387.3,143.8L388.5,142.9L389.7,142.0L390.9,141.1L392.1,140.2L393.3,139.4L394.5,138.5L395.7,137.6L397.0,136.8L398.2,135.9L399.4,135.1L400.7,134.2L401.9,133.4L403.2,132.6L404.5,131.8L405.7,131.0L407.0,130.2L408.3,129.4L409.6,128.6L410.8,127.9L412.1,127.1L413.4,126.3L414.7,125.5L416.0,124.8L417.3,124.0L418.6,123.2L419.9,122.5L421.2,121.7L422.5,121.0L423.8,120.2L425.1,119.5L426.4,118.8L427.7,118.0L429.0,117.3L430.3,116.6L431.6,115.9L433.0,115.2L434.3,114.5L435.6,113.8L436.9,113.1L438.3,112.4L439.6,111.7L441.0,111.0L442.3,110.4L443.7,109.7L445.0,109.1L446.4,108.4L447.7,107.8L449.1,107.2L450.4,106.6L451.8,105.9L453.2,105.3L454.6,104.7L455.9,104.1L457.3,103.5L458.7,103.0L460.1,102.4L461.5,101.8L462.9,101.2L464.2,100.7L465.6,100.1L467.0,99.6L468.4,99.0L469.8,98.5L471.2,97.9L472.6,97.4L474.0,96.9L475.4,96.3L476.8,95.8L478.2,95.3L479.7,94.8L481.1,94.3L482.5,93.8L483.9,93.3L485.3,92.8L486.7,92.3L488.2,91.8L489.6,91.4L491.0,90.9L492.4,90.4L493.9,90.0L495.3,89.5L496.7,89.1L498.2,88.6L499.6,88.2L501.0,87.7L502.5,87.3L503.9,86.9L505.3,86.5L506.8,86.1L508.2,85.7L509.7,85.2L511.1,84.8L512.6,84.5L514.0,84.1L515.5,83.7L516.9,83.3L518.4,82.9L519.8,82.6L521.3,82.2L522.7,81.9L524.2,81.5L525.7,81.2L527.1,80.8L528.6,80.5L530.0,80.1L531.5,79.8L533.0,79.5L534.4,79.2L535.9,78.8L537.4,78.5L538.8,78.2L540.3,77.9L541.8,77.6L543.2,77.3L544.7,77.0L546.2,76.6L547.6,76.3L549.1,76.1L550.6,75.8L552.0,75.5L553.5,75.2L555.0,74.9L556.5,74.7L557.9,74.4L559.4,74.1L560.9,73.9L562.4,73.6L563.9,73.4L565.3,73.1L566.8,72.9L568.3,72.7L569.8,72.4L571.3,72.2L572.8,72.0L574.2,71.8L575.7,71.6L577.2,71.4L578.7,71.2L580.2,71.0L581.7,70.8L583.2,70.7L584.7,70.5L586.2,70.3L587.6,70.1L589.1,69.9L590.6,69.6L592.1,69.4L593.5,69.1L595.0,68.8L596.5,68.4L597.9,68.1L599.4,67.7L600.8,67.2L602.2,66.6L603.5,66.0L604.8,65.2L606.1,64.4L607.2,63.4"/>
<path d="M596.5,63.4L595.5,62.3L594.4,61.3L593.2,60.4L592.0,59.5L590.6,58.8L589.3,58.1L587.9,57.5L586.6,56.9L585.3,56.2L583.9,55.7L582.4,55.5L580.9,55.4L579.4,55.4L577.9,55.4L576.4,55.4L574.9,55.4L573.4,55.5L571.9,55.5L570.4,55.6L568.9,55.6L567.4,55.7L565.9,55.7L564.4,55.8L562.9,55.8L561.4,55.9L559.9,56.0L558.4,56.0L556.9,56.1L555.4,56.2L553.9,56.2L552.4,56.3L550.9,56.3L549.4,56.4L547.9,56.5L546.4,56.5L544.9,56.6L543.4,56.7L541.9,56.7L540.4,56.8L538.9,56.9L537.4,56.9L535.9,57.0L534.4,57.1L532.9,57.1L531.4,57.2L530.0,57.3L528.5,57.3L527.0,57.4L525.5,57.5L524.0,57.5L522.5,57.6L521.0,57.7L519.5,57.7L518.0,57.8L516.5,57.9L515.0,58.0L513.5,58.0L512.0,58.1L510.5,58.2L509.0,58.2L507.5,58.3L506.0,58.4L504.5,58.4L503.0,58.5L501.5,58.6L500.0,58.6L498.5,58.7L497.0,58.8L495.5,58.8L494.0,58.9L492.5,58.9L491.0,59.0L489.5,59.1L488.0,59.2L486.5,59.2L485.0,59.3L483.5,59.4L482.0,59.5L480.5,59.6L479.0,59.7L477.5,59.8L476.0,60.0L474.5,60.1L473.0,60.2L471.5,60.4L470.0,60.5L468.5,60.7L467.1,60.8L465.6,61.0L464.1,61.2L462.6,61.3L461.1,61.5L459.6,61.7L458.1,61.9L456.6,62.1L455.1,62.3L453.7,62.5L452.2,62.7L450.7,62.9L449.2,63.1L447.7,63.3L446.2,63.5L444.7,63.7L443.3,63.9L441.8,64.1L440.3,64.3L438.8,64.5L437.3,64.7L435.8,64.9L434.3,65.1L432.8,65.3L431.4,65.5L429.9,65.7L428.4,65.9L426.9,66.1L425.4,66.3L423.9,66.5L422.4,66.8L421.0,67.0L419.5,67.2L418.0,67.4L416.5,67.6L415.0,67.8L413.5,68.1L412.1,68.3L410.6,68.5L409.1,68.8L407.6,69.0L406.1,69.2L404.7,69.5L403.2,69.7L401.7,70.0L400.2,70.2L398.7,70.5L397.3,70.8L395.8,71.1L394.4,71.5L392.9,71.9L391.5,72.3L390.1,72.7L388.7,73.2L387.2,73.8L385.9,74.3L384.5,74.9L383.1,75.5L381.7,76.1L380.3,76.7L379.0,77.3L377.6,77.9L376.2,78.5L374.9,79.2L373.5,79.8L372.2,80.5L370.8,81.1L369.5,81.8L368.2,82.5L366.8,83.2L365.5,83.9L364.2,84.6L362.9,85.3L361.5,86.0L360.2,86.7L358.9,87.5L357.6,88.2L356.3,88.9L355.0,89.6L353.6,90.3L352.3,91.1L351.0,91.8L349.7,92.5L348.4,93.3L347.2,94.1L345.9,94.9L344.6,95.7L343.4,96.5L342.1,97.3L340.9,98.2L339.7,99.1L338.4,99.9L337.2,100.8L336.0,101.7L334.8,102.6L333.6,103.5L332.4,104.4L331.3,105.4L330.1,106.3L328.9,107.2L327.8,108.2L326.7,109.2L325.6,110.2L324.5,111.2L323.4,112.3L322.4,113.4L321.3,114.5L320.3,115.6L319.3,116.7L318.4,117.8L317.4,119.0L316.4,120.1L315.5,121.3L314.5,122.4L313.6,123.6L312.7,124.8L311.7,125.9L310.8,127.1L309.8,128.3L308.9,129.5L308.0,130.6L307.0,131.8L306.1,133.0L305.2,134.1L304.2,135.3L303.3,136.5L302.3,137.6L301.4,138.8L300.4,139.9L299.4,141.1L298.4,142.2L297.4,143.3L296.4,144.4L295.4,145.5L294.3,146.6L293.3,147.7L292.3,148.8L291.3,149.9L290.3,151.0L289.3,152.1L288.4,153.3L287.4,154.5L286.5,155.7L285.6,156.9L284.8,158.1L283.9,159.3L283.1,160.6L282.3,161.8L281.5,163.1L280.7,164.4L280.0,165.7L279.2,167.0L278.5,168.3L277.8,169.6L277.1,170.9L276.4,172.3L275.7,173.6L275.1,175.0L274.5,176.3L273.8,177.7L273.2,179.1L272.7,180.5L272.1,181.8L271.5,183.2L271.0,184.6L270.5,186.0L270.0,187.5L269.5,188.9L269.1,190.3L268.7,191.8L268.3,193.2L267.9,194.7L267.6,196.1L267.2,197.6L266.9,199.0L266.6,200.5L266.2,202.0L265.9,203.4L265.5,204.9L265.1,206.3L264.8,207.8L264.4,209.2L264.1,210.7L263.8,212.2L263.6,213.6L263.4,215.1L263.2,216.6L263.1,218.1L263.0,219.6L263.0,221.1L263.0,222.6L263.1,224.1L263.2,225.5L263.4,227.0L263.6,228.5L263.9,230.0L264.2,231.4L264.5,232.8L264.8,234.1L265.2,235.4L265.7,236.5L266.2,237.3L266.8,238.0L267.6,238.3L268.5,238.3L269.5,238.1L270.6,237.7L271.7,237.0L272.9,236.3L274.1,235.5L275.3,234.7L276.5,233.8L277.7,232.9L278.9,232.0L280.1,231.0L281.3,230.1L282.5,229.2L283.7,228.3L284.8,227.3L286.0,226.4L287.1,225.4L288.3,224.5L289.4,223.5L290.6,222.5L291.7,221.5L292.8,220.5L293.9,219.5L295.0,218.5L296.1,217.4L297.1,216.4L298.2,215.3L299.2,214.2L300.2,213.1L301.2,212.0L302.2,210.8L303.2,209.7L304.2,208.6L305.2,207.5L306.3,206.4L307.3,205.3L308.4,204.3L309.4,203.2L310.5,202.2L311.6,201.2L312.7,200.2L313.9,199.2L315.0,198.2L316.1,197.2L317.3,196.3L318.4,195.3L319.6,194.3L320.7,193.4L321.9,192.4L323.0,191.5L324.2,190.5L325.4,189.6L326.5,188.6L327.7,187.7L328.9,186.7L330.0,185.8L331.2,184.9L332.4,183.9L333.5,183.0L334.7,182.0L335.9,181.1L337.0,180.2L338.2,179.2L339.4,178.3L340.6,177.4L341.7,176.4L342.9,175.5L344.1,174.5L345.2,173.6L346.4,172.7L347.6,171.7L348.7,170.8L349.9,169.8L351.0,168.9L352.2,167.9L353.4,166.9L354.5,166.0L355.7,165.0L356.8,164.0L357.9,163.1L359.1,162.1L360.2,161.1L361.4,160.2L362.5,159.2L363.7,158.2L364.8,157.3L366.0,156.3L367.2,155.4L368.3,154.4L369.5,153.5L370.7,152.6L371.8,151.6L373.0,150.7L374.2,149.8L375.4,148.9L376.6,147.9L377.7,147.0L378.9,146.1L380.1,145.2L381.3,144.3L382.5,143.4L383.7,142.5L384.9,141.6L386.1,140.7L387.3,139.8L388.5,138.9L389.8,138.0L391.0,137.1L392.2,136.3L393.4,135.4L394.6,134.5L395.9,133.7L397.1,132.8L398.3,132.0L399.6,131.2L400.9,130.3L402.1,129.5L403.4,128.7L404.7,127.9L405.9,127.2L407.2,126.4L408.5,125.6L409.8,124.9L411.1,124.1L412.4,123.3L413.7,122.6L415.0,121.8L416.3,121.1L417.6,120.3L418.9,119.6L420.2,118.9L421.5,118.1L422.8,117.4L424.1,116.7L425.5,116.0L426.8,115.2L428.1,114.5L429.4,113.8L430.7,113.1L432.1,112.4L433.4,111.7L434.7,111.1L436.1,110.4L437.4,109.7L438.8,109.0L440.1,108.4L441.5,107.7L442.8,107.1L444.2,106.5L445.5,105.8L446.9,105.2L448.3,104.6L449.6,104.0L451.0,103.4L452.4,102.8L453.8,102.2L455.1,101.6L456.5,101.0L457.9,100.4L459.3,99.9L460.7,99.3L462.1,98.7L463.5,98.2L464.9,97.6L466.3,97.1L467.7,96.6L469.1,96.0L470.5,95.5L471.9,95.0L473.3,94.5L474.7,93.9L476.1,93.4L477.5,92.9L478.9,92.4L480.4,91.9L481.8,91.5L483.2,91.0L484.6,90.5L486.1,90.1L487.5,89.6L488.9,89.1L490.3,88.7L491.8,88.3L493.2,87.8L494.6,87.4L496.1,87.0L497.5,86.5L499.0,86.1L500.4,85.7L501.8,85.3L503.3,84.9L504.7,84.5L506.2,84.1L507.6,83.7L509.1,83.3L510.5,82.9L512.0,82.5L513.4,82.1L514.9,81.8L516.3,81.4L517.8,81.0L519.2,80.7L520.7,80.3L522.2,79.9L523.6,79.6L525.1,79.2L526.5,78.9L528.0,78.6L529.5,78.2L530.9,77.9L532.4,77.6L533.8,77.2L535.3,76.9L536.8,76.6L538.2,76.3L539.7,75.9L541.2,75.6L542.6,75.3L544.1,75.0L545.6,74.7L547.0,74.4L548.5,74.1L550.0,73.8L551.5,73.5L552.9,73.2L554.4,72.9L555.9,72.6L557.3,72.4L558.8,72.1L560.3,71.8L561.8,71.6L563.3,71.3L564.7,71.0L566.2,70.8L567.7,70.5L569.2,70.3L570.6,70.0L572.1,69.8L573.6,69.6L575.1,69.4L576.6,69.2L578.1,69.0L579.6,68.8L581.0,68.6L582.5,68.3L584.0,68.1L585.5,67.8L586.9,67.5L588.4,67.1L589.8,66.7L591.3,66.3L592.7,65.7L594.0,65.0L595.3,64.3L596.5,63.4"/>
<path d="M582.8,64.8L581.6,63.9L580.3,63.2L578.9,62.7L577.4,62.3L576.0,62.0L574.5,61.8L573.0,61.7L571.5,61.7L570.0,61.7L568.5,61.6L567.0,61.6L565.5,61.6L564.0,61.6L562.5,61.6L561.0,61.6L559.5,61.6L558.0,61.6L556.5,61.5L555.0,61.5L553.5,61.5L552.0,61.5L550.5,61.4L549.0,61.4L547.5,61.4L546.0,61.3L544.5,61.3L543.0,61.2L541.5,61.2L540.0,61.1L538.5,61.1L537.0,61.0L535.5,60.9L534.0,60.9L532.5,60.8L531.0,60.7L529.5,60.7L528.0,60.6L526.5,60.6L525.0,60.5L523.5,60.5L522.0,60.4L520.5,60.4L519.0,60.3L517.5,60.3L516.0,60.3L514.5,60.3L513.0,60.2L511.5,60.2L510.0,60.2L508.5,60.2L507.0,60.2L505.5,60.2L504.0,60.2L502.6,60.3L501.1,60.3L499.6,60.3L498.1,60.3L496.6,60.4L495.1,60.4L493.6,60.4L492.1,60.5L490.6,60.5L489.1,60.6L487.6,60.7L486.1,60.7L484.6,60.8L483.1,60.9L481.6,61.0L480.1,61.1L478.6,61.2L477.1,61.4L475.6,61.5L474.1,61.6L472.6,61.8L471.1,61.9L469.6,62.1L468.2,62.3L466.7,62.5L465.2,62.7L463.7,62.9L462.2,63.1L460.7,63.3L459.3,63.5L457.8,63.7L456.3,64.0L454.8,64.2L453.3,64.4L451.9,64.7L450.4,64.9L448.9,65.2L447.4,65.5L445.9,65.7L444.5,66.0L443.0,66.3L441.5,66.5L440.0,66.8L438.6,67.1L437.1,67.4L435.6,67.6L434.2,67.9L432.7,68.2L431.2,68.5L429.8,68.8L428.3,69.1L426.8,69.4L425.3,69.7L423.9,70.0L422.4,70.4L421.0,70.7L419.5,71.0L418.0,71.3L416.6,71.7L415.1,72.0L413.6,72.3L412.2,72.7L410.7,73.1L409.3,73.4L407.8,73.8L406.4,74.2L405.0,74.6L403.5,75.1L402.1,75.5L400.7,76.0L399.3,76.6L397.9,77.1L396.5,77.7L395.2,78.3L393.8,78.9L392.4,79.5L391.1,80.1L389.7,80.8L388.3,81.4L387.0,82.0L385.6,82.6L384.2,83.1L382.8,83.7L381.4,84.3L380.1,84.9L378.7,85.5L377.3,86.1L375.9,86.7L374.6,87.3L373.2,88.0L371.9,88.6L370.5,89.3L369.2,89.9L367.9,90.6L366.6,91.4L365.3,92.1L364.0,92.9L362.7,93.7L361.5,94.5L360.2,95.3L359.0,96.2L357.8,97.1L356.6,97.9L355.4,98.8L354.2,99.7L353.0,100.6L351.8,101.5L350.6,102.4L349.4,103.4L348.2,104.3L347.0,105.2L345.8,106.1L344.6,107.0L343.4,107.9L342.2,108.8L341.0,109.7L339.8,110.6L338.6,111.5L337.4,112.4L336.2,113.3L335.0,114.2L333.8,115.1L332.7,116.0L331.5,117.0L330.3,117.9L329.2,118.9L328.0,119.9L326.9,120.8L325.8,121.9L324.7,122.9L323.7,123.9L322.6,125.0L321.6,126.1L320.6,127.2L319.6,128.3L318.6,129.4L317.7,130.6L316.7,131.8L315.8,133.0L314.9,134.2L314.0,135.4L313.1,136.6L312.3,137.8L311.4,139.0L310.6,140.3L309.7,141.5L308.9,142.8L308.1,144.0L307.3,145.3L306.5,146.5L305.6,147.8L304.8,149.0L304.0,150.3L303.2,151.6L302.4,152.8L301.5,154.0L300.7,155.3L299.8,156.4L298.8,157.6L297.9,158.8L296.9,159.9L295.9,161.0L294.9,162.1L293.9,163.2L292.9,164.3L291.9,165.5L291.0,166.6L290.1,167.8L289.2,169.0L288.4,170.3L287.6,171.5L286.9,172.8L286.2,174.2L285.5,175.5L284.9,176.9L284.3,178.2L283.8,179.6L283.3,181.0L282.9,182.5L282.5,183.9L282.1,185.4L281.8,186.8L281.5,188.3L281.3,189.7L281.1,191.2L280.9,192.7L280.8,194.2L280.8,195.7L280.9,197.2L281.0,198.6L281.2,200.1L281.5,201.5L281.9,202.9L282.4,204.3L283.1,205.5L283.8,206.7L284.7,207.8L285.7,208.7L286.7,209.5L287.9,210.1L289.1,210.5L290.3,210.7L291.6,210.7L292.8,210.4L294.0,210.0L295.2,209.4L296.4,208.7L297.6,207.9L298.8,207.0L299.9,206.1L301.1,205.1L302.3,204.2L303.4,203.2L304.6,202.3L305.7,201.3L306.9,200.4L308.0,199.4L309.2,198.4L310.3,197.5L311.5,196.5L312.6,195.5L313.8,194.6L314.9,193.6L316.0,192.6L317.2,191.7L318.3,190.7L319.5,189.7L320.6,188.8L321.8,187.8L322.9,186.8L324.0,185.9L325.2,184.9L326.3,183.9L327.5,182.9L328.6,182.0L329.8,181.0L330.9,180.0L332.1,179.1L333.2,178.1L334.3,177.1L335.5,176.2L336.6,175.2L337.8,174.2L338.9,173.3L340.1,172.3L341.2,171.3L342.3,170.4L343.5,169.4L344.6,168.4L345.8,167.5L346.9,166.5L348.1,165.5L349.2,164.6L350.4,163.6L351.5,162.7L352.7,161.7L353.9,160.8L355.0,159.8L356.2,158.9L357.3,157.9L358.5,157.0L359.7,156.1L360.9,155.1L362.1,154.2L363.2,153.3L364.4,152.4L365.6,151.5L366.8,150.6L368.0,149.7L369.2,148.8L370.4,147.9L371.6,147.0L372.8,146.1L374.0,145.2L375.2,144.3L376.4,143.4L377.6,142.5L378.8,141.6L380.0,140.7L381.3,139.8L382.5,139.0L383.7,138.1L384.9,137.2L386.1,136.3L387.3,135.5L388.6,134.6L389.8,133.7L391.0,132.9L392.2,132.0L393.5,131.2L394.7,130.3L395.9,129.5L397.2,128.6L398.4,127.8L399.7,127.0L401.0,126.2L402.2,125.4L403.5,124.6L404.8,123.9L406.1,123.1L407.4,122.4L408.7,121.6L410.0,120.9L411.3,120.1L412.6,119.4L413.9,118.7L415.2,118.0L416.6,117.2L417.9,116.5L419.2,115.8L420.5,115.1L421.8,114.4L423.2,113.7L424.5,113.0L425.8,112.3L427.2,111.6L428.5,110.9L429.8,110.3L431.2,109.6L432.5,108.9L433.8,108.3L435.2,107.6L436.5,106.9L437.9,106.3L439.3,105.7L440.6,105.0L442.0,104.4L443.3,103.8L444.7,103.2L446.1,102.5L447.4,101.9L448.8,101.3L450.2,100.8L451.6,100.2L452.9,99.6L454.3,99.0L455.7,98.4L457.1,97.9L458.5,97.3L459.9,96.8L461.3,96.2L462.7,95.7L464.1,95.1L465.5,94.6L466.9,94.1L468.3,93.5L469.7,93.0L471.1,92.5L472.5,92.0L473.9,91.5L475.3,91.0L476.8,90.5L478.2,90.1L479.6,89.6L481.0,89.1L482.5,88.7L483.9,88.2L485.3,87.8L486.7,87.3L488.2,86.9L489.6,86.5L491.1,86.0L492.5,85.6L493.9,85.2L495.4,84.8L496.8,84.4L498.3,84.0L499.7,83.6L501.2,83.2L502.6,82.8L504.1,82.4L505.5,82.1L507.0,81.7L508.4,81.3L509.9,80.9L511.3,80.6L512.8,80.2L514.2,79.9L515.7,79.5L517.1,79.2L518.6,78.8L520.1,78.5L521.5,78.2L523.0,77.8L524.5,77.5L525.9,77.2L527.4,76.9L528.8,76.6L530.3,76.3L531.8,76.0L533.2,75.7L534.7,75.4L536.2,75.1L537.7,74.7L539.1,74.4L540.6,74.1L542.1,73.8L543.5,73.5L545.0,73.2L546.5,72.9L547.9,72.7L549.4,72.4L550.9,72.1L552.3,71.8L553.8,71.5L555.3,71.2L556.8,71.0L558.2,70.7L559.7,70.5L561.2,70.2L562.7,70.0L564.2,69.7L565.6,69.5L567.1,69.3L568.6,69.2L570.1,69.0L571.6,68.7L573.1,68.4L574.5,68.1L576.0,67.8L577.4,67.4L578.8,66.9L580.2,66.3L581.6,65.6L582.8,64.8"/>
<path d="M566.1,66.9L565.4,65.6L564.6,64.3L563.7,63.1L562.5,62.3L561.1,62.0L559.6,61.9L558.1,61.8L556.6,61.8L555.1,61.8L553.6,61.9L552.1,61.9L550.6,61.9L549.2,61.8L547.7,61.7L546.2,61.6L544.7,61.6L543.2,61.6L541.7,61.5L540.2,61.5L538.7,61.4L537.2,61.4L535.7,61.3L534.2,61.3L532.7,61.2L531.2,61.2L529.7,61.1L528.2,61.1L526.7,61.1L525.2,61.0L523.7,61.0L522.2,61.0L520.7,61.0L519.2,61.0L517.7,61.0L516.2,61.0L514.7,61.0L513.2,61.0L511.7,61.0L510.2,61.0L508.7,61.1L507.2,61.1L505.8,61.2L504.3,61.2L502.8,61.3L501.3,61.3L499.8,61.4L498.3,61.5L496.8,61.6L495.3,61.7L493.8,61.8L492.3,61.9L490.8,62.0L489.3,62.1L487.8,62.2L486.3,62.3L484.8,62.5L483.3,62.6L481.8,62.8L480.3,62.9L478.9,63.1L477.4,63.3L475.9,63.4L474.4,63.6L472.9,63.8L471.4,64.0L469.9,64.3L468.5,64.5L467.0,64.7L465.5,65.0L464.0,65.2L462.6,65.5L461.1,65.7L459.6,66.0L458.1,66.3L456.7,66.6L455.2,66.8L453.7,67.1L452.2,67.4L450.8,67.7L449.3,68.0L447.8,68.3L446.4,68.6L444.9,69.0L443.4,69.3L442.0,69.6L440.5,69.9L439.1,70.3L437.6,70.6L436.2,71.0L434.7,71.3L433.3,71.7L431.8,72.1L430.4,72.5L428.9,73.0L427.5,73.4L426.1,73.9L424.7,74.3L423.2,74.8L421.8,75.3L420.4,75.8L419.0,76.3L417.6,76.8L416.2,77.3L414.7,77.8L413.3,78.3L411.9,78.8L410.5,79.3L409.1,79.9L407.7,80.4L406.4,81.0L405.0,81.6L403.6,82.1L402.2,82.7L400.8,83.3L399.4,83.9L398.1,84.5L396.7,85.1L395.3,85.7L394.0,86.4L392.6,87.0L391.3,87.7L390.0,88.4L388.6,89.1L387.3,89.8L386.0,90.5L384.7,91.2L383.4,91.9L382.1,92.7L380.8,93.4L379.5,94.2L378.2,94.9L376.9,95.6L375.6,96.4L374.3,97.1L373.0,97.9L371.7,98.6L370.4,99.4L369.1,100.1L367.8,100.8L366.5,101.6L365.2,102.3L363.9,103.1L362.6,103.9L361.4,104.7L360.1,105.5L358.9,106.4L357.7,107.3L356.5,108.2L355.4,109.2L354.2,110.1L353.1,111.1L351.9,112.1L350.8,113.0L349.6,114.0L348.5,115.0L347.4,116.0L346.3,117.0L345.1,118.0L344.0,118.9L342.9,119.9L341.8,120.9L340.6,121.9L339.5,122.9L338.4,123.9L337.3,124.9L336.2,125.9L335.1,126.9L334.0,127.9L332.8,128.9L331.7,129.9L330.6,130.9L329.4,131.8L328.3,132.8L327.1,133.7L325.9,134.7L324.8,135.6L323.6,136.6L322.5,137.6L321.4,138.5L320.2,139.5L319.2,140.6L318.1,141.6L317.1,142.7L316.1,143.8L315.1,145.0L314.2,146.1L313.3,147.3L312.5,148.6L311.7,149.8L311.0,151.1L310.3,152.4L309.6,153.8L309.0,155.1L308.4,156.5L307.9,157.9L307.5,159.3L307.1,160.8L306.8,162.2L306.5,163.7L306.3,165.1L306.2,166.6L306.2,168.1L306.2,169.5L306.4,170.9L306.8,172.3L307.2,173.6L307.9,174.7L308.6,175.8L309.6,176.6L310.7,177.2L311.9,177.7L313.2,177.9L314.6,178.0L316.0,177.9L317.4,177.6L318.8,177.3L320.2,176.9L321.6,176.3L323.0,175.8L324.3,175.2L325.6,174.5L327.0,173.8L328.3,173.1L329.5,172.3L330.8,171.5L332.1,170.7L333.3,169.8L334.5,169.0L335.7,168.1L336.9,167.2L338.1,166.3L339.3,165.3L340.4,164.4L341.6,163.4L342.8,162.5L343.9,161.5L345.1,160.6L346.2,159.6L347.4,158.7L348.5,157.7L349.7,156.8L350.9,155.9L352.1,154.9L353.3,154.0L354.4,153.1L355.6,152.2L356.8,151.3L358.1,150.4L359.3,149.6L360.5,148.7L361.7,147.8L362.9,146.9L364.1,146.1L365.4,145.2L366.6,144.3L367.8,143.5L369.0,142.6L370.3,141.8L371.5,140.9L372.7,140.1L374.0,139.2L375.2,138.4L376.5,137.5L377.7,136.7L378.9,135.8L380.2,135.0L381.4,134.2L382.7,133.3L383.9,132.5L385.2,131.7L386.4,130.9L387.7,130.0L388.9,129.2L390.2,128.4L391.4,127.6L392.7,126.8L393.9,126.0L395.2,125.1L396.5,124.3L397.7,123.5L399.0,122.7L400.3,121.9L401.5,121.1L402.8,120.4L404.1,119.6L405.4,118.8L406.7,118.0L407.9,117.2L409.2,116.5L410.5,115.7L411.8,115.0L413.1,114.2L414.4,113.5L415.7,112.8L417.1,112.1L418.4,111.4L419.7,110.7L421.1,110.1L422.4,109.4L423.8,108.8L425.2,108.2L426.5,107.6L427.9,107.0L429.3,106.4L430.7,105.8L432.0,105.2L433.4,104.6L434.8,104.0L436.2,103.4L437.5,102.8L438.9,102.2L440.3,101.6L441.7,101.0L443.0,100.4L444.4,99.8L445.8,99.2L447.1,98.5L448.5,97.9L449.8,97.3L451.2,96.7L452.6,96.1L453.9,95.5L455.3,94.9L456.7,94.3L458.1,93.7L459.5,93.2L460.9,92.7L462.3,92.1L463.7,91.6L465.1,91.1L466.5,90.7L468.0,90.2L469.4,89.7L470.8,89.3L472.2,88.8L473.7,88.4L475.1,88.0L476.5,87.5L478.0,87.1L479.4,86.7L480.9,86.3L482.3,85.9L483.7,85.4L485.2,85.0L486.6,84.6L488.1,84.3L489.5,83.9L491.0,83.5L492.4,83.1L493.9,82.7L495.3,82.3L496.8,81.9L498.2,81.5L499.7,81.2L501.1,80.8L502.6,80.4L504.0,80.0L505.5,79.6L506.9,79.3L508.4,78.9L509.8,78.5L511.3,78.2L512.7,77.8L514.2,77.5L515.6,77.1L517.1,76.8L518.6,76.5L520.0,76.1L521.5,75.8L523.0,75.5L524.4,75.2L525.9,74.9L527.3,74.6L528.8,74.3L530.3,74.0L531.7,73.7L533.2,73.4L534.7,73.1L536.2,72.8L537.6,72.5L539.1,72.2L540.6,71.9L542.0,71.7L543.5,71.4L545.0,71.1L546.5,70.9L548.0,70.7L549.4,70.4L550.9,70.2L552.4,70.0L553.9,69.7L555.3,69.5L556.8,69.3L558.1,69.2L559.1,69.0L559.5,69.0L559.0,69.1L557.8,69.3L556.3,69.5L554.8,69.7L553.3,69.9L551.9,70.1L550.4,70.4L549.2,70.5L549.1,70.6L550.3,70.4L551.7,70.2L553.2,70.0L554.7,69.8L556.2,69.6L557.7,69.4L559.2,69.2L560.7,69.0L562.1,68.8L563.6,68.4L564.9,67.8L566.1,66.9"/>
<path d="M543.3,66.4L542.3,65.3L541.0,64.6L539.5,64.3L538.0,64.1L536.5,63.9L535.0,63.8L533.5,63.8L532.0,63.7L530.5,63.7L529.0,63.6L527.5,63.6L526.0,63.5L524.5,63.5L523.0,63.4L521.5,63.4L520.0,63.3L518.5,63.3L517.0,63.3L515.5,63.3L514.0,63.4L512.5,63.5L511.0,63.5L509.5,63.7L508.0,63.8L506.5,63.9L505.0,64.0L503.5,64.2L502.0,64.3L500.5,64.4L499.1,64.6L497.6,64.7L496.1,64.9L494.6,65.0L493.1,65.2L491.6,65.4L490.1,65.5L488.6,65.7L487.1,65.9L485.6,66.0L484.1,66.2L482.6,66.4L481.1,66.6L479.6,66.7L478.2,66.9L476.7,67.1L475.2,67.3L473.7,67.6L472.2,67.8L470.7,68.1L469.3,68.4L467.8,68.7L466.3,69.0L464.9,69.4L463.4,69.7L462.0,70.0L460.5,70.4L459.0,70.7L457.6,71.1L456.1,71.4L454.7,71.8L453.2,72.1L451.7,72.5L450.3,72.9L448.8,73.3L447.4,73.7L446.0,74.2L444.5,74.6L443.1,75.1L441.7,75.5L440.3,76.0L438.9,76.6L437.4,77.1L436.0,77.6L434.7,78.2L433.3,78.7L431.9,79.3L430.5,79.8L429.1,80.4L427.7,80.9L426.3,81.4L424.8,81.9L423.4,82.4L422.0,82.9L420.6,83.4L419.2,83.9L417.8,84.4L416.4,85.0L415.0,85.5L413.6,86.1L412.2,86.7L410.9,87.4L409.5,88.0L408.2,88.7L406.8,89.4L405.5,90.0L404.2,90.7L402.8,91.4L401.5,92.1L400.1,92.8L398.8,93.5L397.5,94.2L396.1,94.8L394.8,95.5L393.5,96.3L392.2,97.0L390.9,97.7L389.6,98.5L388.3,99.2L387.0,100.0L385.7,100.8L384.4,101.6L383.2,102.4L381.9,103.2L380.7,104.1L379.4,104.9L378.2,105.7L376.9,106.6L375.7,107.4L374.4,108.3L373.2,109.1L372.0,110.0L370.7,110.8L369.5,111.7L368.3,112.5L367.0,113.4L365.8,114.3L364.6,115.2L363.4,116.0L362.2,116.9L361.0,117.9L359.9,118.8L358.7,119.8L357.6,120.8L356.5,121.8L355.4,122.8L354.3,123.9L353.3,124.9L352.2,126.0L351.3,127.1L350.3,128.3L349.4,129.5L348.6,130.7L347.9,131.9L347.3,133.1L347.0,134.4L346.8,135.5L346.9,136.7L347.3,137.7L348.0,138.5L348.9,139.2L349.9,139.6L351.1,139.8L352.4,139.9L353.8,139.7L355.2,139.4L356.6,139.0L358.0,138.5L359.3,137.9L360.7,137.3L362.0,136.6L363.3,135.9L364.7,135.2L366.0,134.4L367.3,133.7L368.6,132.9L369.9,132.2L371.2,131.4L372.5,130.7L373.8,129.9L375.1,129.2L376.4,128.4L377.7,127.7L379.0,126.9L380.3,126.2L381.6,125.4L382.9,124.7L384.2,124.0L385.5,123.2L386.8,122.5L388.2,121.8L389.5,121.1L390.8,120.4L392.1,119.7L393.4,119.0L394.8,118.3L396.1,117.6L397.4,116.9L398.8,116.2L400.1,115.4L401.4,114.7L402.7,114.0L404.1,113.3L405.4,112.6L406.7,111.9L408.0,111.2L409.4,110.5L410.7,109.8L412.0,109.1L413.4,108.5L414.7,107.8L416.1,107.2L417.4,106.5L418.8,105.9L420.2,105.3L421.6,104.7L422.9,104.1L424.3,103.5L425.7,102.9L427.1,102.4L428.5,101.8L429.9,101.2L431.3,100.6L432.6,100.1L434.0,99.5L435.4,98.9L436.8,98.3L438.2,97.7L439.6,97.1L440.9,96.5L442.3,95.9L443.7,95.3L445.0,94.7L446.4,94.1L447.8,93.5L449.2,92.9L450.5,92.3L451.9,91.7L453.3,91.2L454.7,90.6L456.2,90.1L457.6,89.7L459.0,89.2L460.4,88.8L461.9,88.4L463.3,87.9L464.8,87.5L466.2,87.1L467.7,86.7L469.1,86.3L470.6,85.9L472.0,85.5L473.5,85.1L474.9,84.7L476.3,84.2L477.8,83.8L479.2,83.3L480.6,82.9L482.1,82.4L483.5,82.0L484.9,81.6L486.4,81.1L487.8,80.7L489.3,80.3L490.7,79.9L492.2,79.5L493.6,79.1L495.1,78.7L496.5,78.4L498.0,78.0L499.4,77.6L500.9,77.3L502.3,76.9L503.8,76.6L505.3,76.2L506.7,75.8L508.2,75.5L509.6,75.1L511.1,74.8L512.6,74.4L514.0,74.1L515.5,73.7L516.9,73.4L518.4,73.0L519.9,72.7L521.3,72.4L522.8,72.0L524.3,71.7L525.7,71.3L527.2,71.0L528.6,70.6L530.1,70.3L531.6,70.0L533.0,69.6L534.5,69.3L535.8,69.1L536.7,68.9L536.6,68.9L535.6,69.1L534.2,69.4L532.7,69.8L531.2,70.1L529.8,70.4L528.8,70.6L529.3,70.6L530.7,70.3L532.2,70.1L533.6,69.8L535.1,69.5L536.6,69.2L538.0,68.9L539.5,68.6L540.9,68.1L542.3,67.5L543.3,66.4"/>
<path d="M325.2,227.4L325.9,226.1L326.6,224.7L327.3,223.4L328.0,222.1L328.8,220.8L329.6,219.5L330.4,218.3L331.2,217.0L332.1,215.8L333.0,214.6L333.9,213.4L334.8,212.2L335.8,211.1L336.7,209.9L337.7,208.8L338.7,207.6L339.6,206.4L340.6,205.3L341.5,204.1L342.5,203.0L343.5,201.9L344.5,200.7L345.5,199.6L346.5,198.5L347.5,197.4L348.5,196.3L349.5,195.2L350.5,194.1L351.6,193.0L352.6,191.9L353.7,190.9L354.8,189.8L355.9,188.8L356.9,187.7L358.0,186.7L359.1,185.7L360.2,184.7L361.3,183.6L362.4,182.6L363.6,181.6L364.7,180.6L365.8,179.6L366.9,178.6L368.0,177.6L369.1,176.6L370.2,175.6L371.4,174.6L372.5,173.6L373.6,172.6L374.7,171.6L375.9,170.6L377.0,169.6L378.1,168.6L379.3,167.7L380.4,166.7L381.6,165.8L382.8,164.8L383.9,163.9L385.1,162.9L386.3,162.0L387.5,161.1L388.7,160.2L389.9,159.3L391.1,158.4L392.3,157.5L393.5,156.6L394.7,155.8L396.0,154.9L397.2,154.0L398.4,153.2L399.6,152.3L400.9,151.4L402.1,150.6L403.3,149.7L404.6,148.9L405.8,148.0L407.0,147.1L408.3,146.3L409.5,145.4L410.7,144.6L411.9,143.7L413.2,142.8L414.4,142.0L415.7,141.2L416.9,140.3L418.2,139.5L419.5,138.7L420.7,138.0L422.0,137.2L423.3,136.4L424.6,135.7L425.9,134.9L427.2,134.2L428.6,133.5L429.9,132.8L431.2,132.0L432.5,131.3L433.8,130.6L435.2,129.9L436.5,129.2L437.8,128.5L439.2,127.8L440.5,127.1L441.8,126.4L443.2,125.8L444.5,125.1L445.8,124.4L447.2,123.7L448.5,123.0L449.8,122.4L451.2,121.7L452.5,121.0L453.9,120.4L455.2,119.7L456.6,119.0L457.9,118.4L459.3,117.7L460.6,117.1L462.0,116.4L463.3,115.8L464.7,115.1L466.0,114.5L467.4,113.8L468.8,113.2L470.1,112.6L471.5,112.0L472.9,111.4L474.2,110.8L475.6,110.2L477.0,109.6L478.4,109.0L479.8,108.4L481.1,107.8L482.5,107.2L483.9,106.6L485.3,106.0L486.7,105.5L488.1,104.9L489.5,104.3L490.8,103.7L492.2,103.2L493.6,102.6L495.0,102.0L496.4,101.4L497.8,100.8L499.2,100.3L500.5,99.7L501.9,99.1L503.3,98.6L504.7,98.0L506.1,97.4L507.5,96.9L508.9,96.3L510.3,95.8L511.7,95.2L513.1,94.7L514.5,94.2L515.9,93.7L517.3,93.2L518.8,92.7L520.2,92.2L521.6,91.7L523.0,91.3L524.5,90.8L525.9,90.4L527.3,90.0L528.8,89.6L530.2,89.2L531.7,88.8L533.1,88.4L534.6,88.0L536.0,87.6L537.5,87.2L538.9,86.9L540.4,86.5L541.9,86.1L543.3,85.8L544.8,85.4L546.2,85.1L547.7,84.8L549.2,84.4L550.6,84.1L552.1,83.8L553.6,83.5L555.0,83.1L556.5,82.8L558.0,82.5L559.4,82.2L560.9,81.9L562.4,81.6L563.8,81.3L565.3,81.0L566.8,80.7L568.3,80.5L569.7,80.2L571.2,79.9L572.7,79.7L574.2,79.4L575.7,79.2L577.2,79.0L578.6,78.7L580.1,78.5L581.6,78.3L583.1,78.1L584.6,77.9L586.1,77.7L587.6,77.5L589.1,77.4L590.5,77.2L592.0,77.1L593.5,76.9L595.0,76.8L596.5,76.7L598.0,76.7L599.5,76.6L601.0,76.6L602.5,76.6L604.0,76.6L605.5,76.5L607.0,76.5L608.5,76.5L610.0,76.5L611.5,76.4L613.0,76.3L614.5,76.2L616.0,76.2L617.5,76.1L619.0,76.0L620.5,75.9L622.0,75.7L623.5,75.6L624.8,75.5L625.7,75.5L625.5,75.7L624.5,76.0L623.1,76.3L621.7,76.6L620.2,76.9L618.7,77.1L617.2,77.2L615.7,77.3L614.2,77.4L612.7,77.5L611.2,77.6L609.7,77.7L608.2,77.7L606.7,77.8L605.2,77.8L603.7,77.9L602.2,77.9L600.7,78.0L599.2,78.0L597.7,78.1L596.2,78.2L594.7,78.3L593.2,78.5L591.7,78.6L590.2,78.8L588.8,79.0L587.3,79.2L585.8,79.5L584.3,79.7L582.8,79.9L581.3,80.2L579.9,80.4L578.4,80.7L576.9,80.9L575.4,81.2L573.9,81.5L572.5,81.7L571.0,82.0L569.5,82.3L568.1,82.6L566.6,83.0L565.1,83.3L563.7,83.6L562.2,84.0L560.7,84.3L559.3,84.7L557.8,85.0L556.4,85.4L554.9,85.8L553.5,86.2L552.0,86.6L550.6,87.0L549.1,87.4L547.7,87.8L546.2,88.2L544.8,88.6L543.4,89.0L541.9,89.5L540.5,89.9L539.0,90.3L537.6,90.7L536.2,91.2L534.7,91.6L533.3,92.1L531.9,92.5L530.4,92.9L529.0,93.4L527.6,93.8L526.1,94.3L524.7,94.7L523.3,95.2L521.8,95.7L520.4,96.1L519.0,96.6L517.6,97.0L516.1,97.5L514.7,98.0L513.3,98.4L511.8,98.9L510.4,99.4L509.0,99.9L507.6,100.4L506.2,100.8L504.7,101.3L503.3,101.8L501.9,102.3L500.5,102.8L499.1,103.3L497.7,103.8L496.3,104.4L494.8,104.9L493.4,105.4L492.0,105.9L490.6,106.5L489.2,107.0L487.8,107.6L486.4,108.1L485.0,108.7L483.7,109.2L482.3,109.8L480.9,110.4L479.5,110.9L478.1,111.5L476.7,112.1L475.3,112.7L474.0,113.3L472.6,113.9L471.2,114.5L469.9,115.2L468.5,115.8L467.2,116.4L465.8,117.1L464.5,117.8L463.1,118.4L461.8,119.1L460.5,119.8L459.1,120.5L457.8,121.2L456.5,121.9L455.2,122.7L453.9,123.4L452.5,124.1L451.2,124.9L449.9,125.6L448.6,126.4L447.3,127.1L446.0,127.9L444.7,128.6L443.4,129.4L442.2,130.2L440.9,130.9L439.6,131.7L438.3,132.5L437.0,133.2L435.7,134.0L434.4,134.8L433.2,135.6L431.9,136.4L430.6,137.2L429.3,138.0L428.0,138.7L426.8,139.5L425.5,140.3L424.2,141.1L423.0,142.0L421.7,142.8L420.5,143.6L419.2,144.4L418.0,145.3L416.7,146.1L415.5,147.0L414.3,147.9L413.1,148.8L411.9,149.6L410.7,150.5L409.5,151.4L408.3,152.3L407.1,153.2L405.9,154.1L404.6,155.0L403.4,155.9L402.2,156.8L401.1,157.7L399.9,158.7L398.7,159.6L397.5,160.5L396.3,161.4L395.1,162.3L393.9,163.3L392.7,164.2L391.6,165.1L390.4,166.0L389.2,167.0L388.0,167.9L386.8,168.8L385.6,169.7L384.5,170.6L383.3,171.6L382.1,172.5L380.9,173.4L379.7,174.3L378.5,175.2L377.3,176.1L376.1,177.0L374.9,178.0L373.7,178.9L372.5,179.8L371.4,180.7L370.2,181.6L369.0,182.5L367.8,183.5L366.6,184.4L365.5,185.3L364.3,186.3L363.1,187.2L361.9,188.1L360.8,189.1L359.6,190.0L358.4,191.0L357.3,191.9L356.1,192.9L355.0,193.8L353.8,194.8L352.7,195.8L351.6,196.8L350.5,197.8L349.4,198.8L348.3,199.9L347.2,200.9L346.1,202.0L345.1,203.1L344.0,204.1L343.0,205.2L342.0,206.3L340.9,207.4L339.9,208.5L338.9,209.6L337.9,210.7L336.9,211.8L335.9,212.9L334.9,214.1L334.0,215.2L333.1,216.5L332.3,217.7L331.5,219.0L330.7,220.3L329.8,221.5L328.9,222.7L328.0,223.9L327.1,225.0L326.1,226.2L325.2,227.4"/>
<path d="M338.0,61.3L339.5,61.0L341.0,60.8L342.4,60.5L343.9,60.3L345.4,60.0L346.9,59.8L348.4,59.6L349.8,59.4L351.3,59.3L352.8,59.1L354.3,58.9L355.8,58.8L357.3,58.6L358.8,58.5L360.3,58.4L361.8,58.2L363.3,58.1L364.8,58.0L366.2,57.9L367.7,57.8L369.2,57.7L370.7,57.6L372.2,57.5L373.7,57.4L375.2,57.3L376.7,57.2L378.2,57.1L379.7,57.0L381.2,56.9L382.7,56.8L384.2,56.8L385.7,56.7L387.2,56.6L388.7,56.5L390.2,56.5L391.7,56.4L393.2,56.3L394.7,56.3L396.2,56.2L397.7,56.1L399.2,56.1L400.7,56.0L402.2,56.0L403.7,55.9L405.2,55.8L406.7,55.8L408.2,55.8L409.7,55.7L411.1,55.7L412.6,55.6L414.1,55.6L415.6,55.5L417.1,55.5L418.6,55.4L420.1,55.4L421.6,55.4L423.1,55.3L424.6,55.3L426.1,55.2L427.6,55.2L429.1,55.2L430.6,55.1L432.1,55.1L433.6,55.1L435.1,55.0L436.6,55.0L438.1,54.9L439.6,54.9L441.1,54.9L442.6,54.8L444.1,54.8L445.6,54.8L447.1,54.7L448.6,54.7L450.1,54.6L451.6,54.6L453.1,54.5L454.6,54.5L456.1,54.5L457.6,54.4L459.1,54.4L460.6,54.3L462.1,54.3L463.6,54.3L465.1,54.2L466.6,54.2L468.1,54.1L469.6,54.1L471.1,54.1L472.6,54.0L474.1,54.0L475.6,54.0L477.1,54.0L478.6,53.9L480.1,53.9L481.6,53.9L483.1,53.9L484.6,53.8L486.1,53.8L487.6,53.8L489.1,53.8L490.6,53.8L492.1,53.8L493.5,53.7L495.0,53.7L496.5,53.7L498.0,53.7L499.5,53.7L501.0,53.7L502.5,53.7L504.0,53.7L505.5,53.7L507.0,53.7L508.5,53.7L510.0,53.7L511.5,53.7L513.0,53.7L514.5,53.7L516.0,53.7L517.5,53.7L519.0,53.7L520.5,53.7L522.0,53.7L523.5,53.7L525.0,53.7L526.5,53.7L528.0,53.7L529.5,53.7L531.0,53.7L532.5,53.7L534.0,53.7L535.5,53.7L537.0,53.7L538.5,53.7L540.0,53.7L541.5,53.7L543.0,53.7L544.5,53.7L546.0,53.7L547.5,53.7L549.0,53.7L550.5,53.7L552.0,53.7L553.5,53.7L555.0,53.7L556.5,53.7L558.0,53.7L559.5,53.7L561.0,53.7L562.5,53.7L564.0,53.7L565.5,53.7L567.0,53.7L568.5,53.7L570.0,53.7L571.5,53.8L573.0,53.8L574.5,53.8L576.0,53.8L577.5,53.8L579.0,53.8L580.5,53.8L582.0,53.8L583.5,53.8L585.0,53.9L586.5,53.9L588.0,53.9L589.5,53.9L591.0,53.9L592.5,53.9L594.0,53.9L595.5,54.0L597.0,54.0L598.4,54.0L599.9,54.0L601.4,54.1L602.9,54.1L604.2,54.1L604.8,54.2L604.3,54.3L603.0,54.3L601.6,54.4L600.1,54.4L598.6,54.4L597.1,54.4L595.6,54.5L594.1,54.5L592.6,54.5L591.1,54.5L589.6,54.5L588.1,54.5L586.6,54.5L585.1,54.5L583.6,54.5L582.1,54.5L580.6,54.5L579.1,54.4L577.6,54.4L576.1,54.4L574.6,54.4L573.1,54.4L571.6,54.4L570.1,54.4L568.6,54.4L567.1,54.3L565.6,54.3L564.1,54.3L562.6,54.3L561.1,54.3L559.6,54.3L558.1,54.3L556.6,54.3L555.1,54.3L553.6,54.3L552.1,54.3L550.6,54.3L549.1,54.3L547.6,54.3L546.1,54.3L544.6,54.3L543.1,54.3L541.6,54.3L540.1,54.3L538.6,54.3L537.1,54.3L535.6,54.3L534.1,54.3L532.6,54.3L531.1,54.3L529.6,54.3L528.1,54.3L526.6,54.3L525.1,54.3L523.6,54.3L522.1,54.3L520.6,54.3L519.1,54.3L517.6,54.3L516.2,54.3L514.7,54.3L513.2,54.3L511.7,54.3L510.2,54.3L508.7,54.3L507.2,54.3L505.7,54.3L504.2,54.3L502.7,54.3L501.2,54.3L499.7,54.3L498.2,54.3L496.7,54.3L495.2,54.4L493.7,54.4L492.2,54.4L490.7,54.4L489.2,54.5L487.7,54.5L486.2,54.5L484.7,54.6L483.2,54.6L481.7,54.6L480.2,54.7L478.7,54.7L477.2,54.7L475.7,54.8L474.2,54.8L472.7,54.9L471.2,54.9L469.7,55.0L468.2,55.0L466.7,55.1L465.2,55.1L463.7,55.2L462.2,55.2L460.7,55.3L459.2,55.3L457.7,55.4L456.2,55.5L454.7,55.5L453.2,55.6L451.7,55.6L450.2,55.7L448.7,55.7L447.2,55.8L445.7,55.9L444.2,55.9L442.7,56.0L441.2,56.0L439.8,56.1L438.3,56.2L436.8,56.2L435.3,56.3L433.8,56.4L432.3,56.4L430.8,56.5L429.3,56.5L427.8,56.6L426.3,56.7L424.8,56.7L423.3,56.8L421.8,56.8L420.3,56.9L418.8,56.9L417.3,57.0L415.8,57.0L414.3,57.1L412.8,57.1L411.3,57.2L409.8,57.2L408.3,57.3L406.8,57.3L405.3,57.4L403.8,57.4L402.3,57.5L400.8,57.5L399.3,57.6L397.8,57.6L396.3,57.7L394.8,57.7L393.3,57.8L391.8,57.9L390.3,57.9L388.8,58.0L387.3,58.0L385.8,58.1L384.3,58.1L382.8,58.2L381.3,58.3L379.8,58.3L378.4,58.4L376.9,58.5L375.4,58.5L373.9,58.6L372.4,58.7L370.9,58.8L369.4,58.8L367.9,58.9L366.4,59.0L364.9,59.1L363.4,59.2L361.9,59.3L360.4,59.4L358.9,59.5L357.4,59.6L355.9,59.7L354.4,59.9L352.9,60.0L351.4,60.1L349.9,60.2L348.4,60.3L347.0,60.5L345.5,60.6L344.0,60.7L342.5,60.9L341.0,61.0L339.5,61.2L338.0,61.3"/>
</g>
<circle cx="473" cy="76.8" r="7.3" fill="#000"/>
<g fill="#000">
<rect x="79.62" y="35.02" width="0.76" height="750.3"/>
<rect x="79.62" y="784.57" width="750.06" height="0.76"/>
<rect x="79.62" y="35.02" width="750.06" height="0.76"/>
<rect x="828.92" y="35.02" width="0.76" height="750.3"/>
<rect x="97.31" y="782.20" width="0.6" height="2.80"/>
<rect x="97.31" y="35.40" width="0.6" height="2.80"/>
<rect x="133.00" y="782.20" width="0.6" height="2.80"/>
<rect x="133.00" y="35.40" width="0.6" height="2.80"/>
<rect x="168.70" y="780.00" width="0.6" height="5.00"/>
<rect x="168.70" y="35.40" width="0.6" height="5.00"/>
<rect x="204.39" y="782.20" width="0.6" height="2.80"/>
<rect x="204.39" y="35.40" width="0.6" height="2.80"/>
<rect x="240.09" y="782.20" width="0.6" height="2.80"/>
<rect x="240.09" y="35.40" width="0.6" height="2.80"/>
<rect x="275.79" y="782.20" width="0.6" height="2.80"/>
<rect x="275.79" y="35.40" width="0.6" height="2.80"/>
<rect x="311.48" y="780.00" width="0.6" height="5.00"/>
<rect x="311.48" y="35.40" width="0.6" height="5.00"/>
<rect x="347.18" y="782.20" width="0.6" height="2.80"/>
<rect x="347.18" y="35.40" width="0.6" height="2.80"/>
<rect x="382.87" y="782.20" width="0.6" height="2.80"/>
<rect x="382.87" y="35.40" width="0.6" height="2.80"/>
<rect x="418.56" y="782.20" width="0.6" height="2.80"/>
<rect x="418.56" y="35.40" width="0.6" height="2.80"/>
<rect x="454.26" y="780.00" width="0.6" height="5.00"/>
<rect x="454.26" y="35.40" width="0.6" height="5.00"/>
<rect x="489.95" y="782.20" width="0.6" height="2.80"/>
<rect x="489.95" y="35.40" width="0.6" height="2.80"/>
<rect x="525.65" y="782.20" width="0.6" height="2.80"/>
<rect x="525.65" y="35.40" width="0.6" height="2.80"/>
<rect x="561.35" y="782.20" width="0.6" height="2.80"/>
<rect x="561.35" y="35.40" width="0.6" height="2.80"/>
<rect x="597.04" y="780.00" width="0.6" height="5.00"/>
<rect x="597.04" y="35.40" width="0.6" height="5.00"/>
<rect x="632.74" y="782.20" width="0.6" height="2.80"/>
<rect x="632.74" y="35.40" width="0.6" height="2.80"/>
<rect x="668.43" y="782.20" width="0.6" height="2.80"/>
<rect x="668.43" y="35.40" width="0.6" height="2.80"/>
<rect x="704.12" y="782.20" width="0.6" height="2.80"/>
<rect x="704.12" y="35.40" width="0.6" height="2.80"/>
<rect x="739.82" y="780.00" width="0.6" height="5.00"/>
<rect x="739.82" y="35.40" width="0.6" height="5.00"/>
<rect x="775.52" y="782.20" width="0.6" height="2.80"/>
<rect x="775.52" y="35.40" width="0.6" height="2.80"/>
<rect x="811.21" y="782.20" width="0.6" height="2.80"/>
<rect x="811.21" y="35.40" width="0.6" height="2.80"/>
<rect x="80" y="778.06" width="2.80" height="0.6"/>
<rect x="826.50" y="778.06" width="2.80" height="0.6"/>
<rect x="80" y="747.82" width="2.80" height="0.6"/>
<rect x="826.50" y="747.82" width="2.80" height="0.6"/>
<rect x="80" y="717.58" width="2.80" height="0.6"/>
<rect x="826.50" y="717.58" width="2.80" height="0.6"/>
<rect x="80" y="687.34" width="2.80" height="0.6"/>
<rect x="826.50" y="687.34" width="2.80" height="0.6"/>
<rect x="80" y="657.10" width="5.00" height="0.6"/>
<rect x="824.30" y="657.10" width="5.00" height="0.6"/>
<rect x="80" y="626.86" width="2.80" height="0.6"/>
<rect x="826.50" y="626.86" width="2.80" height="0.6"/>
<rect x="80" y="596.62" width="2.80" height="0.6"/>
<rect x="826.50" y="596.62" width="2.80" height="0.6"/>
<rect x="80" y="566.38" width="2.80" height="0.6"/>
<rect x="826.50" y="566.38" width="2.80" height="0.6"/>
<rect x="80" y="536.14" width="2.80" height="0.6"/>
<rect x="826.50" y="536.14" width="2.80" height="0.6"/>
<rect x="80" y="505.90" width="5.00" height="0.6"/>
<rect x="824.30" y="505.90" width="5.00" height="0.6"/>
<rect x="80" y="475.66" width="2.80" height="0.6"/>
<rect x="826.50" y="475.66" width="2.80" height="0.6"/>
<rect x="80" y="445.42" width="2.80" height="0.6"/>
<rect x="826.50" y="445.42" width="2.80" height="0.6"/>
<rect x="80" y="415.18" width="2.80" height="0.6"/>
<rect x="826.50" y="415.18" width="2.80" height="0.6"/>
<rect x="80" y="384.94" width="2.80" height="0.6"/>
<rect x="826.50" y="384.94" width="2.80" height="0.6"/>
<rect x="80" y="354.70" width="5.00" height="0.6"/>
<rect x="824.30" y="354.70" width="5.00" height="0.6"/>
<rect x="80" y="324.46" width="2.80" height="0.6"/>
<rect x="826.50" y="324.46" width="2.80" height="0.6"/>
<rect x="80" y="294.22" width="2.80" height="0.6"/>
<rect x="826.50" y="294.22" width="2.80" height="0.6"/>
<rect x="80" y="263.98" width="2.80" height="0.6"/>
<rect x="826.50" y="263.98" width="2.80" height="0.6"/>
<rect x="80" y="233.74" width="2.80" height="0.6"/>
<rect x="826.50" y="233.74" width="2.80" height="0.6"/>
<rect x="80" y="203.50" width="5.00" height="0.6"/>
<rect x="824.30" y="203.50" width="5.00" height="0.6"/>
<rect x="80" y="173.26" width="2.80" height="0.6"/>
<rect x="826.50" y="173.26" width="2.80" height="0.6"/>
<rect x="80" y="143.02" width="2.80" height="0.6"/>
<rect x="826.50" y="143.02" width="2.80" height="0.6"/>
<rect x="80" y="112.78" width="2.80" height="0.6"/>
<rect x="826.50" y="112.78" width="2.80" height="0.6"/>
<rect x="80" y="82.54" width="2.80" height="0.6"/>
<rect x="826.50" y="82.54" width="2.80" height="0.6"/>
<rect x="80" y="52.30" width="5.00" height="0.6"/>
<rect x="824.30" y="52.30" width="5.00" height="0.6"/>
</g>
<path d="M445.8,14.0 L448.6,14.5 L444.5,21.9 L442.8,21.3 Z" fill="#111"/>
<g font-family="'Liberation Mono', monospace" fill="#000" stroke="#fff" stroke-width="0.22" paint-order="fill stroke" opacity="0.99">
<text transform="translate(321.73,18.60) scale(1.1600,1)" font-size="19.50" text-anchor="middle">P</text>
<text transform="translate(335.79,18.60) scale(1.1600,1)" font-size="19.50" text-anchor="middle">D</text>
<text transform="translate(349.85,18.60) scale(1.1600,1)" font-size="19.50" text-anchor="middle">F</text>
<text transform="translate(377.97,18.60) scale(1.1600,1)" font-size="19.50" text-anchor="middle">o</text>
<text transform="translate(392.03,18.60) scale(1.1600,1)" font-size="19.50" text-anchor="middle">f</text>
<text transform="translate(420.15,18.60) scale(1.1600,1)" font-size="19.50" text-anchor="middle">(</text>
<text transform="translate(462.33,18.60) scale(1.2500,1)" font-size="19.50" text-anchor="middle">A</text>
<text transform="translate(476.39,18.60) scale(1.1600,1)" font-size="19.50" text-anchor="middle">)</text>
<text transform="translate(504.51,18.60) scale(1.1600,1)" font-size="19.50" text-anchor="middle">f</text>
<text transform="translate(518.57,18.60) scale(1.1600,1)" font-size="19.50" text-anchor="middle">o</text>
<text transform="translate(532.63,18.60) scale(1.1600,1)" font-size="19.50" text-anchor="middle">r</text>
<text transform="translate(560.75,18.60) scale(1.1600,1)" font-size="19.50" text-anchor="middle">k</text>
<text transform="translate(574.81,18.60) scale(1.1600,1)" font-size="19.50" text-anchor="middle">=</text>
<text transform="translate(588.87,18.60) scale(1.1600,1)" font-size="19.50" text-anchor="middle">0</text>
<text transform="translate(169.20,812.20) scale(0.9400,1)" font-size="19.60" text-anchor="middle">0</text>
<text transform="translate(311.98,812.20) scale(0.9400,1)" font-size="19.60" text-anchor="middle">2</text>
<text transform="translate(454.76,812.20) scale(0.9400,1)" font-size="19.60" text-anchor="middle">4</text>
<text transform="translate(597.54,812.20) scale(0.9400,1)" font-size="19.60" text-anchor="middle">6</text>
<text transform="translate(740.32,812.20) scale(0.9400,1)" font-size="19.60" text-anchor="middle">8</text>
<text transform="translate(61.98,58.20) scale(0.9400,1)" font-size="19.60" text-anchor="middle">1</text>
<text transform="translate(37.08,209.40) scale(0.9400,1)" font-size="19.60" text-anchor="middle">0</text>
<text transform="translate(49.53,209.40) scale(0.9400,1)" font-size="19.60" text-anchor="middle">.</text>
<text transform="translate(61.98,209.40) scale(0.9400,1)" font-size="19.60" text-anchor="middle">9</text>
<text transform="translate(37.08,360.60) scale(0.9400,1)" font-size="19.60" text-anchor="middle">0</text>
<text transform="translate(49.53,360.60) scale(0.9400,1)" font-size="19.60" text-anchor="middle">.</text>
<text transform="translate(61.98,360.60) scale(0.9400,1)" font-size="19.60" text-anchor="middle">8</text>
<text transform="translate(37.08,511.80) scale(0.9400,1)" font-size="19.60" text-anchor="middle">0</text>
<text transform="translate(49.53,511.80) scale(0.9400,1)" font-size="19.60" text-anchor="middle">.</text>
<text transform="translate(61.98,511.80) scale(0.9400,1)" font-size="19.60" text-anchor="middle">7</text>
<text transform="translate(37.08,663.00) scale(0.9400,1)" font-size="19.60" text-anchor="middle">0</text>
<text transform="translate(49.53,663.00) scale(0.9400,1)" font-size="19.60" text-anchor="middle">.</text>
<text transform="translate(61.98,663.00) scale(0.9400,1)" font-size="19.60" text-anchor="middle">6</text>
<text transform="translate(11.93,415.80) scale(1.2500,1)" font-size="19.50" text-anchor="middle">A</text>
</g>
<ellipse cx="588.87" cy="12.21" rx="2.60" ry="1.95" fill="#fff"/>
<ellipse cx="169.20" cy="805.78" rx="2.12" ry="1.96" fill="#fff"/>
<ellipse cx="37.08" cy="202.98" rx="2.12" ry="1.96" fill="#fff"/>
<ellipse cx="37.08" cy="354.18" rx="2.12" ry="1.96" fill="#fff"/>
<ellipse cx="37.08" cy="505.38" rx="2.12" ry="1.96" fill="#fff"/>
<ellipse cx="37.08" cy="656.58" rx="2.12" ry="1.96" fill="#fff"/>
<rect x="458.2" y="3.1" width="7.6" height="1.1" fill="#111"/>
<rect x="8.3" y="400" width="7.6" height="1.1" fill="#111"/>
<g fill="#111"><rect x="5.0" y="414.8" width="4.8" height="1.1"/><rect x="14.2" y="414.8" width="4.8" height="1.1"/><rect x="7.4" y="402.0" width="4.6" height="1.0"/></g>
<g fill="#111"><rect x="454.7" y="17.6" width="4.8" height="1.1"/><rect x="463.9" y="17.6" width="4.8" height="1.1"/><rect x="457.1" y="5.6" width="4.6" height="1.0"/></g>
<g font-family="'Liberation Serif', serif" font-style="italic" fill="#111" opacity="0.99">
<text x="425.2" y="18.7" font-size="24">α</text>
<text x="447.5" y="837" font-size="25">α</text>
</g>
</svg>
</body></html>
